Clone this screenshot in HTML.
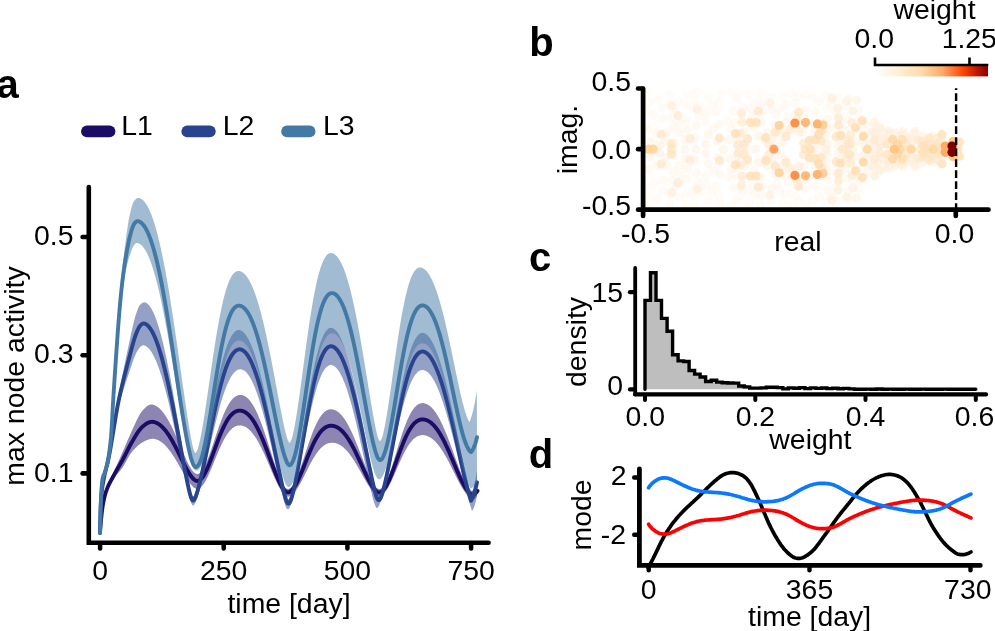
<!DOCTYPE html><html><head><meta charset="utf-8"><title>figure</title>
<style>html,body{margin:0;padding:0;background:#fff;}svg{display:block;will-change:transform;}text{font-family:"Liberation Sans",sans-serif;fill:#000;}</style></head><body>
<svg width="995" height="631" viewBox="0 0 995 631">
<rect width="995" height="631" fill="#fff"/>
<g id="panel-a">
<path d="M100 532.8 L100.5 525.6 L101 519.5 L101.5 514.5 L102 510.1 L102.5 506.3 L103 503.2 L103.5 500.5 L104 498.1 L104.5 495.9 L105 494 L105.5 492.2 L106 490.6 L106.5 489.1 L107 487.6 L107.5 486.3 L108 485 L108.5 483.8 L109 482.6 L109.5 481.5 L110 480.4 L110.5 479.4 L111 478.3 L111.5 477.2 L112 476.1 L112.5 474.9 L113 473.8 L113.5 472.7 L114 471.5 L114.5 470.4 L115 469.2 L115.5 468.1 L116 467 L116.5 465.8 L117 464.7 L117.5 463.6 L118 462.4 L118.5 461.3 L119 460.2 L119.5 459.1 L120 458 L120.5 456.8 L121 455.7 L121.5 454.6 L122 453.5 L122.5 452.3 L123 451.2 L123.5 450 L124 448.9 L124.5 447.7 L125 446.5 L125.5 445.3 L126 444.2 L126.5 443 L127 441.8 L127.5 440.6 L128 439.5 L128.5 438.3 L129 437.2 L129.5 436 L130 434.9 L130.5 433.8 L131 432.7 L131.5 431.6 L132 430.6 L132.5 429.5 L133 428.4 L133.5 427.3 L134 426.2 L134.5 425.1 L135 424 L135.5 422.9 L136 421.8 L136.5 420.7 L137 419.7 L137.5 418.7 L138 417.7 L138.5 416.8 L139 415.8 L139.5 415 L140 414.1 L140.5 413.3 L141 412.6 L141.5 411.9 L142 411.3 L142.5 410.6 L143 410 L143.5 409.5 L144 408.9 L144.5 408.4 L145 407.9 L145.5 407.4 L146 407 L146.5 406.6 L147 406.2 L147.5 405.9 L148 405.5 L148.5 405.3 L149 405 L149.5 404.9 L150 404.7 L150.1 404.6 L150.6 404.5 L151.1 404.5 L151.6 404.5 L152.1 404.6 L152.6 404.6 L153.1 404.7 L153.6 404.9 L154.1 405 L154.6 405.2 L155.1 405.4 L155.6 405.7 L156.1 406 L156.6 406.3 L157.1 406.6 L157.6 406.9 L158.1 407.3 L158.6 407.7 L159.1 408.1 L159.6 408.6 L160.1 409 L160.6 409.5 L161.1 410.1 L161.6 410.6 L162.1 411.2 L162.6 411.8 L163.1 412.4 L163.6 413.1 L164.1 413.7 L164.6 414.4 L165.1 415.2 L165.6 415.9 L166.1 416.7 L166.6 417.5 L167.1 418.3 L167.6 419.2 L168.1 420 L168.6 420.9 L169.1 421.8 L169.6 422.7 L170.1 423.7 L170.6 424.7 L171.1 425.6 L171.6 426.6 L172.1 427.7 L172.6 428.7 L173.1 429.8 L173.6 430.8 L174.1 431.9 L174.6 433 L175.1 434.1 L175.6 435.3 L176.1 436.4 L176.6 437.5 L177.1 438.7 L177.6 439.8 L178.1 441 L178.6 442.2 L179.1 443.4 L179.6 444.5 L180.1 445.7 L180.6 446.9 L181.1 448.1 L181.6 449.2 L182.1 450.4 L182.6 451.6 L183.1 452.7 L183.6 453.9 L184.1 455 L184.6 456.1 L185.1 457.2 L185.6 458.3 L186.1 459.4 L186.6 460.5 L187.1 461.5 L187.6 462.5 L188.1 463.5 L188.6 464.4 L189.1 465.4 L189.6 466.3 L190.1 467.1 L190.6 467.9 L191.1 468.7 L191.6 469.5 L192.1 470.2 L192.6 470.8 L193.1 471.4 L193.6 472 L194.1 472.5 L194.6 472.9 L195.1 473.3 L195.6 473.6 L196.1 473.8 L196.6 473.9 L197 474 L197.5 474 L198 473.9 L198.5 473.8 L199 473.5 L199.5 473.2 L200 472.8 L200.5 472.4 L201 471.9 L201.5 471.3 L202 470.6 L202.5 469.9 L203 469.1 L203.5 468.3 L204 467.4 L204.5 466.5 L205 465.5 L205.5 464.4 L206 463.3 L206.5 462.2 L207 461 L207.5 459.8 L208 458.5 L208.5 457.2 L209 455.9 L209.5 454.5 L210 453.1 L210.5 451.7 L211 450.3 L211.5 448.8 L212 447.3 L212.5 445.9 L213 444.4 L213.5 442.9 L214 441.4 L214.5 439.8 L215 438.3 L215.5 436.8 L216 435.3 L216.5 433.8 L217 432.4 L217.5 430.9 L218 429.4 L218.5 428 L219 426.5 L219.5 425.1 L220 423.7 L220.5 422.4 L221 421 L221.5 419.7 L222 418.4 L222.5 417.2 L223 415.9 L223.5 414.7 L224 413.6 L224.5 412.4 L225 411.3 L225.5 410.2 L226 409.2 L226.5 408.2 L227 407.2 L227.5 406.3 L228 405.4 L228.5 404.6 L229 403.7 L229.5 403 L230 402.2 L230.5 401.5 L231 400.8 L231.5 400.2 L232 399.6 L232.5 399 L233 398.5 L233.5 398 L234 397.6 L234.5 397.2 L235 396.8 L235.5 396.5 L236 396.2 L236.5 395.9 L237 395.7 L237.5 395.4 L238 395.3 L238.5 395.1 L239 395 L239.5 395 L240 394.9 L240.4 394.9 L240.9 394.9 L241.4 395 L241.9 395 L242.4 395.2 L242.9 395.3 L243.4 395.5 L243.9 395.7 L244.4 395.9 L244.9 396.2 L245.4 396.5 L245.9 396.8 L246.4 397.2 L246.9 397.6 L247.4 398 L247.9 398.5 L248.4 399 L248.9 399.5 L249.4 400.1 L249.9 400.7 L250.4 401.3 L250.9 402 L251.4 402.7 L251.9 403.4 L252.4 404.2 L252.9 405 L253.4 405.8 L253.9 406.7 L254.4 407.6 L254.9 408.5 L255.4 409.5 L255.9 410.5 L256.4 411.5 L256.9 412.6 L257.4 413.7 L257.9 414.8 L258.4 416 L258.9 417.2 L259.4 418.4 L259.9 419.6 L260.4 420.9 L260.9 422.2 L261.4 423.5 L261.9 424.9 L262.4 426.3 L262.9 427.6 L263.4 429.1 L263.9 430.5 L264.4 432 L264.9 433.4 L265.4 434.9 L265.9 436.4 L266.4 438 L266.9 439.5 L267.4 441 L267.9 442.6 L268.4 444.2 L268.9 445.7 L269.4 447.3 L269.9 448.9 L270.4 450.5 L270.9 452 L271.4 453.6 L271.9 455.2 L272.4 456.8 L272.9 458.3 L273.4 459.9 L273.9 461.4 L274.4 463 L274.9 464.5 L275.4 465.9 L275.9 467.4 L276.4 468.9 L276.9 470.3 L277.4 471.7 L277.9 473 L278.4 474.4 L278.9 475.7 L279.4 476.9 L279.9 478.1 L280.4 479.3 L280.9 480.4 L281.4 481.5 L281.9 482.5 L282.4 483.4 L282.9 484.3 L283.4 485.1 L283.9 485.9 L284.4 486.6 L284.9 487.2 L285.4 487.7 L285.9 488.1 L286.4 488.4 L286.9 488.7 L287.4 488.8 L287.9 488.9 L288.4 488.9 L288.9 488.8 L289.4 488.5 L289.9 488.3 L290.4 487.9 L290.9 487.4 L291.4 486.9 L291.9 486.3 L292.4 485.7 L292.9 485 L293.4 484.2 L293.9 483.3 L294.4 482.4 L294.9 481.5 L295.4 480.5 L295.9 479.4 L296.4 478.3 L296.9 477.2 L297.4 476 L297.9 474.7 L298.4 473.4 L298.9 472.1 L299.4 470.8 L299.9 469.4 L300.4 468 L300.9 466.6 L301.4 465.1 L301.9 463.7 L302.4 462.2 L302.9 460.7 L303.4 459.2 L303.9 457.7 L304.4 456.2 L304.9 454.7 L305.4 453.1 L305.9 451.6 L306.4 450.1 L306.9 448.6 L307.4 447.1 L307.9 445.6 L308.4 444.1 L308.9 442.7 L309.4 441.2 L309.9 439.8 L310.4 438.4 L310.9 437 L311.4 435.7 L311.9 434.4 L312.4 433.1 L312.9 431.8 L313.4 430.5 L313.9 429.3 L314.4 428.2 L314.9 427 L315.4 425.9 L315.9 424.8 L316.4 423.8 L316.9 422.7 L317.4 421.8 L317.9 420.8 L318.4 419.9 L318.9 419.1 L319.4 418.2 L319.9 417.5 L320.4 416.7 L320.9 416 L321.4 415.3 L321.9 414.7 L322.4 414.1 L322.9 413.5 L323.4 413 L323.9 412.5 L324.4 412.1 L324.9 411.6 L325.4 411.3 L325.9 410.9 L326.4 410.6 L326.9 410.3 L327.4 410.1 L327.9 409.9 L328.4 409.7 L328.9 409.6 L329.4 409.5 L329.9 409.4 L330.4 409.3 L330.8 409.3 L331.3 409.3 L331.8 409.3 L332.3 409.4 L332.8 409.5 L333.3 409.6 L333.8 409.7 L334.3 409.9 L334.8 410.1 L335.3 410.3 L335.8 410.5 L336.3 410.8 L336.8 411.1 L337.3 411.4 L337.8 411.8 L338.3 412.1 L338.8 412.5 L339.3 413 L339.8 413.4 L340.3 413.9 L340.8 414.4 L341.3 415 L341.8 415.5 L342.3 416.1 L342.8 416.7 L343.3 417.4 L343.8 418.1 L344.3 418.8 L344.8 419.5 L345.3 420.3 L345.8 421 L346.3 421.8 L346.8 422.7 L347.3 423.5 L347.8 424.4 L348.3 425.3 L348.8 426.3 L349.3 427.2 L349.8 428.2 L350.3 429.2 L350.8 430.3 L351.3 431.3 L351.8 432.4 L352.3 433.5 L352.8 434.6 L353.3 435.7 L353.8 436.9 L354.3 438 L354.8 439.2 L355.3 440.4 L355.8 441.6 L356.3 442.9 L356.8 444.1 L357.3 445.4 L357.8 446.6 L358.3 447.9 L358.8 449.2 L359.3 450.5 L359.8 451.8 L360.3 453.1 L360.8 454.4 L361.3 455.7 L361.8 457 L362.3 458.3 L362.8 459.6 L363.3 460.9 L363.8 462.2 L364.3 463.5 L364.8 464.8 L365.3 466.1 L365.8 467.3 L366.3 468.6 L366.8 469.8 L367.3 471 L367.8 472.2 L368.3 473.4 L368.8 474.5 L369.3 475.7 L369.8 476.8 L370.3 477.8 L370.8 478.9 L371.3 479.9 L371.8 480.8 L372.3 481.8 L372.8 482.7 L373.3 483.5 L373.8 484.3 L374.3 485 L374.8 485.7 L375.3 486.4 L375.8 486.9 L376.3 487.5 L376.8 487.9 L377.3 488.3 L377.8 488.6 L378.3 488.8 L378.8 488.9 L379 489 L379.5 489 L380 488.9 L380.5 488.7 L381 488.4 L381.5 488.1 L382 487.7 L382.5 487.2 L383 486.6 L383.5 486 L384 485.3 L384.5 484.5 L385 483.6 L385.5 482.7 L386 481.8 L386.5 480.7 L387 479.6 L387.5 478.5 L388 477.3 L388.5 476 L389 474.8 L389.5 473.4 L390 472 L390.5 470.6 L391 469.2 L391.5 467.7 L392 466.2 L392.5 464.6 L393 463.1 L393.5 461.5 L394 459.9 L394.5 458.3 L395 456.7 L395.5 455 L396 453.4 L396.5 451.8 L397 450.1 L397.5 448.5 L398 446.9 L398.5 445.2 L399 443.6 L399.5 442 L400 440.4 L400.5 438.9 L401 437.3 L401.5 435.8 L402 434.3 L402.5 432.8 L403 431.3 L403.5 429.9 L404 428.5 L404.5 427.1 L405 425.8 L405.5 424.5 L406 423.2 L406.5 422 L407 420.8 L407.5 419.6 L408 418.5 L408.5 417.4 L409 416.4 L409.5 415.4 L410 414.4 L410.5 413.5 L411 412.6 L411.5 411.8 L412 411 L412.5 410.2 L413 409.5 L413.5 408.8 L414 408.2 L414.5 407.6 L415 407 L415.5 406.5 L416 406 L416.5 405.6 L417 405.2 L417.5 404.8 L418 404.5 L418.5 404.2 L419 403.9 L419.5 403.7 L420 403.5 L420.5 403.4 L421 403.3 L421.5 403.2 L422 403.1 L422.3 403.1 L422.8 403.1 L423.3 403.1 L423.8 403.2 L424.3 403.3 L424.8 403.4 L425.3 403.5 L425.8 403.7 L426.3 403.9 L426.8 404.1 L427.3 404.4 L427.8 404.6 L428.3 404.9 L428.8 405.3 L429.3 405.6 L429.8 406 L430.3 406.4 L430.8 406.8 L431.3 407.3 L431.8 407.8 L432.3 408.3 L432.8 408.9 L433.3 409.5 L433.8 410.1 L434.3 410.7 L434.8 411.4 L435.3 412.1 L435.8 412.8 L436.3 413.5 L436.8 414.3 L437.3 415.1 L437.8 415.9 L438.3 416.8 L438.8 417.7 L439.3 418.6 L439.8 419.5 L440.3 420.5 L440.8 421.5 L441.3 422.5 L441.8 423.5 L442.3 424.6 L442.8 425.6 L443.3 426.7 L443.8 427.9 L444.3 429 L444.8 430.2 L445.3 431.4 L445.8 432.6 L446.3 433.8 L446.8 435.1 L447.3 436.3 L447.8 437.6 L448.3 438.9 L448.8 440.2 L449.3 441.5 L449.8 442.8 L450.3 444.2 L450.8 445.5 L451.3 446.9 L451.8 448.3 L452.3 449.6 L452.8 451 L453.3 452.4 L453.8 453.8 L454.3 455.2 L454.8 456.5 L455.3 457.9 L455.8 459.3 L456.3 460.7 L456.8 462 L457.3 463.4 L457.8 464.7 L458.3 466.1 L458.8 467.4 L459.3 468.7 L459.8 470 L460.3 471.2 L460.8 472.5 L461.3 473.7 L461.8 474.9 L462.3 476.1 L462.8 477.2 L463.3 478.3 L463.8 479.4 L464.3 480.4 L464.8 481.4 L465.3 482.4 L465.8 483.3 L466.3 484.2 L466.8 485 L467.3 485.8 L467.8 486.5 L468.3 487.2 L468.8 487.8 L469.3 488.4 L469.8 489.1 L470.3 489.6 L470.8 490.2 L471.3 490.6 L471.8 490.9 L472 491 L472.5 490.8 L473 490.6 L473.5 490.3 L474 489.9 L474.5 489.5 L475 489 L475.5 488.4 L476 487.7 L476.5 486.9 L477 486 L477 496 L476.5 496.7 L476 497.3 L475.5 497.8 L475 498.2 L474.5 498.5 L474 498.7 L473.5 498.8 L473 498.9 L472.5 499 L472 499 L471.8 498.9 L471.3 498.7 L470.8 498.4 L470.3 498 L469.8 497.6 L469.3 497.1 L468.8 496.7 L468.3 496.2 L467.8 495.7 L467.3 495.2 L466.8 494.7 L466.3 494.1 L465.8 493.4 L465.3 492.8 L464.8 492.1 L464.3 491.3 L463.8 490.6 L463.3 489.8 L462.8 489 L462.3 488.1 L461.8 487.3 L461.3 486.4 L460.8 485.5 L460.3 484.6 L459.8 483.7 L459.3 482.8 L458.8 481.8 L458.3 480.9 L457.8 479.9 L457.3 478.9 L456.8 477.9 L456.3 476.9 L455.8 475.9 L455.3 474.9 L454.8 473.9 L454.3 472.9 L453.8 471.9 L453.3 470.9 L452.8 469.9 L452.3 468.9 L451.8 467.9 L451.3 466.9 L450.8 465.9 L450.3 465 L449.8 464 L449.3 463 L448.8 462.1 L448.3 461.1 L447.8 460.2 L447.3 459.2 L446.8 458.3 L446.3 457.4 L445.8 456.5 L445.3 455.7 L444.8 454.8 L444.3 453.9 L443.8 453.1 L443.3 452.3 L442.8 451.5 L442.3 450.7 L441.8 449.9 L441.3 449.2 L440.8 448.4 L440.3 447.7 L439.8 447 L439.3 446.4 L438.8 445.7 L438.3 445.1 L437.8 444.4 L437.3 443.8 L436.8 443.2 L436.3 442.7 L435.8 442.1 L435.3 441.6 L434.8 441.1 L434.3 440.6 L433.8 440.2 L433.3 439.7 L432.8 439.3 L432.3 438.9 L431.8 438.5 L431.3 438.2 L430.8 437.8 L430.3 437.5 L429.8 437.2 L429.3 436.9 L428.8 436.7 L428.3 436.4 L427.8 436.2 L427.3 436 L426.8 435.8 L426.3 435.7 L425.8 435.5 L425.3 435.4 L424.8 435.3 L424.3 435.2 L423.8 435.2 L423.3 435.1 L422.8 435.1 L422.3 435.1 L422 435.1 L421.5 435.2 L421 435.2 L420.5 435.3 L420 435.4 L419.5 435.5 L419 435.7 L418.5 435.9 L418 436.1 L417.5 436.3 L417 436.6 L416.5 436.8 L416 437.2 L415.5 437.5 L415 437.9 L414.5 438.3 L414 438.7 L413.5 439.1 L413 439.6 L412.5 440.1 L412 440.7 L411.5 441.3 L411 441.9 L410.5 442.5 L410 443.1 L409.5 443.8 L409 444.5 L408.5 445.3 L408 446 L407.5 446.8 L407 447.7 L406.5 448.5 L406 449.4 L405.5 450.3 L405 451.2 L404.5 452.2 L404 453.1 L403.5 454.1 L403 455.1 L402.5 456.2 L402 457.2 L401.5 458.3 L401 459.4 L400.5 460.5 L400 461.6 L399.5 462.7 L399 463.9 L398.5 465 L398 466.2 L397.5 467.3 L397 468.5 L396.5 469.6 L396 470.8 L395.5 472 L395 473.1 L394.5 474.3 L394 475.4 L393.5 476.6 L393 477.7 L392.5 478.8 L392 479.9 L391.5 480.9 L391 482 L390.5 483 L390 484 L389.5 485 L389 486 L388.5 486.9 L388 487.8 L387.5 488.6 L387 489.4 L386.5 490.2 L386 490.9 L385.5 491.6 L385 492.3 L384.5 492.9 L384 493.4 L383.5 493.9 L383 494.4 L382.5 494.8 L382 495.1 L381.5 495.4 L381 495.6 L380.5 495.8 L380 495.9 L379.5 496 L379 496 L378.5 495.9 L378 495.8 L377.5 495.6 L377 495.4 L376.5 495.1 L376 494.8 L375.5 494.4 L375 494 L374.5 493.5 L374 493 L373.5 492.5 L373 491.9 L372.5 491.3 L372 490.7 L371.5 490 L371 489.3 L370.5 488.6 L370 487.9 L369.5 487.1 L369 486.3 L368.5 485.5 L368 484.7 L367.5 483.9 L367 483.1 L366.5 482.2 L366 481.4 L365.5 480.5 L365 479.6 L364.5 478.8 L364 477.9 L363.5 477 L363 476.1 L362.5 475.2 L362 474.3 L361.5 473.4 L361 472.5 L360.5 471.6 L360 470.7 L359.5 469.8 L359 468.9 L358.5 468 L358 467.2 L357.5 466.3 L357 465.5 L356.5 464.6 L356 463.8 L355.5 462.9 L355 462.1 L354.5 461.3 L354 460.5 L353.5 459.7 L353 459 L352.5 458.2 L352 457.5 L351.5 456.8 L351 456.1 L350.5 455.4 L350 454.7 L349.5 454 L349 453.4 L348.5 452.8 L348 452.2 L347.5 451.6 L347 451 L346.5 450.5 L346 449.9 L345.5 449.4 L345 448.9 L344.5 448.4 L344 448 L343.5 447.5 L343 447.1 L342.5 446.7 L342 446.3 L341.5 446 L341 445.6 L340.5 445.3 L340 445 L339.5 444.7 L339 444.5 L338.5 444.2 L338 444 L337.5 443.8 L337 443.6 L336.5 443.4 L336 443.3 L335.5 443.1 L335 443 L334.5 442.9 L334 442.8 L333.5 442.8 L333 442.7 L332.5 442.7 L332 442.7 L331.9 442.7 L331.4 442.7 L330.9 442.8 L330.4 442.8 L329.9 442.9 L329.4 443 L328.9 443.1 L328.4 443.3 L327.9 443.4 L327.4 443.6 L326.9 443.8 L326.4 444.1 L325.9 444.3 L325.4 444.6 L324.9 444.9 L324.4 445.2 L323.9 445.6 L323.4 445.9 L322.9 446.3 L322.4 446.7 L321.9 447.2 L321.4 447.6 L320.9 448.1 L320.4 448.6 L319.9 449.2 L319.4 449.7 L318.9 450.3 L318.4 450.9 L317.9 451.6 L317.4 452.2 L316.9 452.9 L316.4 453.6 L315.9 454.3 L315.4 455.1 L314.9 455.9 L314.4 456.7 L313.9 457.5 L313.4 458.3 L312.9 459.1 L312.4 460 L311.9 460.9 L311.4 461.8 L310.9 462.7 L310.4 463.6 L309.9 464.6 L309.4 465.5 L308.9 466.5 L308.4 467.5 L307.9 468.4 L307.4 469.4 L306.9 470.4 L306.4 471.4 L305.9 472.4 L305.4 473.4 L304.9 474.4 L304.4 475.4 L303.9 476.4 L303.4 477.4 L302.9 478.4 L302.4 479.4 L301.9 480.4 L301.4 481.3 L300.9 482.3 L300.4 483.2 L299.9 484.1 L299.4 485 L298.9 485.9 L298.4 486.7 L297.9 487.5 L297.4 488.4 L296.9 489.1 L296.4 489.9 L295.9 490.6 L295.4 491.3 L294.9 491.9 L294.4 492.5 L293.9 493.1 L293.4 493.7 L292.9 494.2 L292.4 494.6 L291.9 495.1 L291.4 495.4 L290.9 495.8 L290.4 496.1 L289.9 496.3 L289.4 496.5 L288.9 496.6 L288.4 496.7 L287.9 496.7 L287.4 496.7 L287.1 496.5 L286.6 496.4 L286.1 496.1 L285.6 495.8 L285.1 495.5 L284.6 495.1 L284.1 494.6 L283.6 494.1 L283.1 493.5 L282.6 492.8 L282.1 492.1 L281.6 491.4 L281.1 490.6 L280.6 489.8 L280.1 489 L279.6 488.1 L279.1 487.2 L278.6 486.2 L278.1 485.3 L277.6 484.3 L277.1 483.3 L276.6 482.2 L276.1 481.2 L275.6 480.1 L275.1 479 L274.6 477.9 L274.1 476.7 L273.6 475.6 L273.1 474.5 L272.6 473.3 L272.1 472.1 L271.6 471 L271.1 469.8 L270.6 468.6 L270.1 467.4 L269.6 466.3 L269.1 465.1 L268.6 463.9 L268.1 462.7 L267.6 461.6 L267.1 460.4 L266.6 459.3 L266.1 458.1 L265.6 457 L265.1 455.9 L264.6 454.7 L264.1 453.6 L263.6 452.5 L263.1 451.5 L262.6 450.4 L262.1 449.4 L261.6 448.3 L261.1 447.3 L260.6 446.4 L260.1 445.4 L259.6 444.4 L259.1 443.5 L258.6 442.6 L258.1 441.7 L257.6 440.8 L257.1 440 L256.6 439.1 L256.1 438.3 L255.6 437.6 L255.1 436.8 L254.6 436.1 L254.1 435.4 L253.6 434.7 L253.1 434 L252.6 433.4 L252.1 432.7 L251.6 432.2 L251.1 431.6 L250.6 431.1 L250.1 430.5 L249.6 430.1 L249.1 429.6 L248.6 429.1 L248.1 428.7 L247.6 428.3 L247.1 428 L246.6 427.6 L246.1 427.3 L245.6 427 L245.1 426.8 L244.6 426.5 L244.1 426.3 L243.6 426.1 L243.1 425.9 L242.6 425.8 L242.1 425.7 L241.6 425.6 L241.1 425.5 L240.6 425.4 L240.1 425.4 L239.6 425.4 L239.1 425.4 L238.6 425.5 L238.1 425.5 L237.6 425.6 L237.1 425.8 L236.6 425.9 L236.1 426.1 L235.6 426.3 L235.1 426.5 L234.6 426.8 L234.1 427.1 L233.6 427.4 L233.1 427.7 L232.6 428.1 L232.1 428.5 L231.6 429 L231.1 429.4 L230.6 430 L230.1 430.5 L229.6 431.1 L229.1 431.7 L228.6 432.3 L228.1 432.9 L227.6 433.6 L227.1 434.4 L226.6 435.1 L226.1 435.9 L225.6 436.7 L225.1 437.6 L224.6 438.4 L224.1 439.3 L223.6 440.3 L223.1 441.2 L222.6 442.2 L222.1 443.2 L221.6 444.2 L221.1 445.3 L220.6 446.4 L220.1 447.5 L219.6 448.6 L219.1 449.7 L218.6 450.9 L218.1 452.1 L217.6 453.2 L217.1 454.4 L216.6 455.6 L216.1 456.9 L215.6 458.1 L215.1 459.3 L214.6 460.6 L214.1 461.8 L213.6 463 L213.1 464.2 L212.6 465.5 L212.1 466.7 L211.6 467.9 L211.1 469.1 L210.6 470.3 L210.1 471.4 L209.6 472.6 L209.1 473.7 L208.6 474.8 L208.1 475.9 L207.6 477 L207.1 478 L206.6 479 L206.1 479.9 L205.6 480.8 L205.1 481.7 L204.6 482.5 L204.1 483.3 L203.6 484.1 L203.1 484.8 L202.6 485.4 L202.1 486 L201.6 486.5 L201.1 487 L200.6 487.5 L200.1 487.9 L199.6 488.2 L199.1 488.4 L198.6 488.6 L198.1 488.8 L197.6 488.9 L197.1 488.9 L196.9 488.9 L196.4 488.8 L195.9 488.6 L195.4 488.4 L194.9 488.2 L194.4 487.9 L193.9 487.5 L193.4 487.1 L192.9 486.6 L192.4 486.2 L191.9 485.6 L191.4 485.1 L190.9 484.5 L190.4 483.9 L189.9 483.2 L189.4 482.6 L188.9 481.9 L188.4 481.1 L187.9 480.4 L187.4 479.7 L186.9 478.9 L186.4 478.1 L185.9 477.3 L185.4 476.5 L184.9 475.6 L184.4 474.8 L183.9 473.9 L183.4 473.1 L182.9 472.2 L182.4 471.3 L181.9 470.5 L181.4 469.6 L180.9 468.7 L180.4 467.8 L179.9 466.9 L179.4 466.1 L178.9 465.2 L178.4 464.3 L177.9 463.5 L177.4 462.6 L176.9 461.7 L176.4 460.9 L175.9 460.1 L175.4 459.2 L174.9 458.4 L174.4 457.6 L173.9 456.8 L173.4 456 L172.9 455.2 L172.4 454.5 L171.9 453.7 L171.4 453 L170.9 452.3 L170.4 451.6 L169.9 450.9 L169.4 450.3 L168.9 449.6 L168.4 449 L167.9 448.4 L167.4 447.8 L166.9 447.2 L166.4 446.6 L165.9 446.1 L165.4 445.5 L164.9 445 L164.4 444.6 L163.9 444.1 L163.4 443.6 L162.9 443.2 L162.4 442.8 L161.9 442.4 L161.4 442.1 L160.9 441.7 L160.4 441.4 L159.9 441.1 L159.4 440.8 L158.9 440.5 L158.4 440.3 L157.9 440 L157.4 439.8 L156.9 439.6 L156.4 439.5 L155.9 439.3 L155.4 439.2 L154.9 439.1 L154.4 439 L153.9 438.9 L153.4 438.8 L152.9 438.8 L152.4 438.8 L151.9 438.8 L151.5 438.9 L151 438.9 L150.5 439 L150 439.1 L149.5 439.2 L149 439.4 L148.5 439.5 L148 439.7 L147.5 439.9 L147 440.1 L146.5 440.3 L146 440.5 L145.5 440.7 L145 441 L144.5 441.2 L144 441.5 L143.5 441.7 L143 442 L142.5 442.3 L142 442.6 L141.5 442.9 L141 443.2 L140.5 443.6 L140 443.9 L139.5 444.3 L139 444.7 L138.5 445.1 L138 445.5 L137.5 446 L137 446.4 L136.5 446.9 L136 447.4 L135.5 447.9 L135 448.4 L134.5 448.9 L134 449.5 L133.5 450.1 L133 450.6 L132.5 451.2 L132 451.8 L131.5 452.4 L131 453.1 L130.5 453.8 L130 454.5 L129.5 455.3 L129 456.2 L128.5 457 L128 457.9 L127.5 458.8 L127 459.7 L126.5 460.7 L126 461.6 L125.5 462.5 L125 463.4 L124.5 464.3 L124 465.2 L123.5 466 L123 466.8 L122.5 467.6 L122 468.3 L121.5 469 L121 469.6 L120.5 470.2 L120 470.9 L119.5 471.5 L119 472.1 L118.5 472.7 L118 473.3 L117.5 473.9 L117 474.5 L116.5 475.1 L116 475.8 L115.5 476.4 L115 477.1 L114.5 477.7 L114 478.4 L113.5 479.1 L113 479.8 L112.5 480.5 L112 481.2 L111.5 482 L111 482.8 L110.5 483.5 L110 484.3 L109.5 485.2 L109 486.1 L108.5 487 L108 488 L107.5 489.1 L107 490.2 L106.5 491.5 L106 492.9 L105.5 494.3 L105 496 L104.5 497.9 L104 500.1 L103.5 502.5 L103 505.2 L102.5 508.3 L102 511.8 L101.5 515.9 L101 520.5 L100.5 526.1 L100 532.8Z" fill="#1b0c66" fill-opacity="0.5" stroke="none"/>
<path d="M100 532.8 L100.5 525.9 L101 520 L101.5 515.2 L102 510.9 L102.5 507.3 L103 504.2 L103.5 501.5 L104 499.1 L104.5 496.9 L105 495 L105.5 493.3 L106 491.7 L106.5 490.3 L107 488.9 L107.5 487.7 L108 486.5 L108.5 485.4 L109 484.3 L109.5 483.3 L110 482.4 L110.5 481.5 L111 480.5 L111.5 479.6 L112 478.7 L112.5 477.7 L113 476.8 L113.5 475.9 L114 475 L114.5 474 L115 473.1 L115.5 472.3 L116 471.4 L116.5 470.5 L117 469.6 L117.5 468.7 L118 467.9 L118.5 467 L119 466.2 L119.5 465.3 L120 464.5 L120.5 463.6 L121 462.7 L121.5 461.9 L122 461 L122.5 460.1 L123 459.1 L123.5 458.2 L124 457.2 L124.5 456.3 L125 455.3 L125.5 454.3 L126 453.3 L126.5 452.3 L127 451.3 L127.5 450.3 L128 449.3 L128.5 448.3 L129 447.4 L129.5 446.4 L130 445.5 L130.5 444.6 L131 443.7 L131.5 442.8 L132 442 L132.5 441.1 L133 440.3 L133.5 439.4 L134 438.5 L134.5 437.7 L135 436.8 L135.5 436 L136 435.2 L136.5 434.3 L137 433.5 L137.5 432.8 L138 432 L138.5 431.3 L139 430.6 L139.5 430 L140 429.3 L140.5 428.8 L141 428.2 L141.5 427.7 L142 427.2 L142.5 426.7 L143 426.3 L143.5 425.9 L144 425.4 L144.5 425.1 L145 424.7 L145.5 424.3 L146 424 L146.5 423.6 L147 423.4 L147.5 423.1 L148 422.8 L148.5 422.6 L149 422.4 L149.5 422.2 L150 422.1 L150.5 422 L151 421.9 L151.5 421.9 L152 421.8 L152.5 421.8 L153 421.9 L153.5 422 L154 422 L154.5 422.2 L155 422.3 L155.5 422.5 L156 422.7 L156.5 422.9 L157 423.1 L157.5 423.4 L158 423.7 L158.5 424 L159 424.3 L159.5 424.7 L160 425 L160.5 425.4 L161 425.8 L161.5 426.3 L162 426.8 L162.5 427.2 L163 427.7 L163.5 428.3 L164 428.8 L164.5 429.4 L165 430 L165.5 430.6 L166 431.2 L166.5 431.9 L167 432.6 L167.5 433.3 L168 434 L168.5 434.7 L169 435.5 L169.5 436.3 L170 437.1 L170.5 437.9 L171 438.7 L171.5 439.6 L172 440.4 L172.5 441.3 L173 442.2 L173.5 443.1 L174 444.1 L174.5 445 L175 445.9 L175.5 446.9 L176 447.9 L176.5 448.9 L177 449.8 L177.5 450.8 L178 451.8 L178.5 452.8 L179 453.9 L179.5 454.9 L180 455.9 L180.5 456.9 L181 457.9 L181.5 459 L182 460 L182.5 461 L183 462 L183.5 463 L184 464 L184.5 464.9 L185 465.9 L185.5 466.9 L186 467.8 L186.5 468.7 L187 469.6 L187.5 470.5 L188 471.4 L188.5 472.2 L189 473.1 L189.5 473.9 L190 474.6 L190.5 475.4 L191 476.1 L191.5 476.7 L192 477.4 L192.5 477.9 L193 478.5 L193.5 479 L194 479.4 L194.5 479.8 L195 480.2 L195.5 480.5 L196 480.7 L196.5 480.9 L197 481 L197.1 481 L197.6 481 L198.1 480.9 L198.6 480.7 L199.1 480.5 L199.6 480.2 L200.1 479.8 L200.6 479.4 L201.1 478.9 L201.6 478.4 L202.1 477.8 L202.6 477.1 L203.1 476.4 L203.6 475.6 L204.1 474.8 L204.6 473.9 L205.1 473 L205.6 472 L206.1 471 L206.6 470 L207.1 468.9 L207.6 467.7 L208.1 466.6 L208.6 465.4 L209.1 464.2 L209.6 462.9 L210.1 461.6 L210.6 460.3 L211.1 459 L211.6 457.7 L212.1 456.4 L212.6 455 L213.1 453.7 L213.6 452.3 L214.1 450.9 L214.6 449.6 L215.1 448.2 L215.6 446.8 L216.1 445.5 L216.6 444.1 L217.1 442.8 L217.6 441.5 L218.1 440.1 L218.6 438.8 L219.1 437.6 L219.6 436.3 L220.1 435.1 L220.6 433.8 L221.1 432.7 L221.6 431.5 L222.1 430.3 L222.6 429.2 L223.1 428.1 L223.6 427.1 L224.1 426 L224.6 425 L225.1 424.1 L225.6 423.1 L226.1 422.2 L226.6 421.4 L227.1 420.5 L227.6 419.7 L228.1 419 L228.6 418.2 L229.1 417.5 L229.6 416.9 L230.1 416.2 L230.6 415.6 L231.1 415.1 L231.6 414.6 L232.1 414.1 L232.6 413.6 L233.1 413.2 L233.6 412.8 L234.1 412.4 L234.6 412.1 L235.1 411.8 L235.6 411.6 L236.1 411.3 L236.6 411.2 L237.1 411 L237.6 410.9 L238.1 410.7 L238.6 410.7 L239.1 410.6 L239.6 410.6 L240.1 410.6 L240.6 410.6 L241.1 410.7 L241.6 410.8 L242.1 410.9 L242.6 411.1 L243.1 411.2 L243.6 411.4 L244.1 411.6 L244.6 411.9 L245.1 412.2 L245.6 412.5 L246.1 412.8 L246.6 413.2 L247.1 413.6 L247.6 414 L248.1 414.4 L248.6 414.9 L249.1 415.4 L249.6 415.9 L250.1 416.5 L250.6 417.1 L251.1 417.7 L251.6 418.4 L252.1 419 L252.6 419.7 L253.1 420.5 L253.6 421.2 L254.1 422 L254.6 422.8 L255.1 423.7 L255.6 424.6 L256.1 425.5 L256.6 426.4 L257.1 427.3 L257.6 428.3 L258.1 429.3 L258.6 430.3 L259.1 431.4 L259.6 432.4 L260.1 433.5 L260.6 434.7 L261.1 435.8 L261.6 437 L262.1 438.1 L262.6 439.3 L263.1 440.5 L263.6 441.8 L264.1 443 L264.6 444.3 L265.1 445.6 L265.6 446.9 L266.1 448.2 L266.6 449.5 L267.1 450.8 L267.6 452.1 L268.1 453.5 L268.6 454.8 L269.1 456.2 L269.6 457.5 L270.1 458.9 L270.6 460.2 L271.1 461.6 L271.6 462.9 L272.1 464.3 L272.6 465.6 L273.1 466.9 L273.6 468.2 L274.1 469.5 L274.6 470.8 L275.1 472.1 L275.6 473.4 L276.1 474.6 L276.6 475.8 L277.1 477 L277.6 478.2 L278.1 479.3 L278.6 480.5 L279.1 481.5 L279.6 482.6 L280.1 483.6 L280.6 484.6 L281.1 485.5 L281.6 486.4 L282.1 487.2 L282.6 488 L283.1 488.7 L283.6 489.4 L284.1 490 L284.6 490.6 L285.1 491.1 L285.6 491.5 L286.1 491.8 L286.6 492.1 L287.1 492.3 L287.4 492.4 L287.9 492.4 L288.4 492.4 L288.9 492.3 L289.4 492.1 L289.9 491.8 L290.4 491.5 L290.9 491.2 L291.4 490.7 L291.9 490.2 L292.4 489.7 L292.9 489.1 L293.4 488.4 L293.9 487.7 L294.4 487 L294.9 486.2 L295.4 485.4 L295.9 484.5 L296.4 483.6 L296.9 482.6 L297.4 481.6 L297.9 480.6 L298.4 479.5 L298.9 478.4 L299.4 477.3 L299.9 476.2 L300.4 475 L300.9 473.8 L301.4 472.6 L301.9 471.4 L302.4 470.2 L302.9 468.9 L303.4 467.7 L303.9 466.4 L304.4 465.1 L304.9 463.9 L305.4 462.6 L305.9 461.4 L306.4 460.1 L306.9 458.8 L307.4 457.6 L307.9 456.3 L308.4 455.1 L308.9 453.9 L309.4 452.7 L309.9 451.5 L310.4 450.3 L310.9 449.2 L311.4 448.1 L311.9 446.9 L312.4 445.9 L312.9 444.8 L313.4 443.7 L313.9 442.7 L314.4 441.7 L314.9 440.8 L315.4 439.8 L315.9 438.9 L316.4 438.1 L316.9 437.2 L317.4 436.4 L317.9 435.6 L318.4 434.8 L318.9 434.1 L319.4 433.4 L319.9 432.7 L320.4 432.1 L320.9 431.5 L321.4 430.9 L321.9 430.4 L322.4 429.9 L322.9 429.4 L323.4 429 L323.9 428.5 L324.4 428.2 L324.9 427.8 L325.4 427.5 L325.9 427.2 L326.4 426.9 L326.9 426.7 L327.4 426.5 L327.9 426.3 L328.4 426.1 L328.9 426 L329.4 425.9 L329.9 425.8 L330.4 425.7 L330.9 425.7 L331 425.7 L331.5 425.7 L332 425.7 L332.5 425.8 L333 425.9 L333.5 426 L334 426.1 L334.5 426.2 L335 426.4 L335.5 426.6 L336 426.8 L336.5 427 L337 427.2 L337.5 427.5 L338 427.8 L338.5 428.1 L339 428.5 L339.5 428.8 L340 429.2 L340.5 429.6 L341 430.1 L341.5 430.5 L342 431 L342.5 431.5 L343 432 L343.5 432.6 L344 433.1 L344.5 433.7 L345 434.3 L345.5 435 L346 435.6 L346.5 436.3 L347 437 L347.5 437.8 L348 438.5 L348.5 439.3 L349 440.1 L349.5 440.9 L350 441.7 L350.5 442.6 L351 443.4 L351.5 444.3 L352 445.2 L352.5 446.2 L353 447.1 L353.5 448 L354 449 L354.5 450 L355 451 L355.5 452 L356 453 L356.5 454.1 L357 455.1 L357.5 456.2 L358 457.3 L358.5 458.3 L359 459.4 L359.5 460.5 L360 461.6 L360.5 462.7 L361 463.8 L361.5 464.9 L362 466 L362.5 467.1 L363 468.2 L363.5 469.3 L364 470.4 L364.5 471.5 L365 472.5 L365.5 473.6 L366 474.7 L366.5 475.7 L367 476.7 L367.5 477.8 L368 478.7 L368.5 479.7 L369 480.7 L369.5 481.6 L370 482.5 L370.5 483.4 L371 484.3 L371.5 485.1 L372 485.9 L372.5 486.7 L373 487.4 L373.5 488.1 L374 488.8 L374.5 489.4 L375 490 L375.5 490.5 L376 490.9 L376.5 491.3 L377 491.7 L377.5 492 L378 492.2 L378.5 492.3 L379 492.4 L379.5 492.4 L380 492.3 L380.5 492.2 L381 492 L381.5 491.7 L382 491.4 L382.5 490.9 L383 490.5 L383.5 489.9 L384 489.3 L384.5 488.6 L385 487.9 L385.5 487.2 L386 486.3 L386.5 485.4 L387 484.5 L387.5 483.5 L388 482.5 L388.5 481.5 L389 480.4 L389.5 479.2 L390 478.1 L390.5 476.9 L391 475.6 L391.5 474.4 L392 473.1 L392.5 471.8 L393 470.4 L393.5 469.1 L394 467.7 L394.5 466.4 L395 465 L395.5 463.6 L396 462.2 L396.5 460.8 L397 459.4 L397.5 458 L398 456.6 L398.5 455.3 L399 453.9 L399.5 452.5 L400 451.2 L400.5 449.8 L401 448.5 L401.5 447.2 L402 445.9 L402.5 444.7 L403 443.4 L403.5 442.2 L404 441 L404.5 439.9 L405 438.7 L405.5 437.6 L406 436.5 L406.5 435.5 L407 434.5 L407.5 433.5 L408 432.5 L408.5 431.6 L409 430.7 L409.5 429.9 L410 429 L410.5 428.2 L411 427.5 L411.5 426.8 L412 426.1 L412.5 425.4 L413 424.8 L413.5 424.2 L414 423.7 L414.5 423.2 L415 422.7 L415.5 422.3 L416 421.9 L416.5 421.5 L417 421.2 L417.5 420.8 L418 420.6 L418.5 420.3 L419 420.1 L419.5 419.9 L420 419.8 L420.5 419.6 L421 419.5 L421.5 419.5 L422 419.4 L422.3 419.4 L422.8 419.4 L423.3 419.4 L423.8 419.5 L424.3 419.6 L424.8 419.7 L425.3 419.8 L425.8 419.9 L426.3 420.1 L426.8 420.3 L427.3 420.5 L427.8 420.7 L428.3 421 L428.8 421.3 L429.3 421.6 L429.8 421.9 L430.3 422.2 L430.8 422.6 L431.3 423 L431.8 423.5 L432.3 423.9 L432.8 424.4 L433.3 424.9 L433.8 425.4 L434.3 425.9 L434.8 426.5 L435.3 427.1 L435.8 427.7 L436.3 428.4 L436.8 429 L437.3 429.7 L437.8 430.4 L438.3 431.2 L438.8 431.9 L439.3 432.7 L439.8 433.5 L440.3 434.3 L440.8 435.2 L441.3 436.1 L441.8 436.9 L442.3 437.9 L442.8 438.8 L443.3 439.7 L443.8 440.7 L444.3 441.7 L444.8 442.7 L445.3 443.7 L445.8 444.8 L446.3 445.8 L446.8 446.9 L447.3 448 L447.8 449.1 L448.3 450.2 L448.8 451.3 L449.3 452.4 L449.8 453.6 L450.3 454.7 L450.8 455.9 L451.3 457.1 L451.8 458.2 L452.3 459.4 L452.8 460.6 L453.3 461.8 L453.8 463 L454.3 464.2 L454.8 465.4 L455.3 466.5 L455.8 467.7 L456.3 468.9 L456.8 470.1 L457.3 471.2 L457.8 472.4 L458.3 473.5 L458.8 474.7 L459.3 475.8 L459.8 476.9 L460.3 478 L460.8 479.1 L461.3 480.1 L461.8 481.1 L462.3 482.2 L462.8 483.1 L463.3 484.1 L463.8 485 L464.3 485.9 L464.8 486.8 L465.3 487.6 L465.8 488.4 L466.3 489.2 L466.8 489.9 L467.3 490.5 L467.8 491.2 L468.3 491.7 L468.8 492.3 L469.3 492.8 L469.8 493.3 L470.3 493.8 L470.8 494.3 L471.3 494.7 L471.8 494.9 L472 495 L472.5 494.9 L473 494.7 L473.5 494.5 L474 494.3 L474.5 494 L475 493.7 L475.5 493.3 L476 492.8 L476.5 492.2 L477 491.6 L477.5 490.9" fill="none" stroke="#1b0c66" stroke-width="3.9" stroke-linecap="round" stroke-linejoin="round"/>
<path d="M100 532.8 L100.5 512.6 L101 499 L101.5 492.8 L102 488.1 L102.5 484.4 L103 481.4 L103.5 478.7 L104 476 L104.5 473.3 L105 470.9 L105.5 468.8 L106 466.7 L106.5 464.7 L107 462.8 L107.5 460.7 L108 458.4 L108.5 456 L109 453.4 L109.5 450.7 L110 447.9 L110.5 445 L111 442 L111.5 439 L112 435.9 L112.5 432.8 L113 429.6 L113.5 426.4 L114 423.2 L114.5 420 L115 416.8 L115.5 413.6 L116 410.5 L116.5 407.4 L117 404.3 L117.5 401.4 L118 398.5 L118.5 395.6 L119 392.9 L119.5 390.2 L120 387.6 L120.5 384.9 L121 382.3 L121.5 379.8 L122 377.2 L122.5 374.7 L123 372.2 L123.5 369.7 L124 367.2 L124.5 364.8 L125 362.3 L125.5 359.9 L126 357.5 L126.5 355.2 L127 352.8 L127.5 350.5 L128 348.2 L128.5 345.9 L129 343.6 L129.5 341.3 L130 339 L130.5 336.6 L131 334.3 L131.5 332 L132 329.7 L132.5 327.4 L133 325.3 L133.5 323.2 L134 321.2 L134.5 319.3 L135 317.4 L135.5 315.8 L136 314.2 L136.5 312.7 L137 311.3 L137.5 309.9 L138 308.6 L138.5 307.5 L139 306.5 L139.5 305.6 L140 305 L140.5 304.4 L141 303.9 L141.5 303.4 L142 303 L142.5 302.7 L143 302.5 L143.5 302.4 L144 302.3 L144.5 302.3 L145 302.4 L145.5 302.5 L146 302.7 L146.5 303 L147 303.3 L147.5 303.7 L148 304.2 L148.5 304.7 L149 305.2 L149.5 305.8 L150 306.5 L150.5 307.2 L151 308 L151.5 308.8 L152 309.7 L152.5 310.7 L153 311.7 L153.5 312.7 L154 313.9 L154.5 315 L155 316.3 L155.5 317.5 L156 318.9 L156.5 320.3 L157 321.7 L157.5 323.2 L158 324.7 L158.5 326.4 L159 328 L159.5 329.7 L160 331.5 L160.5 333.3 L161 335.1 L161.5 337 L162 339 L162.5 341 L163 343 L163.5 345.1 L164 347.3 L164.5 349.4 L165 351.7 L165.5 353.9 L166 356.2 L166.5 358.6 L167 361 L167.5 363.4 L168 365.9 L168.5 368.4 L169 370.9 L169.5 373.5 L170 376.1 L170.5 378.7 L171 381.4 L171.5 384.1 L172 386.8 L172.5 389.6 L173 392.4 L173.5 395.2 L174 398 L174.5 400.9 L175 403.7 L175.5 406.6 L176 409.5 L176.5 412.5 L177 415.4 L177.5 418.4 L178 421.3 L178.5 424.3 L179 427.3 L179.5 430.3 L180 433.3 L180.5 436.2 L181 439.2 L181.5 442.2 L182 445.2 L182.5 448.2 L183 451.1 L183.5 454.1 L184 457 L184.5 459.9 L185 462.8 L185.5 465.7 L186 468.6 L186.5 471.4 L187 474.1 L187.5 476.8 L188 479.5 L188.5 482 L189 484.5 L189.5 486.8 L190 489 L190.5 490.9 L191 492.6 L191.5 493.9 L192 495 L192.4 495.7 L192.9 496 L193.4 496 L193.9 495.6 L194.4 494.9 L194.9 493.9 L195.4 492.7 L195.9 491.3 L196.4 489.7 L196.9 488 L197.4 486.1 L197.9 484.2 L198.4 482.1 L198.9 480 L199.4 477.8 L199.9 475.5 L200.4 473.1 L200.9 470.7 L201.4 468.2 L201.9 465.7 L202.4 463.1 L202.9 460.5 L203.4 457.9 L203.9 455.2 L204.4 452.5 L204.9 449.7 L205.4 447 L205.9 444.2 L206.4 441.4 L206.9 438.6 L207.4 435.8 L207.9 433 L208.4 430.2 L208.9 427.3 L209.4 424.5 L209.9 421.7 L210.4 418.9 L210.9 416.2 L211.4 413.4 L211.9 410.6 L212.4 407.9 L212.9 405.2 L213.4 402.5 L213.9 399.9 L214.4 397.3 L214.9 394.7 L215.4 392.1 L215.9 389.6 L216.4 387.1 L216.9 384.7 L217.4 382.3 L217.9 379.9 L218.4 377.6 L218.9 375.3 L219.4 373.1 L219.9 370.9 L220.4 368.8 L220.9 366.7 L221.4 364.7 L221.9 362.7 L222.4 360.8 L222.9 359 L223.4 357.2 L223.9 355.4 L224.4 353.7 L224.9 352.1 L225.4 350.5 L225.9 349 L226.4 347.5 L226.9 346.1 L227.4 344.7 L227.9 343.5 L228.4 342.2 L228.9 341.1 L229.4 340 L229.9 338.9 L230.4 337.9 L230.9 337 L231.4 336.1 L231.9 335.3 L232.4 334.6 L232.9 333.9 L233.4 333.2 L233.9 332.7 L234.4 332.1 L234.9 331.7 L235.4 331.3 L235.9 330.9 L236.4 330.6 L236.9 330.4 L237.4 330.2 L237.9 330.1 L238.4 330 L238.7 330 L239.2 330 L239.7 330.1 L240.2 330.2 L240.7 330.4 L241.2 330.6 L241.7 330.9 L242.2 331.2 L242.7 331.6 L243.2 332 L243.7 332.4 L244.2 332.9 L244.7 333.5 L245.2 334.1 L245.7 334.8 L246.2 335.5 L246.7 336.2 L247.2 337 L247.7 337.9 L248.2 338.8 L248.7 339.7 L249.2 340.7 L249.7 341.7 L250.2 342.8 L250.7 343.9 L251.2 345.1 L251.7 346.3 L252.2 347.6 L252.7 348.9 L253.2 350.3 L253.7 351.6 L254.2 353.1 L254.7 354.6 L255.2 356.1 L255.7 357.7 L256.2 359.3 L256.7 360.9 L257.2 362.6 L257.7 364.3 L258.2 366.1 L258.7 367.9 L259.2 369.8 L259.7 371.6 L260.2 373.6 L260.7 375.5 L261.2 377.5 L261.7 379.5 L262.2 381.6 L262.7 383.7 L263.2 385.8 L263.7 388 L264.2 390.1 L264.7 392.3 L265.2 394.6 L265.7 396.9 L266.2 399.2 L266.7 401.5 L267.2 403.8 L267.7 406.2 L268.2 408.6 L268.7 411 L269.2 413.4 L269.7 415.9 L270.2 418.3 L270.7 420.8 L271.2 423.3 L271.7 425.8 L272.2 428.3 L272.7 430.9 L273.2 433.4 L273.7 436 L274.2 438.5 L274.7 441.1 L275.2 443.6 L275.7 446.2 L276.2 448.8 L276.7 451.4 L277.2 453.9 L277.7 456.5 L278.2 459 L278.7 461.6 L279.2 464.1 L279.7 466.6 L280.2 469.1 L280.7 471.6 L281.2 474 L281.7 476.5 L282.2 478.9 L282.7 481.2 L283.2 483.5 L283.7 485.8 L284.2 487.9 L284.7 490 L285.2 492 L285.7 493.8 L286.2 495.4 L286.7 496.7 L287.2 497.8 L287.7 498.5 L288 498.9 L288.5 499 L289 498.7 L289.5 498.1 L290 497.1 L290.5 495.9 L291 494.5 L291.5 492.8 L292 491 L292.5 489 L293 486.8 L293.5 484.6 L294 482.2 L294.5 479.7 L295 477.2 L295.5 474.6 L296 471.9 L296.5 469.1 L297 466.3 L297.5 463.4 L298 460.4 L298.5 457.5 L299 454.5 L299.5 451.4 L300 448.4 L300.5 445.3 L301 442.2 L301.5 439 L302 435.9 L302.5 432.8 L303 429.6 L303.5 426.5 L304 423.4 L304.5 420.3 L305 417.2 L305.5 414.1 L306 411 L306.5 408 L307 405 L307.5 402 L308 399.1 L308.5 396.2 L309 393.3 L309.5 390.5 L310 387.7 L310.5 384.9 L311 382.3 L311.5 379.6 L312 377 L312.5 374.5 L313 372 L313.5 369.6 L314 367.3 L314.5 365 L315 362.7 L315.5 360.6 L316 358.5 L316.5 356.4 L317 354.5 L317.5 352.6 L318 350.7 L318.5 349 L319 347.3 L319.5 345.6 L320 344.1 L320.5 342.6 L321 341.2 L321.5 339.9 L322 338.6 L322.5 337.4 L323 336.3 L323.5 335.2 L324 334.2 L324.5 333.3 L325 332.5 L325.5 331.7 L326 331 L326.5 330.4 L327 329.9 L327.5 329.4 L328 329 L328.5 328.6 L329 328.3 L329.5 328.1 L330 327.9 L330.5 327.8 L330.8 327.8 L331.3 327.8 L331.8 327.9 L332.3 328 L332.8 328.2 L333.3 328.4 L333.8 328.7 L334.3 329.1 L334.8 329.4 L335.3 329.9 L335.8 330.4 L336.3 330.9 L336.8 331.5 L337.3 332.2 L337.8 332.9 L338.3 333.6 L338.8 334.4 L339.3 335.3 L339.8 336.2 L340.3 337.2 L340.8 338.2 L341.3 339.2 L341.8 340.3 L342.3 341.5 L342.8 342.7 L343.3 343.9 L343.8 345.2 L344.3 346.6 L344.8 348 L345.3 349.4 L345.8 350.9 L346.3 352.5 L346.8 354 L347.3 355.7 L347.8 357.3 L348.3 359 L348.8 360.8 L349.3 362.6 L349.8 364.4 L350.3 366.3 L350.8 368.2 L351.3 370.2 L351.8 372.2 L352.3 374.2 L352.8 376.3 L353.3 378.4 L353.8 380.6 L354.3 382.8 L354.8 385 L355.3 387.2 L355.8 389.5 L356.3 391.8 L356.8 394.1 L357.3 396.5 L357.8 398.9 L358.3 401.3 L358.8 403.7 L359.3 406.2 L359.8 408.7 L360.3 411.2 L360.8 413.7 L361.3 416.3 L361.8 418.8 L362.3 421.4 L362.8 424 L363.3 426.6 L363.8 429.2 L364.3 431.8 L364.8 434.5 L365.3 437.1 L365.8 439.7 L366.3 442.4 L366.8 445 L367.3 447.7 L367.8 450.3 L368.3 452.9 L368.8 455.6 L369.3 458.2 L369.8 460.8 L370.3 463.4 L370.8 465.9 L371.3 468.5 L371.8 471 L372.3 473.5 L372.8 475.9 L373.3 478.3 L373.8 480.7 L374.3 482.9 L374.8 485.1 L375.3 487.2 L375.8 489 L376.3 490.7 L376.8 492.2 L377.3 493.4 L377.8 494.3 L378.2 494.8 L378.7 495 L379.2 494.8 L379.7 494.4 L380.2 493.6 L380.7 492.5 L381.2 491.2 L381.7 489.7 L382.2 488.1 L382.7 486.2 L383.2 484.3 L383.7 482.3 L384.2 480.1 L384.7 477.9 L385.2 475.5 L385.7 473.2 L386.2 470.7 L386.7 468.2 L387.2 465.6 L387.7 463 L388.2 460.3 L388.7 457.6 L389.2 454.8 L389.7 452 L390.2 449.2 L390.7 446.4 L391.2 443.6 L391.7 440.7 L392.2 437.8 L392.7 434.9 L393.2 432 L393.7 429.2 L394.2 426.3 L394.7 423.4 L395.2 420.5 L395.7 417.7 L396.2 414.8 L396.7 412 L397.2 409.2 L397.7 406.4 L398.2 403.7 L398.7 401 L399.2 398.3 L399.7 395.7 L400.2 393 L400.7 390.5 L401.2 387.9 L401.7 385.4 L402.2 383 L402.7 380.6 L403.2 378.3 L403.7 376 L404.2 373.7 L404.7 371.5 L405.2 369.4 L405.7 367.3 L406.2 365.2 L406.7 363.3 L407.2 361.3 L407.7 359.5 L408.2 357.7 L408.7 356 L409.2 354.3 L409.7 352.7 L410.2 351.1 L410.7 349.6 L411.2 348.2 L411.7 346.8 L412.2 345.5 L412.7 344.3 L413.2 343.1 L413.7 342 L414.2 341 L414.7 340 L415.2 339.1 L415.7 338.2 L416.2 337.5 L416.7 336.7 L417.2 336.1 L417.7 335.5 L418.2 335 L418.7 334.5 L419.2 334.1 L419.7 333.7 L420.2 333.4 L420.7 333.2 L421.2 333 L421.7 332.9 L422.2 332.8 L422.3 332.8 L422.8 332.8 L423.3 332.9 L423.8 333 L424.3 333.2 L424.8 333.4 L425.3 333.6 L425.8 334 L426.3 334.3 L426.8 334.7 L427.3 335.1 L427.8 335.6 L428.3 336.2 L428.8 336.7 L429.3 337.4 L429.8 338 L430.3 338.8 L430.8 339.5 L431.3 340.3 L431.8 341.2 L432.3 342.1 L432.8 343 L433.3 344 L433.8 345 L434.3 346.1 L434.8 347.2 L435.3 348.4 L435.8 349.6 L436.3 350.9 L436.8 352.1 L437.3 353.5 L437.8 354.8 L438.3 356.3 L438.8 357.7 L439.3 359.2 L439.8 360.7 L440.3 362.3 L440.8 363.9 L441.3 365.6 L441.8 367.3 L442.3 369 L442.8 370.7 L443.3 372.5 L443.8 374.4 L444.3 376.2 L444.8 378.1 L445.3 380.1 L445.8 382 L446.3 384 L446.8 386 L447.3 388.1 L447.8 390.1 L448.3 392.2 L448.8 394.4 L449.3 396.5 L449.8 398.7 L450.3 400.9 L450.8 403.1 L451.3 405.4 L451.8 407.7 L452.3 409.9 L452.8 412.2 L453.3 414.6 L453.8 416.9 L454.3 419.3 L454.8 421.6 L455.3 424 L455.8 426.4 L456.3 428.8 L456.8 431.2 L457.3 433.6 L457.8 436 L458.3 438.4 L458.8 440.9 L459.3 443.3 L459.8 445.7 L460.3 448.1 L460.8 450.5 L461.3 452.9 L461.8 455.3 L462.3 457.7 L462.8 460.1 L463.3 462.5 L463.8 464.8 L464.3 467.1 L464.8 469.4 L465.3 471.6 L465.8 473.9 L466.3 476 L466.8 478.2 L467.3 480.2 L467.8 482.2 L468.3 484.1 L468.8 486.1 L469.3 487.9 L469.8 489.8 L470.3 491.7 L470.8 493.4 L471 494 L471.5 493.2 L472 492.1 L472.5 490.8 L473 489.4 L473.5 487.7 L474 486 L474.5 484 L475 481.8 L475.5 479.2 L476 476.3 L476.5 473.3 L477 470 L477 495 L476.5 497.7 L476 500.3 L475.5 502.5 L475 504.5 L474.5 506 L474 507.3 L473.5 508.5 L473 509.5 L472.5 510.2 L472 510.7 L471.8 510.2 L471.3 508.7 L470.8 507.1 L470.3 505.5 L469.8 503.9 L469.3 502.3 L468.8 500.6 L468.3 498.9 L467.8 497.2 L467.3 495.4 L466.8 493.5 L466.3 491.6 L465.8 489.7 L465.3 487.8 L464.8 485.8 L464.3 483.8 L463.8 481.8 L463.3 479.8 L462.8 477.7 L462.3 475.7 L461.8 473.6 L461.3 471.6 L460.8 469.5 L460.3 467.4 L459.8 465.4 L459.3 463.3 L458.8 461.2 L458.3 459.1 L457.8 457.1 L457.3 455 L456.8 453 L456.3 450.9 L455.8 448.9 L455.3 446.8 L454.8 444.8 L454.3 442.8 L453.8 440.8 L453.3 438.8 L452.8 436.9 L452.3 434.9 L451.8 433 L451.3 431.1 L450.8 429.2 L450.3 427.3 L449.8 425.4 L449.3 423.6 L448.8 421.7 L448.3 419.9 L447.8 418.2 L447.3 416.4 L446.8 414.7 L446.3 413 L445.8 411.3 L445.3 409.7 L444.8 408 L444.3 406.4 L443.8 404.9 L443.3 403.3 L442.8 401.8 L442.3 400.4 L441.8 398.9 L441.3 397.5 L440.8 396.1 L440.3 394.7 L439.8 393.4 L439.3 392.1 L438.8 390.9 L438.3 389.7 L437.8 388.5 L437.3 387.3 L436.8 386.2 L436.3 385.1 L435.8 384.1 L435.3 383.1 L434.8 382.1 L434.3 381.1 L433.8 380.2 L433.3 379.4 L432.8 378.5 L432.3 377.7 L431.8 377 L431.3 376.3 L430.8 375.6 L430.3 375 L429.8 374.4 L429.3 373.8 L428.8 373.3 L428.3 372.8 L427.8 372.3 L427.3 371.9 L426.8 371.6 L426.3 371.2 L425.8 370.9 L425.3 370.7 L424.8 370.5 L424.3 370.3 L423.8 370.2 L423.3 370.1 L422.8 370 L422.3 370 L421.9 370 L421.4 370.1 L420.9 370.2 L420.4 370.4 L419.9 370.6 L419.4 370.8 L418.9 371.1 L418.4 371.5 L417.9 371.9 L417.4 372.3 L416.9 372.8 L416.4 373.4 L415.9 374 L415.4 374.6 L414.9 375.3 L414.4 376 L413.9 376.8 L413.4 377.7 L412.9 378.6 L412.4 379.5 L411.9 380.5 L411.4 381.6 L410.9 382.7 L410.4 383.8 L409.9 385 L409.4 386.2 L408.9 387.5 L408.4 388.9 L407.9 390.3 L407.4 391.7 L406.9 393.2 L406.4 394.7 L405.9 396.3 L405.4 397.9 L404.9 399.6 L404.4 401.3 L403.9 403.1 L403.4 404.9 L402.9 406.7 L402.4 408.6 L401.9 410.5 L401.4 412.5 L400.9 414.5 L400.4 416.5 L399.9 418.6 L399.4 420.7 L398.9 422.8 L398.4 424.9 L397.9 427.1 L397.4 429.3 L396.9 431.5 L396.4 433.8 L395.9 436.1 L395.4 438.4 L394.9 440.7 L394.4 443 L393.9 445.3 L393.4 447.7 L392.9 450 L392.4 452.4 L391.9 454.7 L391.4 457.1 L390.9 459.4 L390.4 461.8 L389.9 464.1 L389.4 466.4 L388.9 468.8 L388.4 471 L387.9 473.3 L387.4 475.6 L386.9 477.8 L386.4 480 L385.9 482.1 L385.4 484.3 L384.9 486.3 L384.4 488.4 L383.9 490.3 L383.4 492.2 L382.9 494.1 L382.4 495.9 L381.9 497.6 L381.4 499.3 L380.9 500.8 L380.4 502.3 L379.9 503.6 L379.4 504.8 L378.9 505.9 L378.4 506.8 L377.9 507.4 L377.4 507.8 L376.9 508 L376.4 507.9 L376.3 507.5 L375.8 506.8 L375.3 505.8 L374.8 504.6 L374.3 503.1 L373.8 501.5 L373.3 499.8 L372.8 497.9 L372.3 495.9 L371.8 493.8 L371.3 491.7 L370.8 489.6 L370.3 487.4 L369.8 485.1 L369.3 482.9 L368.8 480.6 L368.3 478.3 L367.8 476 L367.3 473.7 L366.8 471.4 L366.3 469 L365.8 466.7 L365.3 464.4 L364.8 462 L364.3 459.7 L363.8 457.3 L363.3 455 L362.8 452.7 L362.3 450.3 L361.8 448 L361.3 445.7 L360.8 443.4 L360.3 441.2 L359.8 438.9 L359.3 436.7 L358.8 434.4 L358.3 432.2 L357.8 430 L357.3 427.9 L356.8 425.7 L356.3 423.6 L355.8 421.5 L355.3 419.5 L354.8 417.4 L354.3 415.4 L353.8 413.4 L353.3 411.5 L352.8 409.5 L352.3 407.6 L351.8 405.8 L351.3 403.9 L350.8 402.2 L350.3 400.4 L349.8 398.7 L349.3 397 L348.8 395.3 L348.3 393.7 L347.8 392.2 L347.3 390.6 L346.8 389.1 L346.3 387.7 L345.8 386.3 L345.3 384.9 L344.8 383.6 L344.3 382.3 L343.8 381.1 L343.3 379.9 L342.8 378.7 L342.3 377.6 L341.8 376.5 L341.3 375.5 L340.8 374.6 L340.3 373.6 L339.8 372.7 L339.3 371.9 L338.8 371.1 L338.3 370.4 L337.8 369.7 L337.3 369 L336.8 368.4 L336.3 367.9 L335.8 367.4 L335.3 366.9 L334.8 366.5 L334.3 366.2 L333.8 365.9 L333.3 365.6 L332.8 365.4 L332.3 365.2 L331.8 365.1 L331.3 365 L330.8 365 L330.4 365 L329.9 365.1 L329.4 365.2 L328.9 365.4 L328.4 365.7 L327.9 366 L327.4 366.3 L326.9 366.7 L326.4 367.2 L325.9 367.7 L325.4 368.3 L324.9 368.9 L324.4 369.6 L323.9 370.4 L323.4 371.2 L322.9 372.1 L322.4 373 L321.9 374 L321.4 375.1 L320.9 376.2 L320.4 377.4 L319.9 378.6 L319.4 379.9 L318.9 381.2 L318.4 382.6 L317.9 384.1 L317.4 385.6 L316.9 387.2 L316.4 388.8 L315.9 390.5 L315.4 392.2 L314.9 394 L314.4 395.9 L313.9 397.8 L313.4 399.7 L312.9 401.7 L312.4 403.8 L311.9 405.9 L311.4 408 L310.9 410.2 L310.4 412.4 L309.9 414.7 L309.4 417 L308.9 419.3 L308.4 421.7 L307.9 424.1 L307.4 426.5 L306.9 429 L306.4 431.5 L305.9 434 L305.4 436.5 L304.9 439.1 L304.4 441.7 L303.9 444.2 L303.4 446.8 L302.9 449.5 L302.4 452.1 L301.9 454.7 L301.4 457.3 L300.9 459.9 L300.4 462.5 L299.9 465.1 L299.4 467.6 L298.9 470.2 L298.4 472.7 L297.9 475.2 L297.4 477.7 L296.9 480.1 L296.4 482.5 L295.9 484.8 L295.4 487.1 L294.9 489.4 L294.4 491.6 L293.9 493.7 L293.4 495.7 L292.9 497.7 L292.4 499.5 L291.9 501.3 L291.4 503 L290.9 504.5 L290.4 505.8 L289.9 507 L289.4 508 L288.9 508.7 L288.4 509.1 L287.9 509.3 L287.4 509.1 L286.9 508.7 L286.4 507.9 L285.9 506.9 L285.4 505.6 L284.9 504.2 L284.4 502.6 L283.9 500.8 L283.4 498.9 L282.9 497 L282.4 495 L281.9 493 L281.4 490.9 L280.9 488.8 L280.4 486.6 L279.9 484.5 L279.4 482.3 L278.9 480.1 L278.4 477.9 L277.9 475.7 L277.4 473.5 L276.9 471.3 L276.4 469 L275.9 466.8 L275.4 464.5 L274.9 462.3 L274.4 460.1 L273.9 457.9 L273.4 455.6 L272.9 453.4 L272.4 451.2 L271.9 449 L271.4 446.8 L270.9 444.6 L270.4 442.5 L269.9 440.3 L269.4 438.2 L268.9 436.1 L268.4 434 L267.9 431.9 L267.4 429.9 L266.9 427.8 L266.4 425.8 L265.9 423.9 L265.4 421.9 L264.9 420 L264.4 418 L263.9 416.2 L263.4 414.3 L262.9 412.5 L262.4 410.7 L261.9 408.9 L261.4 407.2 L260.9 405.5 L260.4 403.8 L259.9 402.2 L259.4 400.6 L258.9 399 L258.4 397.5 L257.9 396 L257.4 394.5 L256.9 393.1 L256.4 391.7 L255.9 390.4 L255.4 389 L254.9 387.8 L254.4 386.5 L253.9 385.4 L253.4 384.2 L252.9 383.1 L252.4 382 L251.9 381 L251.4 380 L250.9 379.1 L250.4 378.2 L249.9 377.3 L249.4 376.5 L248.9 375.7 L248.4 375 L247.9 374.3 L247.4 373.7 L246.9 373.1 L246.4 372.5 L245.9 372 L245.4 371.5 L244.9 371.1 L244.4 370.7 L243.9 370.4 L243.4 370.1 L242.9 369.9 L242.4 369.7 L241.9 369.5 L241.4 369.4 L240.9 369.3 L240.4 369.3 L239.9 369.3 L239.4 369.4 L238.9 369.5 L238.4 369.6 L237.9 369.8 L237.4 370.1 L236.9 370.3 L236.4 370.7 L235.9 371 L235.4 371.4 L234.9 371.9 L234.4 372.4 L233.9 372.9 L233.4 373.5 L232.9 374.2 L232.4 374.8 L231.9 375.6 L231.4 376.3 L230.9 377.1 L230.4 378 L229.9 378.9 L229.4 379.9 L228.9 380.9 L228.4 381.9 L227.9 383 L227.4 384.1 L226.9 385.3 L226.4 386.5 L225.9 387.8 L225.4 389.1 L224.9 390.4 L224.4 391.8 L223.9 393.3 L223.4 394.8 L222.9 396.3 L222.4 397.8 L221.9 399.4 L221.4 401.1 L220.9 402.8 L220.4 404.5 L219.9 406.2 L219.4 408 L218.9 409.8 L218.4 411.7 L217.9 413.6 L217.4 415.5 L216.9 417.5 L216.4 419.4 L215.9 421.4 L215.4 423.5 L214.9 425.5 L214.4 427.6 L213.9 429.7 L213.4 431.8 L212.9 434 L212.4 436.1 L211.9 438.3 L211.4 440.5 L210.9 442.7 L210.4 444.9 L209.9 447.1 L209.4 449.3 L208.9 451.6 L208.4 453.8 L207.9 456 L207.4 458.2 L206.9 460.5 L206.4 462.7 L205.9 464.9 L205.4 467 L204.9 469.2 L204.4 471.3 L203.9 473.5 L203.4 475.6 L202.9 477.6 L202.4 479.7 L201.9 481.7 L201.4 483.6 L200.9 485.6 L200.4 487.4 L199.9 489.3 L199.4 491.1 L198.9 492.8 L198.4 494.4 L197.9 496 L197.4 497.6 L196.9 499 L196.4 500.3 L195.9 501.6 L195.4 502.7 L194.9 503.6 L194.4 504.4 L193.9 505 L193.4 505.4 L192.9 505.5 L192.4 505.3 L192.3 504.9 L191.8 504.2 L191.3 503.2 L190.8 501.9 L190.3 500.5 L189.8 498.8 L189.3 497 L188.8 495.1 L188.3 493.1 L187.8 491 L187.3 488.9 L186.8 486.7 L186.3 484.4 L185.8 482.2 L185.3 479.9 L184.8 477.6 L184.3 475.3 L183.8 472.9 L183.3 470.5 L182.8 468.2 L182.3 465.8 L181.8 463.4 L181.3 461 L180.8 458.6 L180.3 456.2 L179.8 453.8 L179.3 451.4 L178.8 449 L178.3 446.5 L177.8 444.2 L177.3 441.8 L176.8 439.4 L176.3 437 L175.8 434.7 L175.3 432.3 L174.8 430 L174.3 427.7 L173.8 425.3 L173.3 423.1 L172.8 420.8 L172.3 418.5 L171.8 416.3 L171.3 414.1 L170.8 411.9 L170.3 409.7 L169.8 407.6 L169.3 405.5 L168.8 403.4 L168.3 401.3 L167.8 399.3 L167.3 397.3 L166.8 395.3 L166.3 393.3 L165.8 391.4 L165.3 389.5 L164.8 387.7 L164.3 385.9 L163.8 384.1 L163.3 382.3 L162.8 380.6 L162.3 378.9 L161.8 377.3 L161.3 375.6 L160.8 374.1 L160.3 372.5 L159.8 371 L159.3 369.6 L158.8 368.1 L158.3 366.8 L157.8 365.4 L157.3 364.1 L156.8 362.9 L156.3 361.6 L155.8 360.5 L155.3 359.3 L154.8 358.2 L154.3 357.2 L153.8 356.2 L153.3 355.2 L152.8 354.3 L152.3 353.4 L151.8 352.6 L151.3 351.8 L150.8 351 L150.3 350.3 L149.8 349.7 L149.3 349.1 L148.8 348.5 L148.3 348 L147.8 347.5 L147.3 347 L146.8 346.7 L146.3 346.3 L145.8 346 L145.3 345.8 L144.8 345.6 L144.3 345.4 L143.8 345.3 L143.3 345.3 L142.8 345.3 L142.5 345.5 L142 345.7 L141.5 346 L141 346.4 L140.5 346.8 L140 347.3 L139.5 347.8 L139 348.5 L138.5 349.2 L138 349.9 L137.5 350.8 L137 351.7 L136.5 352.6 L136 353.6 L135.5 354.7 L135 355.8 L134.5 357 L134 358.3 L133.5 359.6 L133 361 L132.5 362.4 L132 363.9 L131.5 365.4 L131 366.9 L130.5 368.5 L130 370 L129.5 371.6 L129 373.1 L128.5 374.6 L128 376.1 L127.5 377.6 L127 379 L126.5 380.5 L126 382 L125.5 383.4 L125 384.9 L124.5 386.4 L124 388 L123.5 389.5 L123 391.1 L122.5 392.7 L122 394.3 L121.5 396 L121 397.8 L120.5 399.5 L120 401.4 L119.5 403.3 L119 405.2 L118.5 407.2 L118 409.4 L117.5 411.7 L117 414.2 L116.5 416.7 L116 419.3 L115.5 422.1 L115 424.9 L114.5 427.7 L114 430.6 L113.5 433.5 L113 436.4 L112.5 439.4 L112 442.3 L111.5 445.2 L111 448 L110.5 450.8 L110 453.5 L109.5 456.1 L109 458.6 L108.5 461.1 L108 463.3 L107.5 465.4 L107 467.4 L106.5 469.3 L106 471.2 L105.5 473.1 L105 475.2 L104.5 477.5 L104 480 L103.5 482.5 L103 485 L102.5 487.7 L102 491 L101.5 495.4 L101 501 L100.5 513.8 L100 532.8Z" fill="#29448e" fill-opacity="0.5" stroke="none"/>
<path d="M100 532.8 L100.5 513.2 L101 500 L101.5 494.1 L102 489.6 L102.5 486 L103 483.2 L103.5 480.6 L104 478 L104.5 475.4 L105 473.1 L105.5 471 L106 469 L106.5 467.1 L107 465.2 L107.5 463.2 L108 461.1 L108.5 458.7 L109 456.2 L109.5 453.6 L110 450.9 L110.5 448.1 L111 445.2 L111.5 442.3 L112 439.3 L112.5 436.2 L113 433.2 L113.5 430.1 L114 427 L114.5 424 L115 420.9 L115.5 417.9 L116 415 L116.5 412.1 L117 409.3 L117.5 406.6 L118 404 L118.5 401.4 L119 399.1 L119.5 396.7 L120 394.5 L120.5 392.2 L121 390 L121.5 387.9 L122 385.8 L122.5 383.7 L123 381.7 L123.5 379.6 L124 377.7 L124.5 375.7 L125 373.7 L125.5 371.8 L126 369.9 L126.5 368 L127 366.1 L127.5 364.2 L128 362.3 L128.5 360.5 L129 358.6 L129.5 356.7 L130 354.7 L130.5 352.8 L131 350.9 L131.5 349 L132 347.1 L132.5 345.3 L133 343.5 L133.5 341.7 L134 340.1 L134.5 338.5 L135 336.9 L135.5 335.5 L136 334.2 L136.5 332.9 L137 331.6 L137.5 330.4 L138 329.3 L138.5 328.3 L139 327.3 L139.5 326.5 L140 325.9 L140.5 325.3 L141 324.8 L141.5 324.4 L142 324 L142.5 323.8 L143 323.6 L143.2 323.5 L143.7 323.5 L144.2 323.5 L144.7 323.7 L145.2 323.8 L145.7 324.1 L146.2 324.3 L146.7 324.7 L147.2 325.1 L147.7 325.5 L148.2 326 L148.7 326.6 L149.2 327.1 L149.7 327.8 L150.2 328.5 L150.7 329.2 L151.2 330 L151.7 330.8 L152.2 331.7 L152.7 332.7 L153.2 333.7 L153.7 334.7 L154.2 335.8 L154.7 336.9 L155.2 338.1 L155.7 339.3 L156.2 340.6 L156.7 341.9 L157.2 343.3 L157.7 344.7 L158.2 346.2 L158.7 347.7 L159.2 349.2 L159.7 350.8 L160.2 352.5 L160.7 354.1 L161.2 355.9 L161.7 357.6 L162.2 359.4 L162.7 361.3 L163.2 363.2 L163.7 365.1 L164.2 367.1 L164.7 369.1 L165.2 371.1 L165.7 373.2 L166.2 375.3 L166.7 377.5 L167.2 379.7 L167.7 381.9 L168.2 384.2 L168.7 386.4 L169.2 388.8 L169.7 391.1 L170.2 393.5 L170.7 395.9 L171.2 398.3 L171.7 400.7 L172.2 403.2 L172.7 405.7 L173.2 408.2 L173.7 410.8 L174.2 413.3 L174.7 415.9 L175.2 418.5 L175.7 421.1 L176.2 423.8 L176.7 426.4 L177.2 429 L177.7 431.7 L178.2 434.4 L178.7 437 L179.2 439.7 L179.7 442.4 L180.2 445.1 L180.7 447.8 L181.2 450.5 L181.7 453.1 L182.2 455.8 L182.7 458.5 L183.2 461.1 L183.7 463.8 L184.2 466.4 L184.7 469 L185.2 471.6 L185.7 474.1 L186.2 476.7 L186.7 479.2 L187.2 481.6 L187.7 484 L188.2 486.4 L188.7 488.6 L189.2 490.8 L189.7 492.8 L190.2 494.7 L190.7 496.3 L191.2 497.8 L191.7 498.9 L192.2 499.8 L192.4 500.3 L192.9 500.5 L193.4 500.4 L193.9 500 L194.4 499.3 L194.9 498.5 L195.4 497.4 L195.9 496.1 L196.4 494.7 L196.9 493.2 L197.4 491.5 L197.9 489.8 L198.4 488 L198.9 486.1 L199.4 484.1 L199.9 482.1 L200.4 480 L200.9 477.8 L201.4 475.6 L201.9 473.4 L202.4 471.1 L202.9 468.8 L203.4 466.4 L203.9 464 L204.4 461.6 L204.9 459.2 L205.4 456.7 L205.9 454.3 L206.4 451.8 L206.9 449.3 L207.4 446.8 L207.9 444.2 L208.4 441.7 L208.9 439.2 L209.4 436.7 L209.9 434.2 L210.4 431.7 L210.9 429.2 L211.4 426.7 L211.9 424.2 L212.4 421.8 L212.9 419.4 L213.4 417 L213.9 414.6 L214.4 412.2 L214.9 409.9 L215.4 407.6 L215.9 405.3 L216.4 403.1 L216.9 400.8 L217.4 398.7 L217.9 396.5 L218.4 394.4 L218.9 392.4 L219.4 390.3 L219.9 388.4 L220.4 386.4 L220.9 384.5 L221.4 382.7 L221.9 380.9 L222.4 379.1 L222.9 377.4 L223.4 375.7 L223.9 374.1 L224.4 372.5 L224.9 371 L225.4 369.5 L225.9 368.1 L226.4 366.8 L226.9 365.4 L227.4 364.2 L227.9 363 L228.4 361.8 L228.9 360.7 L229.4 359.6 L229.9 358.6 L230.4 357.7 L230.9 356.8 L231.4 355.9 L231.9 355.1 L232.4 354.4 L232.9 353.7 L233.4 353.1 L233.9 352.5 L234.4 351.9 L234.9 351.5 L235.4 351 L235.9 350.6 L236.4 350.3 L236.9 350 L237.4 349.8 L237.9 349.6 L238.4 349.5 L238.9 349.4 L239.4 349.3 L239.5 349.3 L240 349.3 L240.5 349.4 L241 349.5 L241.5 349.7 L242 349.9 L242.5 350.2 L243 350.5 L243.5 350.8 L244 351.2 L244.5 351.6 L245 352.1 L245.5 352.7 L246 353.2 L246.5 353.8 L247 354.5 L247.5 355.2 L248 356 L248.5 356.8 L249 357.6 L249.5 358.5 L250 359.4 L250.5 360.4 L251 361.4 L251.5 362.5 L252 363.6 L252.5 364.8 L253 366 L253.5 367.2 L254 368.5 L254.5 369.8 L255 371.2 L255.5 372.6 L256 374 L256.5 375.5 L257 377 L257.5 378.5 L258 380.1 L258.5 381.8 L259 383.4 L259.5 385.1 L260 386.9 L260.5 388.7 L261 390.5 L261.5 392.3 L262 394.2 L262.5 396.1 L263 398 L263.5 400 L264 402 L264.5 404 L265 406.1 L265.5 408.1 L266 410.3 L266.5 412.4 L267 414.5 L267.5 416.7 L268 418.9 L268.5 421.1 L269 423.4 L269.5 425.6 L270 427.9 L270.5 430.2 L271 432.5 L271.5 434.8 L272 437.2 L272.5 439.5 L273 441.9 L273.5 444.2 L274 446.6 L274.5 449 L275 451.4 L275.5 453.8 L276 456.2 L276.5 458.5 L277 460.9 L277.5 463.3 L278 465.7 L278.5 468.1 L279 470.4 L279.5 472.8 L280 475.1 L280.5 477.4 L281 479.7 L281.5 482 L282 484.2 L282.5 486.4 L283 488.6 L283.5 490.7 L284 492.8 L284.5 494.8 L285 496.6 L285.5 498.4 L286 499.9 L286.5 501.2 L287 502.3 L287.5 503.1 L288 503.6 L288.5 503.7 L289 503.5 L289.5 503 L290 502.2 L290.5 501.1 L291 499.8 L291.5 498.2 L292 496.6 L292.5 494.7 L293 492.7 L293.5 490.7 L294 488.5 L294.5 486.2 L295 483.9 L295.5 481.4 L296 478.9 L296.5 476.4 L297 473.8 L297.5 471.1 L298 468.4 L298.5 465.7 L299 462.9 L299.5 460.1 L300 457.3 L300.5 454.4 L301 451.6 L301.5 448.7 L302 445.8 L302.5 442.9 L303 440 L303.5 437.2 L304 434.3 L304.5 431.4 L305 428.5 L305.5 425.7 L306 422.9 L306.5 420.1 L307 417.3 L307.5 414.6 L308 411.9 L308.5 409.2 L309 406.5 L309.5 403.9 L310 401.4 L310.5 398.9 L311 396.4 L311.5 394 L312 391.6 L312.5 389.2 L313 387 L313.5 384.7 L314 382.6 L314.5 380.5 L315 378.4 L315.5 376.4 L316 374.5 L316.5 372.6 L317 370.8 L317.5 369 L318 367.3 L318.5 365.7 L319 364.1 L319.5 362.6 L320 361.2 L320.5 359.8 L321 358.5 L321.5 357.3 L322 356.1 L322.5 355 L323 354 L323.5 353 L324 352.1 L324.5 351.3 L325 350.5 L325.5 349.8 L326 349.2 L326.5 348.6 L327 348.1 L327.5 347.6 L328 347.3 L328.5 346.9 L329 346.7 L329.5 346.5 L330 346.3 L330.5 346.2 L330.8 346.2 L331.3 346.2 L331.8 346.3 L332.3 346.4 L332.8 346.6 L333.3 346.8 L333.8 347 L334.3 347.4 L334.8 347.7 L335.3 348.1 L335.8 348.6 L336.3 349.1 L336.8 349.6 L337.3 350.2 L337.8 350.9 L338.3 351.6 L338.8 352.3 L339.3 353.1 L339.8 353.9 L340.3 354.8 L340.8 355.7 L341.3 356.7 L341.8 357.7 L342.3 358.8 L342.8 359.9 L343.3 361.1 L343.8 362.3 L344.3 363.5 L344.8 364.8 L345.3 366.1 L345.8 367.5 L346.3 368.9 L346.8 370.4 L347.3 371.9 L347.8 373.4 L348.3 375 L348.8 376.6 L349.3 378.3 L349.8 379.9 L350.3 381.7 L350.8 383.4 L351.3 385.3 L351.8 387.1 L352.3 389 L352.8 390.9 L353.3 392.8 L353.8 394.8 L354.3 396.8 L354.8 398.8 L355.3 400.9 L355.8 403 L356.3 405.1 L356.8 407.3 L357.3 409.5 L357.8 411.7 L358.3 413.9 L358.8 416.1 L359.3 418.4 L359.8 420.7 L360.3 423 L360.8 425.3 L361.3 427.7 L361.8 430 L362.3 432.4 L362.8 434.8 L363.3 437.2 L363.8 439.6 L364.3 442 L364.8 444.4 L365.3 446.9 L365.8 449.3 L366.3 451.7 L366.8 454.2 L367.3 456.6 L367.8 459 L368.3 461.5 L368.8 463.9 L369.3 466.3 L369.8 468.7 L370.3 471 L370.8 473.4 L371.3 475.8 L371.8 478.1 L372.3 480.4 L372.8 482.6 L373.3 484.8 L373.8 487 L374.3 489.1 L374.8 491.1 L375.3 493 L375.8 494.7 L376.3 496.3 L376.8 497.6 L377.3 498.7 L377.8 499.5 L378.2 500 L378.7 500.2 L379.2 500.1 L379.7 499.6 L380.2 498.9 L380.7 497.9 L381.2 496.7 L381.7 495.4 L382.2 493.8 L382.7 492.2 L383.2 490.4 L383.7 488.5 L384.2 486.6 L384.7 484.5 L385.2 482.4 L385.7 480.2 L386.2 477.9 L386.7 475.6 L387.2 473.2 L387.7 470.8 L388.2 468.4 L388.7 465.9 L389.2 463.4 L389.7 460.8 L390.2 458.2 L390.7 455.7 L391.2 453 L391.7 450.4 L392.2 447.8 L392.7 445.1 L393.2 442.5 L393.7 439.8 L394.2 437.2 L394.7 434.6 L395.2 431.9 L395.7 429.3 L396.2 426.7 L396.7 424.1 L397.2 421.6 L397.7 419 L398.2 416.5 L398.7 414 L399.2 411.6 L399.7 409.1 L400.2 406.7 L400.7 404.4 L401.2 402 L401.7 399.8 L402.2 397.5 L402.7 395.3 L403.2 393.2 L403.7 391.1 L404.2 389 L404.7 387 L405.2 385 L405.7 383.1 L406.2 381.2 L406.7 379.4 L407.2 377.7 L407.7 376 L408.2 374.3 L408.7 372.7 L409.2 371.2 L409.7 369.7 L410.2 368.3 L410.7 366.9 L411.2 365.6 L411.7 364.4 L412.2 363.2 L412.7 362 L413.2 361 L413.7 360 L414.2 359 L414.7 358.1 L415.2 357.3 L415.7 356.5 L416.2 355.8 L416.7 355.1 L417.2 354.5 L417.7 354 L418.2 353.5 L418.7 353 L419.2 352.7 L419.7 352.3 L420.2 352.1 L420.7 351.9 L421.2 351.7 L421.7 351.6 L422.2 351.5 L422.3 351.5 L422.8 351.5 L423.3 351.6 L423.8 351.7 L424.3 351.9 L424.8 352 L425.3 352.3 L425.8 352.6 L426.3 352.9 L426.8 353.3 L427.3 353.7 L427.8 354.1 L428.3 354.6 L428.8 355.1 L429.3 355.7 L429.8 356.3 L430.3 357 L430.8 357.7 L431.3 358.5 L431.8 359.3 L432.3 360.1 L432.8 361 L433.3 361.9 L433.8 362.8 L434.3 363.8 L434.8 364.9 L435.3 365.9 L435.8 367.1 L436.3 368.2 L436.8 369.4 L437.3 370.6 L437.8 371.9 L438.3 373.2 L438.8 374.6 L439.3 375.9 L439.8 377.4 L440.3 378.8 L440.8 380.3 L441.3 381.8 L441.8 383.4 L442.3 385 L442.8 386.6 L443.3 388.3 L443.8 390 L444.3 391.7 L444.8 393.5 L445.3 395.2 L445.8 397 L446.3 398.9 L446.8 400.8 L447.3 402.7 L447.8 404.6 L448.3 406.5 L448.8 408.5 L449.3 410.5 L449.8 412.5 L450.3 414.5 L450.8 416.6 L451.3 418.7 L451.8 420.8 L452.3 422.9 L452.8 425 L453.3 427.2 L453.8 429.3 L454.3 431.5 L454.8 433.7 L455.3 435.9 L455.8 438.1 L456.3 440.3 L456.8 442.6 L457.3 444.8 L457.8 447 L458.3 449.3 L458.8 451.5 L459.3 453.8 L459.8 456 L460.3 458.2 L460.8 460.5 L461.3 462.7 L461.8 464.9 L462.3 467.1 L462.8 469.3 L463.3 471.5 L463.8 473.7 L464.3 475.8 L464.8 477.9 L465.3 480 L465.8 482.1 L466.3 484.1 L466.8 486 L467.3 487.9 L467.8 489.8 L468.3 491.6 L468.8 493.3 L469.3 495.1 L469.8 496.8 L470.3 498.5 L470.8 500.2 L471 500.7 L471.5 499.9 L472 499 L472.5 497.9 L473 496.7 L473.5 495.4 L474 494 L474.5 492.5 L475 490.8 L475.5 488.9 L476 486.8 L476.5 484.6 L477 482.3" fill="none" stroke="#29448e" stroke-width="3.9" stroke-linecap="round" stroke-linejoin="round"/>
<path d="M100 532.8 L100.5 511.5 L101 497 L101.5 487.4 L102 481.5 L102.5 477.5 L103 475.4 L103.5 473.8 L104 472.6 L104.5 471.4 L105 470 L105.5 468.3 L106 466.6 L106.5 464.8 L107 462.8 L107.5 460.5 L108 458 L108.5 455.1 L109 451.6 L109.5 447.7 L110 443.3 L110.5 438.4 L111 433 L111.5 426.2 L112 417.7 L112.5 408.2 L113 398.7 L113.5 390 L114 381.8 L114.5 373.6 L115 365.3 L115.5 357.1 L116 348.8 L116.5 340.7 L117 332.8 L117.5 325 L118 317.5 L118.5 310.2 L119 303.3 L119.5 296.8 L120 290.6 L120.5 285 L121 279.8 L121.5 274.9 L122 270.3 L122.5 265.9 L123 261.8 L123.5 257.8 L124 253.9 L124.5 250 L125 246.1 L125.5 242.3 L126 238.4 L126.5 234.6 L127 231 L127.5 227.5 L128 224.2 L128.5 221.2 L129 218.4 L129.5 216 L130 213.8 L130.5 211.7 L131 209.6 L131.5 207.7 L132 206 L132.5 204.4 L133 203.1 L133.5 202 L134 201.2 L134.5 200.5 L135 199.9 L135.5 199.4 L136 198.9 L136.5 198.5 L137 198.2 L137.5 198.1 L137.9 198 L138.4 198 L138.9 198 L139.4 198.1 L139.9 198.3 L140.4 198.5 L140.9 198.7 L141.4 199 L141.9 199.3 L142.4 199.7 L142.9 200.1 L143.4 200.6 L143.9 201.1 L144.4 201.7 L144.9 202.3 L145.4 203 L145.9 203.7 L146.4 204.5 L146.9 205.3 L147.4 206.1 L147.9 207 L148.4 208 L148.9 209 L149.4 210.1 L149.9 211.2 L150.4 212.3 L150.9 213.5 L151.4 214.8 L151.9 216.1 L152.4 217.5 L152.9 218.9 L153.4 220.3 L153.9 221.9 L154.4 223.4 L154.9 225 L155.4 226.7 L155.9 228.5 L156.4 230.2 L156.9 232.1 L157.4 234 L157.9 235.9 L158.4 237.9 L158.9 239.9 L159.4 242 L159.9 244.2 L160.4 246.4 L160.9 248.6 L161.4 250.9 L161.9 253.3 L162.4 255.7 L162.9 258.1 L163.4 260.6 L163.9 263.1 L164.4 265.7 L164.9 268.4 L165.4 271.1 L165.9 273.8 L166.4 276.6 L166.9 279.4 L167.4 282.3 L167.9 285.2 L168.4 288.1 L168.9 291.1 L169.4 294.1 L169.9 297.2 L170.4 300.3 L170.9 303.5 L171.4 306.6 L171.9 309.9 L172.4 313.1 L172.9 316.4 L173.4 319.7 L173.9 323 L174.4 326.4 L174.9 329.8 L175.4 333.2 L175.9 336.6 L176.4 340.1 L176.9 343.5 L177.4 347 L177.9 350.5 L178.4 354 L178.9 357.6 L179.4 361.1 L179.9 364.6 L180.4 368.2 L180.9 371.7 L181.4 375.3 L181.9 378.8 L182.4 382.3 L182.9 385.8 L183.4 389.3 L183.9 392.8 L184.4 396.3 L184.9 399.7 L185.4 403.1 L185.9 406.5 L186.4 409.8 L186.9 413.2 L187.4 416.4 L187.9 419.6 L188.4 422.8 L188.9 425.9 L189.4 428.9 L189.9 431.9 L190.4 434.7 L190.9 437.5 L191.4 440.1 L191.9 442.6 L192.4 444.9 L192.9 447.1 L193.4 448.9 L193.9 450.5 L194.4 451.7 L194.9 452.5 L195 452.9 L195.5 453 L196 452.7 L196.5 452 L197 451 L197.5 449.7 L198 448.2 L198.5 446.5 L199 444.5 L199.5 442.4 L200 440.2 L200.5 437.8 L201 435.3 L201.5 432.6 L202 429.9 L202.5 427 L203 424.1 L203.5 421.1 L204 418 L204.5 414.8 L205 411.6 L205.5 408.3 L206 405 L206.5 401.6 L207 398.2 L207.5 394.8 L208 391.4 L208.5 387.9 L209 384.5 L209.5 381 L210 377.5 L210.5 374.1 L211 370.6 L211.5 367.2 L212 363.8 L212.5 360.4 L213 357 L213.5 353.7 L214 350.5 L214.5 347.2 L215 344 L215.5 340.9 L216 337.8 L216.5 334.8 L217 331.8 L217.5 328.9 L218 326 L218.5 323.2 L219 320.5 L219.5 317.8 L220 315.3 L220.5 312.7 L221 310.3 L221.5 307.9 L222 305.6 L222.5 303.4 L223 301.3 L223.5 299.2 L224 297.2 L224.5 295.3 L225 293.4 L225.5 291.7 L226 290 L226.5 288.4 L227 286.8 L227.5 285.4 L228 284 L228.5 282.7 L229 281.5 L229.5 280.3 L230 279.3 L230.5 278.2 L231 277.3 L231.5 276.4 L232 275.6 L232.5 274.9 L233 274.3 L233.5 273.7 L234 273.1 L234.5 272.7 L235 272.3 L235.5 271.9 L236 271.6 L236.5 271.4 L237 271.2 L237.5 271.1 L238 271 L238.2 271 L238.7 271 L239.2 271.1 L239.7 271.1 L240.2 271.3 L240.7 271.4 L241.2 271.6 L241.7 271.9 L242.2 272.2 L242.7 272.5 L243.2 272.8 L243.7 273.2 L244.2 273.7 L244.7 274.1 L245.2 274.7 L245.7 275.2 L246.2 275.8 L246.7 276.5 L247.2 277.2 L247.7 277.9 L248.2 278.6 L248.7 279.5 L249.2 280.3 L249.7 281.2 L250.2 282.2 L250.7 283.1 L251.2 284.2 L251.7 285.2 L252.2 286.4 L252.7 287.5 L253.2 288.7 L253.7 290 L254.2 291.3 L254.7 292.6 L255.2 294 L255.7 295.4 L256.2 296.9 L256.7 298.4 L257.2 300 L257.7 301.6 L258.2 303.2 L258.7 304.9 L259.2 306.6 L259.7 308.4 L260.2 310.2 L260.7 312.1 L261.2 314 L261.7 315.9 L262.2 317.9 L262.7 319.9 L263.2 322 L263.7 324.1 L264.2 326.2 L264.7 328.4 L265.2 330.6 L265.7 332.9 L266.2 335.1 L266.7 337.4 L267.2 339.8 L267.7 342.2 L268.2 344.6 L268.7 347 L269.2 349.4 L269.7 351.9 L270.2 354.4 L270.7 357 L271.2 359.5 L271.7 362.1 L272.2 364.7 L272.7 367.3 L273.2 369.9 L273.7 372.6 L274.2 375.2 L274.7 377.9 L275.2 380.5 L275.7 383.2 L276.2 385.9 L276.7 388.6 L277.2 391.2 L277.7 393.9 L278.2 396.6 L278.7 399.2 L279.2 401.8 L279.7 404.5 L280.2 407.1 L280.7 409.6 L281.2 412.2 L281.7 414.7 L282.2 417.2 L282.7 419.6 L283.2 422 L283.7 424.4 L284.2 426.7 L284.7 428.9 L285.2 431.1 L285.7 433.1 L286.2 435.1 L286.7 436.9 L287.2 438.5 L287.7 439.9 L288.2 441.1 L288.7 442 L289.2 442.5 L289.3 442.7 L289.8 442.5 L290.3 442 L290.8 441.2 L291.3 440 L291.8 438.6 L292.3 436.9 L292.8 434.9 L293.3 432.8 L293.8 430.4 L294.3 427.9 L294.8 425.3 L295.3 422.5 L295.8 419.6 L296.3 416.6 L296.8 413.4 L297.3 410.2 L297.8 406.9 L298.3 403.5 L298.8 400 L299.3 396.4 L299.8 392.9 L300.3 389.2 L300.8 385.6 L301.3 381.8 L301.8 378.1 L302.3 374.4 L302.8 370.6 L303.3 366.9 L303.8 363.1 L304.3 359.4 L304.8 355.7 L305.3 351.9 L305.8 348.3 L306.3 344.6 L306.8 341 L307.3 337.4 L307.8 333.9 L308.3 330.4 L308.8 327 L309.3 323.6 L309.8 320.3 L310.3 317.1 L310.8 313.9 L311.3 310.8 L311.8 307.8 L312.3 304.8 L312.8 301.9 L313.3 299.1 L313.8 296.4 L314.3 293.7 L314.8 291.2 L315.3 288.7 L315.8 286.3 L316.3 284 L316.8 281.8 L317.3 279.6 L317.8 277.6 L318.3 275.6 L318.8 273.7 L319.3 272 L319.8 270.3 L320.3 268.6 L320.8 267.1 L321.3 265.7 L321.8 264.3 L322.3 263 L322.8 261.8 L323.3 260.7 L323.8 259.7 L324.3 258.7 L324.8 257.9 L325.3 257.1 L325.8 256.4 L326.3 255.7 L326.8 255.1 L327.3 254.6 L327.8 254.2 L328.3 253.9 L328.8 253.6 L329.3 253.3 L329.8 253.2 L330.3 253.1 L330.8 253 L331.3 253 L331.8 253.1 L332.3 253.2 L332.8 253.3 L333.3 253.5 L333.8 253.7 L334.3 254 L334.8 254.4 L335.3 254.7 L335.8 255.2 L336.3 255.7 L336.8 256.2 L337.3 256.8 L337.8 257.4 L338.3 258.1 L338.8 258.8 L339.3 259.6 L339.8 260.4 L340.3 261.3 L340.8 262.2 L341.3 263.2 L341.8 264.2 L342.3 265.3 L342.8 266.4 L343.3 267.6 L343.8 268.8 L344.3 270.1 L344.8 271.5 L345.3 272.9 L345.8 274.3 L346.3 275.9 L346.8 277.4 L347.3 279 L347.8 280.7 L348.3 282.4 L348.8 284.2 L349.3 286 L349.8 287.9 L350.3 289.8 L350.8 291.8 L351.3 293.8 L351.8 295.9 L352.3 298.1 L352.8 300.2 L353.3 302.5 L353.8 304.7 L354.3 307.1 L354.8 309.4 L355.3 311.9 L355.8 314.3 L356.3 316.8 L356.8 319.4 L357.3 322 L357.8 324.6 L358.3 327.3 L358.8 330 L359.3 332.7 L359.8 335.5 L360.3 338.3 L360.8 341.2 L361.3 344 L361.8 346.9 L362.3 349.9 L362.8 352.8 L363.3 355.8 L363.8 358.8 L364.3 361.8 L364.8 364.8 L365.3 367.9 L365.8 370.9 L366.3 374 L366.8 377.1 L367.3 380.1 L367.8 383.2 L368.3 386.2 L368.8 389.3 L369.3 392.3 L369.8 395.4 L370.3 398.4 L370.8 401.4 L371.3 404.3 L371.8 407.3 L372.3 410.2 L372.8 413 L373.3 415.8 L373.8 418.6 L374.3 421.2 L374.8 423.9 L375.3 426.4 L375.8 428.8 L376.3 431.1 L376.8 433.3 L377.3 435.3 L377.8 437 L378.3 438.5 L378.8 439.7 L379.3 440.5 L379.6 440.9 L380.1 440.9 L380.6 440.5 L381.1 439.8 L381.6 438.8 L382.1 437.4 L382.6 435.8 L383.1 433.9 L383.6 431.8 L384.1 429.6 L384.6 427.2 L385.1 424.6 L385.6 421.9 L386.1 419.1 L386.6 416.2 L387.1 413.1 L387.6 410 L388.1 406.8 L388.6 403.6 L389.1 400.2 L389.6 396.8 L390.1 393.4 L390.6 389.9 L391.1 386.4 L391.6 382.9 L392.1 379.3 L392.6 375.8 L393.1 372.2 L393.6 368.6 L394.1 365.1 L394.6 361.5 L395.1 358 L395.6 354.5 L396.1 351.1 L396.6 347.6 L397.1 344.3 L397.6 340.9 L398.1 337.6 L398.6 334.4 L399.1 331.2 L399.6 328.1 L400.1 325.1 L400.6 322.1 L401.1 319.1 L401.6 316.3 L402.1 313.5 L402.6 310.8 L403.1 308.2 L403.6 305.7 L404.1 303.2 L404.6 300.8 L405.1 298.5 L405.6 296.3 L406.1 294.2 L406.6 292.2 L407.1 290.2 L407.6 288.3 L408.1 286.5 L408.6 284.8 L409.1 283.2 L409.6 281.7 L410.1 280.3 L410.6 278.9 L411.1 277.6 L411.6 276.4 L412.1 275.3 L412.6 274.3 L413.1 273.3 L413.6 272.4 L414.1 271.6 L414.6 270.9 L415.1 270.3 L415.6 269.7 L416.1 269.2 L416.6 268.8 L417.1 268.4 L417.6 268.1 L418.1 267.8 L418.6 267.6 L419.1 267.5 L419.6 267.4 L419.7 267.4 L420.2 267.4 L420.7 267.5 L421.2 267.6 L421.7 267.7 L422.2 267.9 L422.7 268.1 L423.2 268.4 L423.7 268.7 L424.2 269 L424.7 269.4 L425.2 269.8 L425.7 270.3 L426.2 270.8 L426.7 271.3 L427.2 271.9 L427.7 272.6 L428.2 273.3 L428.7 274 L429.2 274.8 L429.7 275.6 L430.2 276.4 L430.7 277.4 L431.2 278.3 L431.7 279.3 L432.2 280.3 L432.7 281.4 L433.2 282.6 L433.7 283.7 L434.2 285 L434.7 286.2 L435.2 287.5 L435.7 288.9 L436.2 290.3 L436.7 291.7 L437.2 293.2 L437.7 294.7 L438.2 296.3 L438.7 297.9 L439.2 299.6 L439.7 301.3 L440.2 303 L440.7 304.8 L441.2 306.6 L441.7 308.5 L442.2 310.4 L442.7 312.3 L443.2 314.2 L443.7 316.2 L444.2 318.3 L444.7 320.3 L445.2 322.4 L445.7 324.6 L446.2 326.7 L446.7 328.9 L447.2 331.1 L447.7 333.4 L448.2 335.6 L448.7 337.9 L449.2 340.2 L449.7 342.5 L450.2 344.9 L450.7 347.2 L451.2 349.6 L451.7 352 L452.2 354.4 L452.7 356.8 L453.2 359.2 L453.7 361.6 L454.2 364 L454.7 366.4 L455.2 368.9 L455.7 371.3 L456.2 373.7 L456.7 376 L457.2 378.4 L457.7 380.8 L458.2 383.1 L458.7 385.4 L459.2 387.7 L459.7 390 L460.2 392.2 L460.7 394.4 L461.2 396.5 L461.7 398.6 L462.2 400.7 L462.7 402.7 L463.2 404.6 L463.7 406.5 L464.2 408.3 L464.7 410.1 L465.2 411.7 L465.7 413.3 L466.2 414.8 L466.7 416.2 L467.2 417.6 L467.7 418.8 L468.2 420 L468.7 421 L469.2 421.9 L469.4 422.1 L469.9 421 L470.4 419.7 L470.9 418.3 L471.4 416.8 L471.9 415.1 L472.4 413.3 L472.9 411.4 L473.4 409.4 L473.9 407.1 L474.4 404.7 L474.9 402.1 L475.4 399.4 L475.9 396.4 L476.4 393.4 L476.9 390.2 L477 482 L476.5 482.8 L476 483.5 L475.5 484.2 L475 484.8 L474.5 485.4 L474 486 L473.5 486.5 L473 487 L472.5 487.5 L472 487.9 L471.5 488.3 L471 488.6 L470.8 488.5 L470.3 487.9 L469.8 487 L469.3 486.1 L468.8 485.1 L468.3 483.9 L467.8 482.7 L467.3 481.5 L466.8 480.1 L466.3 478.7 L465.8 477.2 L465.3 475.6 L464.8 473.9 L464.3 472.1 L463.8 470.3 L463.3 468.4 L462.8 466.5 L462.3 464.5 L461.8 462.5 L461.3 460.4 L460.8 458.3 L460.3 456.1 L459.8 454 L459.3 451.7 L458.8 449.5 L458.3 447.2 L457.8 445 L457.3 442.7 L456.8 440.3 L456.3 438 L455.8 435.7 L455.3 433.3 L454.8 431 L454.3 428.7 L453.8 426.3 L453.3 424 L452.8 421.7 L452.3 419.4 L451.8 417 L451.3 414.8 L450.8 412.5 L450.3 410.2 L449.8 408 L449.3 405.8 L448.8 403.6 L448.3 401.4 L447.8 399.3 L447.3 397.1 L446.8 395.1 L446.3 393 L445.8 391 L445.3 389 L444.8 387 L444.3 385.1 L443.8 383.2 L443.3 381.4 L442.8 379.6 L442.3 377.8 L441.8 376.1 L441.3 374.4 L440.8 372.8 L440.3 371.2 L439.8 369.6 L439.3 368.1 L438.8 366.6 L438.3 365.2 L437.8 363.8 L437.3 362.5 L436.8 361.2 L436.3 359.9 L435.8 358.7 L435.3 357.6 L434.8 356.5 L434.3 355.4 L433.8 354.4 L433.3 353.4 L432.8 352.5 L432.3 351.6 L431.8 350.8 L431.3 350 L430.8 349.3 L430.3 348.6 L429.8 347.9 L429.3 347.3 L428.8 346.8 L428.3 346.2 L427.8 345.8 L427.3 345.3 L426.8 344.9 L426.3 344.6 L425.8 344.3 L425.3 344 L424.8 343.8 L424.3 343.6 L423.8 343.5 L423.3 343.4 L422.8 343.3 L422.3 343.3 L422.2 343.3 L421.7 343.4 L421.2 343.5 L420.7 343.6 L420.2 343.8 L419.7 344 L419.2 344.3 L418.7 344.6 L418.2 345 L417.7 345.5 L417.2 346 L416.7 346.5 L416.2 347.2 L415.7 347.8 L415.2 348.6 L414.7 349.4 L414.2 350.3 L413.7 351.2 L413.2 352.2 L412.7 353.3 L412.2 354.4 L411.7 355.6 L411.2 356.9 L410.7 358.2 L410.2 359.6 L409.7 361.1 L409.2 362.6 L408.7 364.2 L408.2 365.9 L407.7 367.6 L407.2 369.4 L406.7 371.3 L406.2 373.2 L405.7 375.2 L405.2 377.2 L404.7 379.3 L404.2 381.5 L403.7 383.7 L403.2 386 L402.7 388.3 L402.2 390.6 L401.7 393.1 L401.2 395.5 L400.7 398 L400.2 400.5 L399.7 403.1 L399.2 405.6 L398.7 408.3 L398.2 410.9 L397.7 413.5 L397.2 416.2 L396.7 418.8 L396.2 421.5 L395.7 424.1 L395.2 426.8 L394.7 429.4 L394.2 432 L393.7 434.6 L393.2 437.2 L392.7 439.7 L392.2 442.2 L391.7 444.7 L391.2 447.1 L390.7 449.4 L390.2 451.7 L389.7 453.9 L389.2 456.1 L388.7 458.1 L388.2 460.1 L387.7 462.1 L387.2 463.9 L386.7 465.6 L386.2 467.3 L385.7 468.8 L385.2 470.3 L384.7 471.6 L384.2 472.8 L383.7 474 L383.2 475 L382.7 475.9 L382.2 476.7 L381.7 477.4 L381.2 478 L380.7 478.5 L380.2 478.9 L379.7 479.2 L379.2 479.3 L378.7 479.3 L378.2 479.2 L378 478.9 L377.5 478.4 L377 477.8 L376.5 477 L376 476 L375.5 475 L375 473.7 L374.5 472.4 L374 470.9 L373.5 469.3 L373 467.7 L372.5 465.9 L372 464.1 L371.5 462.1 L371 460.2 L370.5 458.1 L370 456 L369.5 453.8 L369 451.6 L368.5 449.4 L368 447.1 L367.5 444.7 L367 442.4 L366.5 440 L366 437.6 L365.5 435.1 L365 432.7 L364.5 430.2 L364 427.7 L363.5 425.2 L363 422.7 L362.5 420.2 L362 417.7 L361.5 415.3 L361 412.8 L360.5 410.3 L360 407.8 L359.5 405.4 L359 403 L358.5 400.6 L358 398.2 L357.5 395.8 L357 393.5 L356.5 391.2 L356 388.9 L355.5 386.7 L355 384.5 L354.5 382.3 L354 380.2 L353.5 378.1 L353 376 L352.5 374 L352 372 L351.5 370.1 L351 368.2 L350.5 366.3 L350 364.5 L349.5 362.8 L349 361.1 L348.5 359.4 L348 357.8 L347.5 356.3 L347 354.8 L346.5 353.3 L346 351.9 L345.5 350.6 L345 349.3 L344.5 348 L344 346.8 L343.5 345.7 L343 344.6 L342.5 343.5 L342 342.5 L341.5 341.6 L341 340.7 L340.5 339.9 L340 339.1 L339.5 338.4 L339 337.7 L338.5 337 L338 336.5 L337.5 335.9 L337 335.4 L336.5 335 L336 334.6 L335.5 334.3 L335 334 L334.5 333.7 L334 333.5 L333.5 333.4 L333 333.3 L332.5 333.2 L332 333.2 L331.5 333.2 L331 333.3 L330.5 333.5 L330 333.7 L329.5 333.9 L329 334.2 L328.5 334.6 L328 335 L327.5 335.5 L327 336.1 L326.5 336.7 L326 337.4 L325.5 338.2 L325 339 L324.5 339.9 L324 340.9 L323.5 341.9 L323 343 L322.5 344.2 L322 345.5 L321.5 346.8 L321 348.3 L320.5 349.8 L320 351.3 L319.5 353 L319 354.7 L318.5 356.5 L318 358.4 L317.5 360.4 L317 362.4 L316.5 364.5 L316 366.7 L315.5 368.9 L315 371.2 L314.5 373.6 L314 376 L313.5 378.5 L313 381.1 L312.5 383.7 L312 386.4 L311.5 389.1 L311 391.9 L310.5 394.7 L310 397.6 L309.5 400.5 L309 403.4 L308.5 406.3 L308 409.3 L307.5 412.3 L307 415.3 L306.5 418.3 L306 421.3 L305.5 424.3 L305 427.3 L304.5 430.3 L304 433.3 L303.5 436.2 L303 439.1 L302.5 442 L302 444.8 L301.5 447.6 L301 450.3 L300.5 453 L300 455.6 L299.5 458.1 L299 460.5 L298.5 462.9 L298 465.2 L297.5 467.3 L297 469.4 L296.5 471.4 L296 473.3 L295.5 475 L295 476.7 L294.5 478.2 L294 479.6 L293.5 480.9 L293 482.1 L292.5 483.1 L292 484 L291.5 484.8 L291 485.5 L290.5 486.1 L290 486.5 L289.5 486.8 L289 487 L288.5 487 L288 486.9 L287.7 486.6 L287.2 486.2 L286.7 485.6 L286.2 484.9 L285.7 484 L285.2 483 L284.7 481.8 L284.2 480.6 L283.7 479.2 L283.2 477.8 L282.7 476.2 L282.2 474.6 L281.7 472.9 L281.2 471.2 L280.7 469.3 L280.2 467.5 L279.7 465.5 L279.2 463.5 L278.7 461.5 L278.2 459.4 L277.7 457.3 L277.2 455.1 L276.7 452.9 L276.2 450.7 L275.7 448.5 L275.2 446.2 L274.7 443.9 L274.2 441.6 L273.7 439.3 L273.2 437 L272.7 434.6 L272.2 432.3 L271.7 429.9 L271.2 427.6 L270.7 425.2 L270.2 422.9 L269.7 420.6 L269.2 418.2 L268.7 415.9 L268.2 413.6 L267.7 411.3 L267.2 409 L266.7 406.8 L266.2 404.6 L265.7 402.4 L265.2 400.2 L264.7 398 L264.2 395.9 L263.7 393.8 L263.2 391.7 L262.7 389.7 L262.2 387.6 L261.7 385.7 L261.2 383.7 L260.7 381.8 L260.2 379.9 L259.7 378.1 L259.2 376.3 L258.7 374.6 L258.2 372.9 L257.7 371.2 L257.2 369.6 L256.7 368 L256.2 366.4 L255.7 364.9 L255.2 363.5 L254.7 362.1 L254.2 360.7 L253.7 359.4 L253.2 358.1 L252.7 356.9 L252.2 355.7 L251.7 354.5 L251.2 353.4 L250.7 352.4 L250.2 351.4 L249.7 350.4 L249.2 349.5 L248.7 348.6 L248.2 347.8 L247.7 347 L247.2 346.3 L246.7 345.6 L246.2 345 L245.7 344.4 L245.2 343.8 L244.7 343.3 L244.2 342.8 L243.7 342.4 L243.2 342 L242.7 341.7 L242.2 341.4 L241.7 341.1 L241.2 340.9 L240.7 340.7 L240.2 340.6 L239.7 340.5 L239.2 340.4 L238.7 340.4 L238.5 340.4 L238 340.5 L237.5 340.6 L237 340.7 L236.5 340.9 L236 341.2 L235.5 341.5 L235 341.8 L234.5 342.2 L234 342.7 L233.5 343.2 L233 343.8 L232.5 344.5 L232 345.2 L231.5 345.9 L231 346.8 L230.5 347.7 L230 348.7 L229.5 349.7 L229 350.9 L228.5 352.1 L228 353.3 L227.5 354.7 L227 356.1 L226.5 357.6 L226 359.1 L225.5 360.7 L225 362.4 L224.5 364.2 L224 366 L223.5 367.9 L223 369.9 L222.5 371.9 L222 374 L221.5 376.2 L221 378.4 L220.5 380.7 L220 383 L219.5 385.4 L219 387.8 L218.5 390.3 L218 392.8 L217.5 395.3 L217 397.9 L216.5 400.5 L216 403.1 L215.5 405.8 L215 408.4 L214.5 411.1 L214 413.8 L213.5 416.4 L213 419.1 L212.5 421.7 L212 424.3 L211.5 426.9 L211 429.5 L210.5 432 L210 434.5 L209.5 436.9 L209 439.3 L208.5 441.6 L208 443.9 L207.5 446 L207 448.2 L206.5 450.2 L206 452.1 L205.5 454 L205 455.7 L204.5 457.4 L204 459 L203.5 460.4 L203 461.8 L202.5 463.1 L202 464.2 L201.5 465.3 L201 466.3 L200.5 467.1 L200 467.9 L199.5 468.5 L199 469.1 L198.5 469.6 L198 470 L197.5 470.3 L197 470.5 L196.5 470.6 L196 470.6 L195.5 470.5 L195 470.2 L194.7 469.8 L194.2 469.3 L193.7 468.6 L193.2 467.7 L192.7 466.6 L192.2 465.4 L191.7 464.1 L191.2 462.6 L190.7 461 L190.2 459.3 L189.7 457.4 L189.2 455.5 L188.7 453.5 L188.2 451.4 L187.7 449.2 L187.2 447 L186.7 444.6 L186.2 442.2 L185.7 439.8 L185.2 437.2 L184.7 434.7 L184.2 432 L183.7 429.4 L183.2 426.6 L182.7 423.9 L182.2 421.1 L181.7 418.2 L181.2 415.4 L180.7 412.5 L180.2 409.5 L179.7 406.6 L179.2 403.6 L178.7 400.6 L178.2 397.6 L177.7 394.6 L177.2 391.6 L176.7 388.5 L176.2 385.5 L175.7 382.4 L175.2 379.4 L174.7 376.3 L174.2 373.3 L173.7 370.2 L173.2 367.2 L172.7 364.2 L172.2 361.2 L171.7 358.2 L171.2 355.2 L170.7 352.2 L170.2 349.3 L169.7 346.4 L169.2 343.5 L168.7 340.6 L168.2 337.7 L167.7 334.9 L167.2 332.1 L166.7 329.3 L166.2 326.6 L165.7 323.9 L165.2 321.2 L164.7 318.6 L164.2 316 L163.7 313.4 L163.2 310.9 L162.7 308.4 L162.2 305.9 L161.7 303.5 L161.2 301.1 L160.7 298.8 L160.2 296.5 L159.7 294.3 L159.2 292.1 L158.7 289.9 L158.2 287.8 L157.7 285.8 L157.2 283.8 L156.7 281.8 L156.2 279.9 L155.7 278 L155.2 276.2 L154.7 274.4 L154.2 272.7 L153.7 271 L153.2 269.4 L152.7 267.8 L152.2 266.3 L151.7 264.8 L151.2 263.4 L150.7 262 L150.2 260.7 L149.7 259.4 L149.2 258.2 L148.7 257 L148.2 255.9 L147.7 254.8 L147.2 253.8 L146.7 252.8 L146.2 251.8 L145.7 250.9 L145.2 250.1 L144.7 249.3 L144.2 248.6 L143.7 247.9 L143.2 247.2 L142.7 246.6 L142.2 246.1 L141.7 245.5 L141.2 245.1 L140.7 244.7 L140.2 244.3 L139.7 244 L139.2 243.7 L138.7 243.4 L138.2 243.3 L137.7 243.1 L137.2 243 L136.7 243 L136.2 243 L136 243.1 L135.5 243.5 L135 243.9 L134.5 244.5 L134 245.2 L133.5 246 L133 246.9 L132.5 248.1 L132 249.3 L131.5 250.6 L131 252 L130.5 253.4 L130 254.9 L129.5 256.4 L129 258.1 L128.5 259.8 L128 261.6 L127.5 263.5 L127 265.5 L126.5 267.7 L126 270 L125.5 272.5 L125 275.3 L124.5 278.4 L124 281.8 L123.5 285.3 L123 289.1 L122.5 293 L122 297.2 L121.5 301.5 L121 306.1 L120.5 311 L120 316.2 L119.5 321.6 L119 327.2 L118.5 333.1 L118 339.1 L117.5 345.4 L117 351.8 L116.5 358.3 L116 365 L115.5 371.8 L115 378.8 L114.5 385.8 L114 392.9 L113.5 400 L113 408.1 L112.5 417.2 L112 426.4 L111.5 434.7 L111 441 L110.5 445.7 L110 449.7 L109.5 453.3 L109 456.5 L108.5 459.4 L108 462 L107.5 464.4 L107 466.7 L106.5 468.8 L106 470.7 L105.5 472.4 L105 474 L104.5 475.3 L104 476.3 L103.5 477.3 L103 478.5 L102.5 480.5 L102 484.5 L101.5 490.3 L101 499.3 L100.5 512.9 L100 532.8Z" fill="#4379a5" fill-opacity="0.5" stroke="none"/>
<path d="M100 532.8 L100.5 512.2 L101 498.2 L101.5 488.8 L102 483 L102.5 479 L103 476.9 L103.5 475.5 L104 474.4 L104.5 473.4 L105 472 L105.5 470.4 L106 468.6 L106.5 466.8 L107 464.7 L107.5 462.5 L108 460 L108.5 457.2 L109 454.1 L109.5 450.5 L110 446.5 L110.5 442 L111 437 L111.5 430.4 L112 422 L112.5 412.7 L113 403.4 L113.5 395 L114 387.4 L114.5 379.9 L115 372.3 L115.5 364.9 L116 357.5 L116.5 350.2 L117 343.1 L117.5 336.1 L118 329.3 L118.5 322.7 L119 316.4 L119.5 310.3 L120 304.5 L120.5 299 L121 293.9 L121.5 289.1 L122 284.6 L122.5 280.3 L123 276.3 L123.5 272.5 L124 268.9 L124.5 265.4 L125 262.2 L125.5 259.1 L126 256.1 L126.5 253.2 L127 250.4 L127.5 247.7 L128 245.1 L128.5 242.6 L129 240.2 L129.5 238 L130 236 L130.5 234.2 L131 232.4 L131.5 230.6 L132 229 L132.5 227.5 L133 226.2 L133.5 225.1 L134 224.2 L134.5 223.5 L135 222.8 L135.5 222.2 L136 221.8 L136.5 221.4 L137 221.2 L137.1 221.2 L137.6 221.2 L138.1 221.2 L138.6 221.4 L139.1 221.5 L139.6 221.7 L140.1 222 L140.6 222.3 L141.1 222.7 L141.6 223.1 L142.1 223.6 L142.6 224.1 L143.1 224.6 L143.6 225.3 L144.1 225.9 L144.6 226.7 L145.1 227.4 L145.6 228.3 L146.1 229.2 L146.6 230.1 L147.1 231.1 L147.6 232.1 L148.1 233.3 L148.6 234.4 L149.1 235.6 L149.6 236.9 L150.1 238.2 L150.6 239.6 L151.1 241 L151.6 242.5 L152.1 244 L152.6 245.6 L153.1 247.3 L153.6 249 L154.1 250.7 L154.6 252.6 L155.1 254.4 L155.6 256.3 L156.1 258.3 L156.6 260.4 L157.1 262.4 L157.6 264.6 L158.1 266.8 L158.6 269 L159.1 271.3 L159.6 273.7 L160.1 276.1 L160.6 278.5 L161.1 281 L161.6 283.5 L162.1 286.1 L162.6 288.8 L163.1 291.5 L163.6 294.2 L164.1 297 L164.6 299.8 L165.1 302.6 L165.6 305.5 L166.1 308.5 L166.6 311.4 L167.1 314.4 L167.6 317.5 L168.1 320.6 L168.6 323.7 L169.1 326.8 L169.6 330 L170.1 333.2 L170.6 336.4 L171.1 339.6 L171.6 342.9 L172.1 346.2 L172.6 349.4 L173.1 352.8 L173.6 356.1 L174.1 359.4 L174.6 362.8 L175.1 366.1 L175.6 369.5 L176.1 372.8 L176.6 376.2 L177.1 379.5 L177.6 382.8 L178.1 386.2 L178.6 389.5 L179.1 392.8 L179.6 396.1 L180.1 399.3 L180.6 402.6 L181.1 405.8 L181.6 408.9 L182.1 412.1 L182.6 415.2 L183.1 418.2 L183.6 421.3 L184.1 424.2 L184.6 427.1 L185.1 430 L185.6 432.8 L186.1 435.5 L186.6 438.2 L187.1 440.8 L187.6 443.3 L188.1 445.8 L188.6 448.1 L189.1 450.4 L189.6 452.5 L190.1 454.5 L190.6 456.5 L191.1 458.3 L191.6 459.9 L192.1 461.5 L192.6 462.8 L193.1 464 L193.6 465 L194.1 465.8 L194.6 466.4 L195 466.8 L195.5 467.1 L196 467.1 L196.5 467 L197 466.7 L197.5 466.2 L198 465.6 L198.5 464.9 L199 464.1 L199.5 463.1 L200 462 L200.5 460.7 L201 459.4 L201.5 457.9 L202 456.2 L202.5 454.5 L203 452.6 L203.5 450.6 L204 448.5 L204.5 446.3 L205 444 L205.5 441.6 L206 439.1 L206.5 436.5 L207 433.8 L207.5 431 L208 428.2 L208.5 425.3 L209 422.4 L209.5 419.4 L210 416.3 L210.5 413.2 L211 410.1 L211.5 407 L212 403.8 L212.5 400.6 L213 397.5 L213.5 394.3 L214 391.1 L214.5 387.9 L215 384.8 L215.5 381.6 L216 378.5 L216.5 375.4 L217 372.4 L217.5 369.4 L218 366.4 L218.5 363.5 L219 360.6 L219.5 357.8 L220 355.1 L220.5 352.4 L221 349.8 L221.5 347.2 L222 344.7 L222.5 342.3 L223 339.9 L223.5 337.7 L224 335.5 L224.5 333.4 L225 331.3 L225.5 329.4 L226 327.5 L226.5 325.7 L227 324 L227.5 322.4 L228 320.8 L228.5 319.3 L229 318 L229.5 316.6 L230 315.4 L230.5 314.3 L231 313.2 L231.5 312.2 L232 311.3 L232.5 310.5 L233 309.7 L233.5 309 L234 308.4 L234.5 307.8 L235 307.3 L235.5 306.9 L236 306.6 L236.5 306.3 L237 306 L237.5 305.8 L238 305.7 L238.5 305.6 L238.7 305.6 L239.2 305.6 L239.7 305.7 L240.2 305.8 L240.7 305.9 L241.2 306.1 L241.7 306.3 L242.2 306.6 L242.7 306.9 L243.2 307.3 L243.7 307.7 L244.2 308.1 L244.7 308.6 L245.2 309.1 L245.7 309.7 L246.2 310.3 L246.7 311 L247.2 311.7 L247.7 312.4 L248.2 313.2 L248.7 314.1 L249.2 315 L249.7 315.9 L250.2 316.9 L250.7 318 L251.2 319 L251.7 320.2 L252.2 321.4 L252.7 322.6 L253.2 323.9 L253.7 325.2 L254.2 326.5 L254.7 328 L255.2 329.4 L255.7 330.9 L256.2 332.5 L256.7 334.1 L257.2 335.7 L257.7 337.4 L258.2 339.2 L258.7 340.9 L259.2 342.8 L259.7 344.6 L260.2 346.5 L260.7 348.5 L261.2 350.4 L261.7 352.5 L262.2 354.5 L262.7 356.6 L263.2 358.7 L263.7 360.9 L264.2 363.1 L264.7 365.3 L265.2 367.6 L265.7 369.9 L266.2 372.2 L266.7 374.5 L267.2 376.9 L267.7 379.3 L268.2 381.7 L268.7 384.1 L269.2 386.5 L269.7 389 L270.2 391.4 L270.7 393.9 L271.2 396.4 L271.7 398.9 L272.2 401.4 L272.7 403.9 L273.2 406.4 L273.7 408.9 L274.2 411.4 L274.7 413.8 L275.2 416.3 L275.7 418.7 L276.2 421.2 L276.7 423.6 L277.2 426 L277.7 428.3 L278.2 430.7 L278.7 433 L279.2 435.2 L279.7 437.4 L280.2 439.6 L280.7 441.7 L281.2 443.8 L281.7 445.8 L282.2 447.8 L282.7 449.7 L283.2 451.5 L283.7 453.2 L284.2 454.9 L284.7 456.5 L285.2 458 L285.7 459.3 L286.2 460.6 L286.7 461.8 L287.2 462.8 L287.7 463.6 L288.2 464.3 L288.7 464.8 L289.2 465.1 L289.3 465.3 L289.8 465.3 L290.3 465.1 L290.8 464.7 L291.3 464.1 L291.8 463.3 L292.3 462.4 L292.8 461.4 L293.3 460.1 L293.8 458.8 L294.3 457.2 L294.8 455.6 L295.3 453.7 L295.8 451.8 L296.3 449.7 L296.8 447.5 L297.3 445.1 L297.8 442.7 L298.3 440.1 L298.8 437.4 L299.3 434.7 L299.8 431.8 L300.3 428.9 L300.8 425.9 L301.3 422.8 L301.8 419.6 L302.3 416.4 L302.8 413.2 L303.3 409.9 L303.8 406.6 L304.3 403.2 L304.8 399.8 L305.3 396.4 L305.8 393 L306.3 389.6 L306.8 386.2 L307.3 382.8 L307.8 379.4 L308.3 376.1 L308.8 372.8 L309.3 369.5 L309.8 366.2 L310.3 363 L310.8 359.8 L311.3 356.7 L311.8 353.6 L312.3 350.6 L312.8 347.6 L313.3 344.7 L313.8 341.9 L314.3 339.1 L314.8 336.4 L315.3 333.8 L315.8 331.3 L316.3 328.8 L316.8 326.4 L317.3 324.1 L317.8 321.9 L318.3 319.8 L318.8 317.7 L319.3 315.7 L319.8 313.9 L320.3 312.1 L320.8 310.4 L321.3 308.7 L321.8 307.2 L322.3 305.7 L322.8 304.4 L323.3 303.1 L323.8 301.9 L324.3 300.8 L324.8 299.7 L325.3 298.8 L325.8 297.9 L326.3 297.1 L326.8 296.4 L327.3 295.8 L327.8 295.2 L328.3 294.7 L328.8 294.3 L329.3 293.9 L329.8 293.6 L330.3 293.4 L330.8 293.2 L331.3 293.1 L331.7 293.1 L332.2 293.1 L332.7 293.2 L333.2 293.3 L333.7 293.4 L334.2 293.7 L334.7 293.9 L335.2 294.2 L335.7 294.6 L336.2 295 L336.7 295.5 L337.2 296 L337.7 296.6 L338.2 297.2 L338.7 297.9 L339.2 298.6 L339.7 299.4 L340.2 300.2 L340.7 301.1 L341.2 302 L341.7 303 L342.2 304.1 L342.7 305.2 L343.2 306.3 L343.7 307.6 L344.2 308.8 L344.7 310.2 L345.2 311.5 L345.7 313 L346.2 314.5 L346.7 316 L347.2 317.6 L347.7 319.3 L348.2 321 L348.7 322.8 L349.2 324.6 L349.7 326.4 L350.2 328.4 L350.7 330.3 L351.2 332.3 L351.7 334.4 L352.2 336.5 L352.7 338.7 L353.2 340.9 L353.7 343.1 L354.2 345.4 L354.7 347.8 L355.2 350.1 L355.7 352.6 L356.2 355 L356.7 357.5 L357.2 360 L357.7 362.6 L358.2 365.2 L358.7 367.8 L359.2 370.4 L359.7 373.1 L360.2 375.7 L360.7 378.4 L361.2 381.2 L361.7 383.9 L362.2 386.6 L362.7 389.4 L363.2 392.1 L363.7 394.9 L364.2 397.7 L364.7 400.4 L365.2 403.2 L365.7 405.9 L366.2 408.6 L366.7 411.3 L367.2 414 L367.7 416.7 L368.2 419.3 L368.7 421.9 L369.2 424.5 L369.7 427 L370.2 429.5 L370.7 431.9 L371.2 434.3 L371.7 436.6 L372.2 438.9 L372.7 441.1 L373.2 443.2 L373.7 445.2 L374.2 447.1 L374.7 449 L375.2 450.8 L375.7 452.4 L376.2 453.9 L376.7 455.3 L377.2 456.5 L377.7 457.6 L378.2 458.5 L378.7 459.2 L379.2 459.7 L379.6 460 L380.1 460.1 L380.6 460 L381.1 459.7 L381.6 459.3 L382.1 458.6 L382.6 457.8 L383.1 456.9 L383.6 455.8 L384.1 454.6 L384.6 453.2 L385.1 451.7 L385.6 450.1 L386.1 448.4 L386.6 446.5 L387.1 444.6 L387.6 442.5 L388.1 440.3 L388.6 438 L389.1 435.6 L389.6 433.2 L390.1 430.6 L390.6 428 L391.1 425.3 L391.6 422.6 L392.1 419.8 L392.6 416.9 L393.1 414 L393.6 411.1 L394.1 408.1 L394.6 405.1 L395.1 402.1 L395.6 399.1 L396.1 396.1 L396.6 393 L397.1 390 L397.6 386.9 L398.1 383.9 L398.6 380.9 L399.1 377.9 L399.6 375 L400.1 372 L400.6 369.2 L401.1 366.3 L401.6 363.5 L402.1 360.7 L402.6 358 L403.1 355.3 L403.6 352.7 L404.1 350.2 L404.6 347.7 L405.1 345.3 L405.6 342.9 L406.1 340.6 L406.6 338.4 L407.1 336.2 L407.6 334.1 L408.1 332.1 L408.6 330.2 L409.1 328.3 L409.6 326.5 L410.1 324.8 L410.6 323.2 L411.1 321.6 L411.6 320.1 L412.1 318.7 L412.6 317.4 L413.1 316.1 L413.6 315 L414.1 313.8 L414.6 312.8 L415.1 311.8 L415.6 311 L416.1 310.1 L416.6 309.4 L417.1 308.7 L417.6 308.1 L418.1 307.6 L418.6 307.1 L419.1 306.7 L419.6 306.3 L420.1 306 L420.6 305.8 L421.1 305.6 L421.6 305.5 L422.1 305.4 L422.3 305.4 L422.8 305.4 L423.3 305.5 L423.8 305.6 L424.3 305.8 L424.8 306 L425.3 306.2 L425.8 306.5 L426.3 306.9 L426.8 307.2 L427.3 307.7 L427.8 308.2 L428.3 308.7 L428.8 309.3 L429.3 309.9 L429.8 310.6 L430.3 311.3 L430.8 312.1 L431.3 313 L431.8 313.8 L432.3 314.8 L432.8 315.8 L433.3 316.8 L433.8 317.9 L434.3 319 L434.8 320.2 L435.3 321.5 L435.8 322.8 L436.3 324.1 L436.8 325.5 L437.3 326.9 L437.8 328.4 L438.3 330 L438.8 331.6 L439.3 333.2 L439.8 334.9 L440.3 336.6 L440.8 338.4 L441.3 340.2 L441.8 342.1 L442.3 344 L442.8 345.9 L443.3 347.9 L443.8 349.9 L444.3 352 L444.8 354.1 L445.3 356.2 L445.8 358.3 L446.3 360.5 L446.8 362.7 L447.3 365 L447.8 367.3 L448.3 369.6 L448.8 371.9 L449.3 374.2 L449.8 376.5 L450.3 378.9 L450.8 381.3 L451.3 383.7 L451.8 386.1 L452.3 388.5 L452.8 390.8 L453.3 393.2 L453.8 395.6 L454.3 398 L454.8 400.4 L455.3 402.8 L455.8 405.1 L456.3 407.4 L456.8 409.7 L457.3 412 L457.8 414.3 L458.3 416.5 L458.8 418.7 L459.3 420.8 L459.8 422.9 L460.3 425 L460.8 427 L461.3 428.9 L461.8 430.8 L462.3 432.7 L462.8 434.5 L463.3 436.2 L463.8 437.8 L464.3 439.4 L464.8 440.9 L465.3 442.3 L465.8 443.6 L466.3 444.8 L466.8 446 L467.3 447 L467.8 448 L468.3 448.9 L468.8 449.7 L469.3 450.5 L469.8 451.1 L470.3 451.6 L470.8 451.9 L471 452 L471.5 451.5 L472 450.8 L472.5 450 L473 449.1 L473.5 448.1 L474 447 L474.5 445.8 L475 444.4 L475.5 442.8 L476 441.1 L476.5 439.2 L477 437.2" fill="none" stroke="#4379a5" stroke-width="3.9" stroke-linecap="round" stroke-linejoin="round"/>
<path d="M88.8 187 V542.7 H488.6" fill="none" stroke="#000" stroke-width="4.6" stroke-linecap="round" stroke-linejoin="miter"/>
<path d="M82.6 237 H88" stroke="#000" stroke-width="4.6" stroke-linecap="round"/>
<path d="M82.6 355.2 H88" stroke="#000" stroke-width="4.6" stroke-linecap="round"/>
<path d="M82.6 473.4 H88" stroke="#000" stroke-width="4.6" stroke-linecap="round"/>
<path d="M100.1 543 V548.6" stroke="#000" stroke-width="4.5" stroke-linecap="round"/>
<path d="M223.7 543 V548.6" stroke="#000" stroke-width="4.5" stroke-linecap="round"/>
<path d="M347.4 543 V548.6" stroke="#000" stroke-width="4.5" stroke-linecap="round"/>
<path d="M471.1 543 V548.6" stroke="#000" stroke-width="4.5" stroke-linecap="round"/>
<text x="73.5" y="245.2" font-size="28.4" text-anchor="end">0.5</text>
<text x="73.5" y="363.4" font-size="28.4" text-anchor="end">0.3</text>
<text x="73.5" y="481.6" font-size="28.4" text-anchor="end">0.1</text>
<text x="100.1" y="580" font-size="28.4" text-anchor="middle">0</text>
<text x="223.7" y="580" font-size="28.4" text-anchor="middle">250</text>
<text x="347.4" y="580" font-size="28.4" text-anchor="middle">500</text>
<text x="471.1" y="580" font-size="28.4" text-anchor="middle">750</text>
<text x="289" y="613" font-size="28.4" text-anchor="middle">time [day]</text>
<text x="24" y="376" font-size="28.4" text-anchor="middle" transform="rotate(-90 24 376)">max node activity</text>
<path d="M86.9 131.4 h22.7" stroke="#1b0c66" stroke-width="11.6" stroke-linecap="round"/>
<text x="121.3" y="135" font-size="28.4" text-anchor="start">L1</text>
<path d="M187.2 131.4 h22.7" stroke="#29448e" stroke-width="11.6" stroke-linecap="round"/>
<text x="222.8" y="135" font-size="28.4" text-anchor="start">L2</text>
<path d="M287 131.4 h22.7" stroke="#4379a5" stroke-width="11.6" stroke-linecap="round"/>
<text x="323" y="135" font-size="28.4" text-anchor="start">L3</text>
<text x="-3.5" y="98" font-size="40" text-anchor="start" font-weight="bold">a</text>
</g>
<g id="panel-b">
<defs><linearGradient id="cm" x1="0" x2="1" y1="0" y2="0"><stop offset="0" stop-color="#ffffff"/><stop offset="0.2" stop-color="#ffefd8"/><stop offset="0.4" stop-color="#ffdead"/><stop offset="0.6" stop-color="#ffa868"/><stop offset="0.78" stop-color="#ff4500"/><stop offset="0.9" stop-color="#c01800"/><stop offset="1" stop-color="#8b0000"/></linearGradient></defs>
<g id="dots">
<circle cx="669.2" cy="193.7" r="4.6" fill="#ffe3c2" fill-opacity="0.15"/>
<circle cx="669.2" cy="104.7" r="4.6" fill="#ffe3c2" fill-opacity="0.15"/>
<circle cx="779.3" cy="190.4" r="4.6" fill="#ffe3c2" fill-opacity="0.17"/>
<circle cx="779.3" cy="108.0" r="4.6" fill="#ffe3c2" fill-opacity="0.17"/>
<circle cx="943.3" cy="156.8" r="4.6" fill="#ffe3c2" fill-opacity="0.29"/>
<circle cx="943.3" cy="141.6" r="4.6" fill="#ffe3c2" fill-opacity="0.29"/>
<circle cx="727.6" cy="177.7" r="4.6" fill="#ffe3c2" fill-opacity="0.18"/>
<circle cx="727.6" cy="120.7" r="4.6" fill="#ffe3c2" fill-opacity="0.18"/>
<circle cx="890.3" cy="155.3" r="4.6" fill="#ffe3c2" fill-opacity="0.29"/>
<circle cx="890.3" cy="143.1" r="4.6" fill="#ffe3c2" fill-opacity="0.29"/>
<circle cx="666.0" cy="165.6" r="4.6" fill="#ffe3c2" fill-opacity="0.23"/>
<circle cx="666.0" cy="132.8" r="4.6" fill="#ffe3c2" fill-opacity="0.23"/>
<circle cx="922.5" cy="149.2" r="4.6" fill="#ffe3c2" fill-opacity="0.30"/>
<circle cx="783.4" cy="202.3" r="4.6" fill="#ffe3c2" fill-opacity="0.15"/>
<circle cx="783.4" cy="96.1" r="4.6" fill="#ffe3c2" fill-opacity="0.15"/>
<circle cx="653.6" cy="183.4" r="4.6" fill="#ffe3c2" fill-opacity="0.17"/>
<circle cx="653.6" cy="115.0" r="4.6" fill="#ffe3c2" fill-opacity="0.17"/>
<circle cx="934.8" cy="152.5" r="4.6" fill="#ffe3c2" fill-opacity="0.30"/>
<circle cx="934.8" cy="145.9" r="4.6" fill="#ffe3c2" fill-opacity="0.30"/>
<circle cx="812.7" cy="201.0" r="4.6" fill="#ffe3c2" fill-opacity="0.15"/>
<circle cx="812.7" cy="97.4" r="4.6" fill="#ffe3c2" fill-opacity="0.15"/>
<circle cx="686.5" cy="179.0" r="4.6" fill="#ffe3c2" fill-opacity="0.18"/>
<circle cx="686.5" cy="119.4" r="4.6" fill="#ffe3c2" fill-opacity="0.18"/>
<circle cx="874.1" cy="165.2" r="4.6" fill="#ffe3c2" fill-opacity="0.26"/>
<circle cx="874.1" cy="133.2" r="4.6" fill="#ffe3c2" fill-opacity="0.26"/>
<circle cx="795.2" cy="170.4" r="4.6" fill="#ffe3c2" fill-opacity="0.23"/>
<circle cx="795.2" cy="128.0" r="4.6" fill="#ffe3c2" fill-opacity="0.23"/>
<circle cx="900.7" cy="161.2" r="4.6" fill="#ffe3c2" fill-opacity="0.27"/>
<circle cx="900.7" cy="137.2" r="4.6" fill="#ffe3c2" fill-opacity="0.27"/>
<circle cx="741.5" cy="181.8" r="4.6" fill="#ffe3c2" fill-opacity="0.19"/>
<circle cx="741.5" cy="116.6" r="4.6" fill="#ffe3c2" fill-opacity="0.19"/>
<circle cx="845.8" cy="168.9" r="4.6" fill="#ffe3c2" fill-opacity="0.24"/>
<circle cx="845.8" cy="129.5" r="4.6" fill="#ffe3c2" fill-opacity="0.24"/>
<circle cx="771.5" cy="200.9" r="4.6" fill="#ffe3c2" fill-opacity="0.15"/>
<circle cx="771.5" cy="97.5" r="4.6" fill="#ffe3c2" fill-opacity="0.15"/>
<circle cx="700.9" cy="191.4" r="4.6" fill="#ffe3c2" fill-opacity="0.15"/>
<circle cx="700.9" cy="107.0" r="4.6" fill="#ffe3c2" fill-opacity="0.15"/>
<circle cx="774.4" cy="173.5" r="4.6" fill="#ffe3c2" fill-opacity="0.22"/>
<circle cx="774.4" cy="124.9" r="4.6" fill="#ffe3c2" fill-opacity="0.22"/>
<circle cx="838.9" cy="178.8" r="4.6" fill="#ffe3c2" fill-opacity="0.20"/>
<circle cx="838.9" cy="119.6" r="4.6" fill="#ffe3c2" fill-opacity="0.20"/>
<circle cx="772.1" cy="149.2" r="4.6" fill="#ffe3c2" fill-opacity="0.30"/>
<circle cx="805.4" cy="188.9" r="4.6" fill="#ffe3c2" fill-opacity="0.17"/>
<circle cx="805.4" cy="109.5" r="4.6" fill="#ffe3c2" fill-opacity="0.17"/>
<circle cx="826.1" cy="162.6" r="4.6" fill="#ffe3c2" fill-opacity="0.27"/>
<circle cx="826.1" cy="135.8" r="4.6" fill="#ffe3c2" fill-opacity="0.27"/>
<circle cx="901.8" cy="149.2" r="4.6" fill="#ffe3c2" fill-opacity="0.30"/>
<circle cx="687.6" cy="168.8" r="4.6" fill="#ffe3c2" fill-opacity="0.22"/>
<circle cx="687.6" cy="129.6" r="4.6" fill="#ffe3c2" fill-opacity="0.22"/>
<circle cx="744.6" cy="166.3" r="4.6" fill="#ffe3c2" fill-opacity="0.25"/>
<circle cx="744.6" cy="132.1" r="4.6" fill="#ffe3c2" fill-opacity="0.25"/>
<circle cx="696.3" cy="172.8" r="4.6" fill="#ffe3c2" fill-opacity="0.20"/>
<circle cx="696.3" cy="125.6" r="4.6" fill="#ffe3c2" fill-opacity="0.20"/>
<circle cx="786.0" cy="193.6" r="4.6" fill="#ffe3c2" fill-opacity="0.16"/>
<circle cx="786.0" cy="104.8" r="4.6" fill="#ffe3c2" fill-opacity="0.16"/>
<circle cx="915.7" cy="159.4" r="4.6" fill="#ffe3c2" fill-opacity="0.28"/>
<circle cx="915.7" cy="139.0" r="4.6" fill="#ffe3c2" fill-opacity="0.28"/>
<circle cx="889.3" cy="164.5" r="4.6" fill="#ffe3c2" fill-opacity="0.26"/>
<circle cx="889.3" cy="133.9" r="4.6" fill="#ffe3c2" fill-opacity="0.26"/>
<circle cx="658.4" cy="199.1" r="4.6" fill="#ffe3c2" fill-opacity="0.14"/>
<circle cx="658.4" cy="99.3" r="4.6" fill="#ffe3c2" fill-opacity="0.14"/>
<circle cx="864.0" cy="153.6" r="4.6" fill="#ffe3c2" fill-opacity="0.30"/>
<circle cx="864.0" cy="144.8" r="4.6" fill="#ffe3c2" fill-opacity="0.30"/>
<circle cx="846.3" cy="152.9" r="4.6" fill="#ffe3c2" fill-opacity="0.30"/>
<circle cx="846.3" cy="145.5" r="4.6" fill="#ffe3c2" fill-opacity="0.30"/>
<circle cx="754.5" cy="195.5" r="4.6" fill="#ffe3c2" fill-opacity="0.16"/>
<circle cx="754.5" cy="102.9" r="4.6" fill="#ffe3c2" fill-opacity="0.16"/>
<circle cx="776.0" cy="183.4" r="4.6" fill="#ffe3c2" fill-opacity="0.18"/>
<circle cx="776.0" cy="115.0" r="4.6" fill="#ffe3c2" fill-opacity="0.18"/>
<circle cx="867.4" cy="172.1" r="4.6" fill="#ffe3c2" fill-opacity="0.23"/>
<circle cx="867.4" cy="126.3" r="4.6" fill="#ffe3c2" fill-opacity="0.23"/>
<circle cx="877.2" cy="149.2" r="4.6" fill="#ffe3c2" fill-opacity="0.30"/>
<circle cx="662.9" cy="180.1" r="4.6" fill="#ffe3c2" fill-opacity="0.18"/>
<circle cx="662.9" cy="118.3" r="4.6" fill="#ffe3c2" fill-opacity="0.18"/>
<circle cx="830.8" cy="196.4" r="4.6" fill="#ffe3c2" fill-opacity="0.16"/>
<circle cx="830.8" cy="102.0" r="4.6" fill="#ffe3c2" fill-opacity="0.16"/>
<circle cx="716.1" cy="186.8" r="4.6" fill="#ffe3c2" fill-opacity="0.16"/>
<circle cx="716.1" cy="111.6" r="4.6" fill="#ffe3c2" fill-opacity="0.16"/>
<circle cx="729.4" cy="158.8" r="4.6" fill="#ffe3c2" fill-opacity="0.25"/>
<circle cx="729.4" cy="139.6" r="4.6" fill="#ffe3c2" fill-opacity="0.25"/>
<circle cx="848.2" cy="191.2" r="4.6" fill="#ffe3c2" fill-opacity="0.17"/>
<circle cx="848.2" cy="107.2" r="4.6" fill="#ffe3c2" fill-opacity="0.17"/>
<circle cx="813.1" cy="158.6" r="4.6" fill="#ffe3c2" fill-opacity="0.28"/>
<circle cx="813.1" cy="139.8" r="4.6" fill="#ffe3c2" fill-opacity="0.28"/>
<circle cx="656.8" cy="165.2" r="4.6" fill="#ffe3c2" fill-opacity="0.23"/>
<circle cx="656.8" cy="133.2" r="4.6" fill="#ffe3c2" fill-opacity="0.23"/>
<circle cx="648.5" cy="169.8" r="4.6" fill="#ffe3c2" fill-opacity="0.21"/>
<circle cx="648.5" cy="128.6" r="4.6" fill="#ffe3c2" fill-opacity="0.21"/>
<circle cx="665.3" cy="157.7" r="4.6" fill="#ffe3c2" fill-opacity="0.26"/>
<circle cx="665.3" cy="140.7" r="4.6" fill="#ffe3c2" fill-opacity="0.26"/>
<circle cx="857.8" cy="169.7" r="4.6" fill="#ffe3c2" fill-opacity="0.24"/>
<circle cx="857.8" cy="128.7" r="4.6" fill="#ffe3c2" fill-opacity="0.24"/>
<circle cx="825.5" cy="202.8" r="4.6" fill="#ffe3c2" fill-opacity="0.15"/>
<circle cx="825.5" cy="95.6" r="4.6" fill="#ffe3c2" fill-opacity="0.15"/>
<circle cx="649.2" cy="196.5" r="4.6" fill="#ffe3c2" fill-opacity="0.14"/>
<circle cx="649.2" cy="101.9" r="4.6" fill="#ffe3c2" fill-opacity="0.14"/>
<circle cx="927.7" cy="155.9" r="4.6" fill="#ffe3c2" fill-opacity="0.29"/>
<circle cx="927.7" cy="142.5" r="4.6" fill="#ffe3c2" fill-opacity="0.29"/>
<circle cx="773.1" cy="159.5" r="4.6" fill="#ffe3c2" fill-opacity="0.28"/>
<circle cx="773.1" cy="138.9" r="4.6" fill="#ffe3c2" fill-opacity="0.28"/>
<circle cx="804.4" cy="179.7" r="4.6" fill="#ffe3c2" fill-opacity="0.20"/>
<circle cx="804.4" cy="118.7" r="4.6" fill="#ffe3c2" fill-opacity="0.20"/>
<circle cx="742.4" cy="191.2" r="4.6" fill="#ffe3c2" fill-opacity="0.17"/>
<circle cx="742.4" cy="107.2" r="4.6" fill="#ffe3c2" fill-opacity="0.17"/>
<circle cx="694.7" cy="160.2" r="4.6" fill="#ffe3c2" fill-opacity="0.25"/>
<circle cx="694.7" cy="138.2" r="4.6" fill="#ffe3c2" fill-opacity="0.25"/>
<circle cx="753.8" cy="170.8" r="4.6" fill="#ffe3c2" fill-opacity="0.23"/>
<circle cx="753.8" cy="127.6" r="4.6" fill="#ffe3c2" fill-opacity="0.23"/>
<circle cx="708.7" cy="201.6" r="4.6" fill="#ffe3c2" fill-opacity="0.14"/>
<circle cx="708.7" cy="96.8" r="4.6" fill="#ffe3c2" fill-opacity="0.14"/>
<circle cx="758.3" cy="162.5" r="4.6" fill="#ffe3c2" fill-opacity="0.27"/>
<circle cx="758.3" cy="135.9" r="4.6" fill="#ffe3c2" fill-opacity="0.27"/>
<circle cx="783.1" cy="165.0" r="4.6" fill="#ffe3c2" fill-opacity="0.26"/>
<circle cx="783.1" cy="133.4" r="4.6" fill="#ffe3c2" fill-opacity="0.26"/>
<circle cx="798.5" cy="201.8" r="4.6" fill="#ffe3c2" fill-opacity="0.15"/>
<circle cx="798.5" cy="96.6" r="4.6" fill="#ffe3c2" fill-opacity="0.15"/>
<circle cx="762.3" cy="186.3" r="4.6" fill="#ffe3c2" fill-opacity="0.18"/>
<circle cx="762.3" cy="112.1" r="4.6" fill="#ffe3c2" fill-opacity="0.18"/>
<circle cx="733.4" cy="187.5" r="4.6" fill="#ffe3c2" fill-opacity="0.16"/>
<circle cx="733.4" cy="110.9" r="4.6" fill="#ffe3c2" fill-opacity="0.16"/>
<circle cx="827.2" cy="154.4" r="4.6" fill="#ffe3c2" fill-opacity="0.29"/>
<circle cx="827.2" cy="144.0" r="4.6" fill="#ffe3c2" fill-opacity="0.29"/>
<circle cx="781.2" cy="155.2" r="4.6" fill="#ffe3c2" fill-opacity="0.29"/>
<circle cx="781.2" cy="143.2" r="4.6" fill="#ffe3c2" fill-opacity="0.29"/>
<circle cx="837.4" cy="163.0" r="4.6" fill="#ffe3c2" fill-opacity="0.27"/>
<circle cx="837.4" cy="135.4" r="4.6" fill="#ffe3c2" fill-opacity="0.27"/>
<circle cx="676.2" cy="186.0" r="4.6" fill="#ffe3c2" fill-opacity="0.16"/>
<circle cx="676.2" cy="112.4" r="4.6" fill="#ffe3c2" fill-opacity="0.16"/>
<circle cx="811.0" cy="175.3" r="4.6" fill="#ffe3c2" fill-opacity="0.21"/>
<circle cx="811.0" cy="123.1" r="4.6" fill="#ffe3c2" fill-opacity="0.21"/>
<circle cx="815.4" cy="167.9" r="4.6" fill="#ffe3c2" fill-opacity="0.25"/>
<circle cx="815.4" cy="130.5" r="4.6" fill="#ffe3c2" fill-opacity="0.25"/>
<circle cx="662.0" cy="191.0" r="4.6" fill="#ffe3c2" fill-opacity="0.15"/>
<circle cx="662.0" cy="107.4" r="4.6" fill="#ffe3c2" fill-opacity="0.15"/>
<circle cx="746.0" cy="152.6" r="4.6" fill="#ffe3c2" fill-opacity="0.30"/>
<circle cx="746.0" cy="145.8" r="4.6" fill="#ffe3c2" fill-opacity="0.30"/>
<circle cx="720.5" cy="204.4" r="4.6" fill="#ffe3c2" fill-opacity="0.14"/>
<circle cx="720.5" cy="94.0" r="4.6" fill="#ffe3c2" fill-opacity="0.14"/>
<circle cx="736.6" cy="200.5" r="4.6" fill="#ffe3c2" fill-opacity="0.16"/>
<circle cx="736.6" cy="97.9" r="4.6" fill="#ffe3c2" fill-opacity="0.16"/>
<circle cx="687.0" cy="204.0" r="4.6" fill="#ffe3c2" fill-opacity="0.14"/>
<circle cx="687.0" cy="94.4" r="4.6" fill="#ffe3c2" fill-opacity="0.14"/>
<circle cx="674.1" cy="155.2" r="4.6" fill="#ffe3c2" fill-opacity="0.26"/>
<circle cx="674.1" cy="143.2" r="4.6" fill="#ffe3c2" fill-opacity="0.26"/>
<circle cx="711.3" cy="192.7" r="4.6" fill="#ffe3c2" fill-opacity="0.15"/>
<circle cx="711.3" cy="105.7" r="4.6" fill="#ffe3c2" fill-opacity="0.15"/>
<circle cx="647.7" cy="206.2" r="4.6" fill="#ffe3c2" fill-opacity="0.14"/>
<circle cx="647.7" cy="92.2" r="4.6" fill="#ffe3c2" fill-opacity="0.14"/>
<circle cx="705.5" cy="176.4" r="4.6" fill="#ffe3c2" fill-opacity="0.19"/>
<circle cx="705.5" cy="122.0" r="4.6" fill="#ffe3c2" fill-opacity="0.19"/>
<circle cx="679.4" cy="197.0" r="4.6" fill="#ffe3c2" fill-opacity="0.14"/>
<circle cx="679.4" cy="101.4" r="4.6" fill="#ffe3c2" fill-opacity="0.14"/>
<circle cx="717.7" cy="157.6" r="4.6" fill="#ffe3c2" fill-opacity="0.26"/>
<circle cx="717.7" cy="140.8" r="4.6" fill="#ffe3c2" fill-opacity="0.26"/>
<circle cx="750.1" cy="189.8" r="4.6" fill="#ffe3c2" fill-opacity="0.17"/>
<circle cx="750.1" cy="108.6" r="4.6" fill="#ffe3c2" fill-opacity="0.17"/>
<circle cx="719.5" cy="174.1" r="4.6" fill="#ffe3c2" fill-opacity="0.20"/>
<circle cx="719.5" cy="124.3" r="4.6" fill="#ffe3c2" fill-opacity="0.20"/>
<circle cx="760.4" cy="205.1" r="4.6" fill="#ffe3c2" fill-opacity="0.15"/>
<circle cx="760.4" cy="93.3" r="4.6" fill="#ffe3c2" fill-opacity="0.15"/>
<circle cx="752.2" cy="181.7" r="4.6" fill="#ffe3c2" fill-opacity="0.19"/>
<circle cx="752.2" cy="116.7" r="4.6" fill="#ffe3c2" fill-opacity="0.19"/>
<circle cx="815.5" cy="186.6" r="4.6" fill="#ffe3c2" fill-opacity="0.18"/>
<circle cx="815.5" cy="111.8" r="4.6" fill="#ffe3c2" fill-opacity="0.18"/>
<circle cx="932.9" cy="162.5" r="4.6" fill="#ffe3c2" fill-opacity="0.27"/>
<circle cx="932.9" cy="135.9" r="4.6" fill="#ffe3c2" fill-opacity="0.27"/>
<circle cx="908.0" cy="159.9" r="4.6" fill="#ffe3c2" fill-opacity="0.28"/>
<circle cx="908.0" cy="138.5" r="4.6" fill="#ffe3c2" fill-opacity="0.28"/>
<circle cx="771.0" cy="189.1" r="4.6" fill="#ffe3c2" fill-opacity="0.17"/>
<circle cx="771.0" cy="109.3" r="4.6" fill="#ffe3c2" fill-opacity="0.17"/>
<circle cx="673.0" cy="171.7" r="4.6" fill="#ffe3c2" fill-opacity="0.21"/>
<circle cx="673.0" cy="126.7" r="4.6" fill="#ffe3c2" fill-opacity="0.21"/>
<circle cx="695.9" cy="149.2" r="4.6" fill="#ffe3c2" fill-opacity="0.27"/>
<circle cx="708.1" cy="163.7" r="4.6" fill="#ffe3c2" fill-opacity="0.24"/>
<circle cx="708.1" cy="134.7" r="4.6" fill="#ffe3c2" fill-opacity="0.24"/>
<circle cx="796.5" cy="185.1" r="4.6" fill="#ffe3c2" fill-opacity="0.18"/>
<circle cx="796.5" cy="113.3" r="4.6" fill="#ffe3c2" fill-opacity="0.18"/>
<circle cx="748.6" cy="204.2" r="4.6" fill="#ffe3c2" fill-opacity="0.15"/>
<circle cx="748.6" cy="94.2" r="4.6" fill="#ffe3c2" fill-opacity="0.15"/>
<circle cx="910.1" cy="149.2" r="4.6" fill="#ffe3c2" fill-opacity="0.30"/>
<circle cx="761.3" cy="177.0" r="4.6" fill="#ffe3c2" fill-opacity="0.21"/>
<circle cx="761.3" cy="121.4" r="4.6" fill="#ffe3c2" fill-opacity="0.21"/>
<circle cx="788.1" cy="182.4" r="4.6" fill="#ffe3c2" fill-opacity="0.19"/>
<circle cx="788.1" cy="116.0" r="4.6" fill="#ffe3c2" fill-opacity="0.19"/>
<circle cx="874.0" cy="155.9" r="4.6" fill="#ffe3c2" fill-opacity="0.29"/>
<circle cx="874.0" cy="142.5" r="4.6" fill="#ffe3c2" fill-opacity="0.29"/>
<circle cx="922.4" cy="162.6" r="4.6" fill="#ffe3c2" fill-opacity="0.27"/>
<circle cx="922.4" cy="135.8" r="4.6" fill="#ffe3c2" fill-opacity="0.27"/>
<circle cx="650.7" cy="156.9" r="4.6" fill="#ffe3c2" fill-opacity="0.26"/>
<circle cx="650.7" cy="141.5" r="4.6" fill="#ffe3c2" fill-opacity="0.26"/>
<circle cx="679.4" cy="166.0" r="4.6" fill="#ffe3c2" fill-opacity="0.23"/>
<circle cx="679.4" cy="132.4" r="4.6" fill="#ffe3c2" fill-opacity="0.23"/>
<circle cx="765.4" cy="158.4" r="4.6" fill="#ffe3c2" fill-opacity="0.28"/>
<circle cx="765.4" cy="140.0" r="4.6" fill="#ffe3c2" fill-opacity="0.28"/>
<circle cx="693.2" cy="189.4" r="4.6" fill="#ffe3c2" fill-opacity="0.15"/>
<circle cx="693.2" cy="109.0" r="4.6" fill="#ffe3c2" fill-opacity="0.15"/>
<circle cx="858.6" cy="188.9" r="4.6" fill="#ffe3c2" fill-opacity="0.17"/>
<circle cx="858.6" cy="109.5" r="4.6" fill="#ffe3c2" fill-opacity="0.17"/>
<circle cx="671.5" cy="180.4" r="4.6" fill="#ffe3c2" fill-opacity="0.17"/>
<circle cx="671.5" cy="118.0" r="4.6" fill="#ffe3c2" fill-opacity="0.17"/>
<circle cx="838.1" cy="153.2" r="4.6" fill="#ffe3c2" fill-opacity="0.30"/>
<circle cx="838.1" cy="145.2" r="4.6" fill="#ffe3c2" fill-opacity="0.30"/>
<circle cx="849.8" cy="162.3" r="4.6" fill="#ffe3c2" fill-opacity="0.27"/>
<circle cx="849.8" cy="136.1" r="4.6" fill="#ffe3c2" fill-opacity="0.27"/>
<circle cx="883.8" cy="159.9" r="4.6" fill="#ffe3c2" fill-opacity="0.28"/>
<circle cx="883.8" cy="138.5" r="4.6" fill="#ffe3c2" fill-opacity="0.28"/>
<circle cx="949.9" cy="153.1" r="4.6" fill="#ffe3c2" fill-opacity="0.30"/>
<circle cx="949.9" cy="145.3" r="4.6" fill="#ffe3c2" fill-opacity="0.30"/>
<circle cx="827.2" cy="190.1" r="4.6" fill="#ffe3c2" fill-opacity="0.17"/>
<circle cx="827.2" cy="108.3" r="4.6" fill="#ffe3c2" fill-opacity="0.17"/>
<circle cx="835.3" cy="187.5" r="4.6" fill="#ffe3c2" fill-opacity="0.17"/>
<circle cx="835.3" cy="110.9" r="4.6" fill="#ffe3c2" fill-opacity="0.17"/>
<circle cx="705.8" cy="153.9" r="4.6" fill="#ffe3c2" fill-opacity="0.27"/>
<circle cx="705.8" cy="144.5" r="4.6" fill="#ffe3c2" fill-opacity="0.27"/>
<circle cx="838.2" cy="201.0" r="4.6" fill="#ffe3c2" fill-opacity="0.15"/>
<circle cx="838.2" cy="97.4" r="4.6" fill="#ffe3c2" fill-opacity="0.15"/>
<circle cx="684.9" cy="149.2" r="4.6" fill="#ffe3c2" fill-opacity="0.27"/>
<circle cx="791.7" cy="205.3" r="4.6" fill="#ffe3c2" fill-opacity="0.15"/>
<circle cx="791.7" cy="93.1" r="4.6" fill="#ffe3c2" fill-opacity="0.15"/>
<circle cx="718.3" cy="195.1" r="4.6" fill="#ffe3c2" fill-opacity="0.14"/>
<circle cx="718.3" cy="103.3" r="4.6" fill="#ffe3c2" fill-opacity="0.14"/>
<circle cx="795.0" cy="195.3" r="4.6" fill="#ffe3c2" fill-opacity="0.16"/>
<circle cx="795.0" cy="103.1" r="4.6" fill="#ffe3c2" fill-opacity="0.16"/>
<circle cx="881.3" cy="168.0" r="4.6" fill="#ffe3c2" fill-opacity="0.25"/>
<circle cx="881.3" cy="130.4" r="4.6" fill="#ffe3c2" fill-opacity="0.25"/>
<circle cx="698.7" cy="182.3" r="4.6" fill="#ffe3c2" fill-opacity="0.17"/>
<circle cx="698.7" cy="116.1" r="4.6" fill="#ffe3c2" fill-opacity="0.17"/>
<circle cx="731.1" cy="169.2" r="4.6" fill="#ffe3c2" fill-opacity="0.22"/>
<circle cx="731.1" cy="129.2" r="4.6" fill="#ffe3c2" fill-opacity="0.22"/>
<circle cx="853.0" cy="149.2" r="4.6" fill="#ffe3c2" fill-opacity="0.30"/>
<circle cx="762.0" cy="195.8" r="4.6" fill="#ffe3c2" fill-opacity="0.16"/>
<circle cx="762.0" cy="102.6" r="4.6" fill="#ffe3c2" fill-opacity="0.16"/>
<circle cx="685.1" cy="159.0" r="4.6" fill="#ffe3c2" fill-opacity="0.25"/>
<circle cx="685.1" cy="139.4" r="4.6" fill="#ffe3c2" fill-opacity="0.25"/>
<circle cx="755.3" cy="149.2" r="4.6" fill="#ffe3c2" fill-opacity="0.30"/>
<circle cx="848.0" cy="178.7" r="4.6" fill="#ffe3c2" fill-opacity="0.20"/>
<circle cx="848.0" cy="119.7" r="4.6" fill="#ffe3c2" fill-opacity="0.20"/>
<circle cx="859.5" cy="179.5" r="4.6" fill="#ffe3c2" fill-opacity="0.20"/>
<circle cx="859.5" cy="118.9" r="4.6" fill="#ffe3c2" fill-opacity="0.20"/>
<circle cx="830.8" cy="170.5" r="4.6" fill="#ffe3c2" fill-opacity="0.23"/>
<circle cx="830.8" cy="127.9" r="4.6" fill="#ffe3c2" fill-opacity="0.23"/>
<circle cx="828.0" cy="179.2" r="4.6" fill="#ffe3c2" fill-opacity="0.20"/>
<circle cx="828.0" cy="119.2" r="4.6" fill="#ffe3c2" fill-opacity="0.20"/>
<circle cx="694.6" cy="197.5" r="4.6" fill="#ffe3c2" fill-opacity="0.14"/>
<circle cx="694.6" cy="100.9" r="4.6" fill="#ffe3c2" fill-opacity="0.14"/>
<circle cx="815.0" cy="149.2" r="4.6" fill="#ffe3c2" fill-opacity="0.30"/>
<circle cx="734.7" cy="175.4" r="4.6" fill="#ffe3c2" fill-opacity="0.19"/>
<circle cx="734.7" cy="123.0" r="4.6" fill="#ffe3c2" fill-opacity="0.19"/>
<circle cx="730.9" cy="205.6" r="4.6" fill="#ffe3c2" fill-opacity="0.14"/>
<circle cx="730.9" cy="92.8" r="4.6" fill="#ffe3c2" fill-opacity="0.14"/>
<circle cx="856.1" cy="156.5" r="4.6" fill="#ffe3c2" fill-opacity="0.29"/>
<circle cx="856.1" cy="141.9" r="4.6" fill="#ffe3c2" fill-opacity="0.29"/>
<circle cx="848.5" cy="199.7" r="4.6" fill="#ffe3c2" fill-opacity="0.16"/>
<circle cx="848.5" cy="98.7" r="4.6" fill="#ffe3c2" fill-opacity="0.16"/>
<circle cx="819.4" cy="196.6" r="4.6" fill="#ffe3c2" fill-opacity="0.16"/>
<circle cx="819.4" cy="101.8" r="4.6" fill="#ffe3c2" fill-opacity="0.16"/>
<circle cx="803.0" cy="167.3" r="4.6" fill="#ffe3c2" fill-opacity="0.25"/>
<circle cx="803.0" cy="131.1" r="4.6" fill="#ffe3c2" fill-opacity="0.25"/>
<circle cx="713.6" cy="169.8" r="4.6" fill="#ffe3c2" fill-opacity="0.21"/>
<circle cx="713.6" cy="128.6" r="4.6" fill="#ffe3c2" fill-opacity="0.21"/>
<circle cx="695.0" cy="205.5" r="4.6" fill="#ffe3c2" fill-opacity="0.14"/>
<circle cx="695.0" cy="92.9" r="4.6" fill="#ffe3c2" fill-opacity="0.14"/>
<circle cx="737.6" cy="155.7" r="4.6" fill="#ffe3c2" fill-opacity="0.29"/>
<circle cx="737.6" cy="142.7" r="4.6" fill="#ffe3c2" fill-opacity="0.29"/>
<circle cx="646.4" cy="187.9" r="4.6" fill="#ffe3c2" fill-opacity="0.15"/>
<circle cx="646.4" cy="110.5" r="4.6" fill="#ffe3c2" fill-opacity="0.15"/>
<circle cx="738.0" cy="163.3" r="4.6" fill="#ffe3c2" fill-opacity="0.27"/>
<circle cx="738.0" cy="135.1" r="4.6" fill="#ffe3c2" fill-opacity="0.27"/>
<circle cx="679.8" cy="174.8" r="4.6" fill="#ffe3c2" fill-opacity="0.19"/>
<circle cx="679.8" cy="123.6" r="4.6" fill="#ffe3c2" fill-opacity="0.19"/>
<circle cx="822.3" cy="170.2" r="4.6" fill="#ffe3c2" fill-opacity="0.24"/>
<circle cx="822.3" cy="128.2" r="4.6" fill="#ffe3c2" fill-opacity="0.24"/>
<circle cx="669.4" cy="203.7" r="4.6" fill="#ffe3c2" fill-opacity="0.14"/>
<circle cx="669.4" cy="94.7" r="4.6" fill="#ffe3c2" fill-opacity="0.14"/>
<circle cx="659.6" cy="152.9" r="4.6" fill="#ffe3c2" fill-opacity="0.27"/>
<circle cx="659.6" cy="145.5" r="4.6" fill="#ffe3c2" fill-opacity="0.27"/>
<circle cx="785.9" cy="175.6" r="4.6" fill="#ffe3c2" fill-opacity="0.21"/>
<circle cx="785.9" cy="122.8" r="4.6" fill="#ffe3c2" fill-opacity="0.21"/>
<circle cx="706.4" cy="185.2" r="4.6" fill="#ffe3c2" fill-opacity="0.16"/>
<circle cx="706.4" cy="113.2" r="4.6" fill="#ffe3c2" fill-opacity="0.16"/>
<circle cx="864.3" cy="163.3" r="4.6" fill="#ffe3c2" fill-opacity="0.27"/>
<circle cx="864.3" cy="135.1" r="4.6" fill="#ffe3c2" fill-opacity="0.27"/>
<circle cx="806.0" cy="203.9" r="4.6" fill="#ffe3c2" fill-opacity="0.15"/>
<circle cx="806.0" cy="94.5" r="4.6" fill="#ffe3c2" fill-opacity="0.15"/>
<circle cx="723.4" cy="149.2" r="4.6" fill="#ffe3c2" fill-opacity="0.27"/>
<circle cx="767.3" cy="165.8" r="4.6" fill="#ffe3c2" fill-opacity="0.26"/>
<circle cx="767.3" cy="132.6" r="4.6" fill="#ffe3c2" fill-opacity="0.26"/>
<circle cx="686.6" cy="193.9" r="4.6" fill="#ffe3c2" fill-opacity="0.15"/>
<circle cx="686.6" cy="104.5" r="4.6" fill="#ffe3c2" fill-opacity="0.15"/>
<circle cx="856.5" cy="198.2" r="4.6" fill="#fff2e4" fill-opacity="0.70"/>
<circle cx="856.5" cy="100.2" r="4.6" fill="#fff2e4" fill-opacity="0.70"/>
<circle cx="915.0" cy="166.7" r="4.6" fill="#fff2e4" fill-opacity="0.70"/>
<circle cx="915.0" cy="131.7" r="4.6" fill="#fff2e4" fill-opacity="0.70"/>
<circle cx="903.2" cy="166.9" r="4.6" fill="#fff2e4" fill-opacity="0.70"/>
<circle cx="903.2" cy="131.5" r="4.6" fill="#fff2e4" fill-opacity="0.70"/>
<circle cx="846.6" cy="197.2" r="4.6" fill="#fff0e0" fill-opacity="0.70"/>
<circle cx="846.6" cy="101.2" r="4.6" fill="#fff0e0" fill-opacity="0.70"/>
<circle cx="853.0" cy="187.2" r="4.6" fill="#fff0e0" fill-opacity="0.70"/>
<circle cx="853.0" cy="111.2" r="4.6" fill="#fff0e0" fill-opacity="0.70"/>
<circle cx="915.0" cy="165.2" r="4.6" fill="#fff0e0" fill-opacity="0.70"/>
<circle cx="915.0" cy="133.2" r="4.6" fill="#fff0e0" fill-opacity="0.70"/>
<circle cx="671.8" cy="192.7" r="4.6" fill="#ffeedb" fill-opacity="0.70"/>
<circle cx="671.8" cy="105.7" r="4.6" fill="#ffeedb" fill-opacity="0.70"/>
<circle cx="697.3" cy="189.2" r="4.6" fill="#ffeedb" fill-opacity="0.70"/>
<circle cx="697.3" cy="109.2" r="4.6" fill="#ffeedb" fill-opacity="0.70"/>
<circle cx="770.0" cy="195.2" r="4.6" fill="#ffeedb" fill-opacity="0.70"/>
<circle cx="770.0" cy="103.2" r="4.6" fill="#ffeedb" fill-opacity="0.70"/>
<circle cx="826.0" cy="149.2" r="4.6" fill="#ffeedb" fill-opacity="0.70"/>
<circle cx="799.0" cy="166.2" r="4.6" fill="#ffeedb" fill-opacity="0.70"/>
<circle cx="799.0" cy="132.2" r="4.6" fill="#ffeedb" fill-opacity="0.70"/>
<circle cx="838.0" cy="190.2" r="4.6" fill="#ffeedb" fill-opacity="0.70"/>
<circle cx="838.0" cy="108.2" r="4.6" fill="#ffeedb" fill-opacity="0.70"/>
<circle cx="832.0" cy="200.2" r="4.6" fill="#ffeedb" fill-opacity="0.70"/>
<circle cx="832.0" cy="98.2" r="4.6" fill="#ffeedb" fill-opacity="0.70"/>
<circle cx="874.6" cy="175.7" r="4.6" fill="#ffeedb" fill-opacity="0.70"/>
<circle cx="874.6" cy="122.7" r="4.6" fill="#ffeedb" fill-opacity="0.70"/>
<circle cx="880.0" cy="170.6" r="4.6" fill="#ffeedb" fill-opacity="0.70"/>
<circle cx="880.0" cy="127.8" r="4.6" fill="#ffeedb" fill-opacity="0.70"/>
<circle cx="872.0" cy="166.2" r="4.6" fill="#ffeedb" fill-opacity="0.70"/>
<circle cx="872.0" cy="132.2" r="4.6" fill="#ffeedb" fill-opacity="0.70"/>
<circle cx="877.0" cy="162.7" r="4.6" fill="#ffeedb" fill-opacity="0.70"/>
<circle cx="877.0" cy="135.7" r="4.6" fill="#ffeedb" fill-opacity="0.70"/>
<circle cx="884.0" cy="159.2" r="4.6" fill="#ffeedb" fill-opacity="0.70"/>
<circle cx="884.0" cy="139.2" r="4.6" fill="#ffeedb" fill-opacity="0.70"/>
<circle cx="888.4" cy="167.4" r="4.6" fill="#ffeedb" fill-opacity="0.70"/>
<circle cx="888.4" cy="131.0" r="4.6" fill="#ffeedb" fill-opacity="0.70"/>
<circle cx="870.0" cy="154.2" r="4.6" fill="#ffeedb" fill-opacity="0.70"/>
<circle cx="870.0" cy="144.2" r="4.6" fill="#ffeedb" fill-opacity="0.70"/>
<circle cx="902.0" cy="164.2" r="4.6" fill="#ffeedb" fill-opacity="0.70"/>
<circle cx="902.0" cy="134.2" r="4.6" fill="#ffeedb" fill-opacity="0.70"/>
<circle cx="895.0" cy="165.2" r="4.6" fill="#ffeedb" fill-opacity="0.70"/>
<circle cx="895.0" cy="133.2" r="4.6" fill="#ffeedb" fill-opacity="0.70"/>
<circle cx="909.0" cy="161.2" r="4.6" fill="#ffeedb" fill-opacity="0.70"/>
<circle cx="909.0" cy="137.2" r="4.6" fill="#ffeedb" fill-opacity="0.70"/>
<circle cx="913.0" cy="157.7" r="4.6" fill="#ffeedb" fill-opacity="0.70"/>
<circle cx="913.0" cy="140.7" r="4.6" fill="#ffeedb" fill-opacity="0.70"/>
<circle cx="742.0" cy="176.2" r="4.6" fill="#ffe9d0" fill-opacity="0.70"/>
<circle cx="742.0" cy="122.2" r="4.6" fill="#ffe9d0" fill-opacity="0.70"/>
<circle cx="740.5" cy="165.2" r="4.6" fill="#ffe9d0" fill-opacity="0.70"/>
<circle cx="740.5" cy="133.2" r="4.6" fill="#ffe9d0" fill-opacity="0.70"/>
<circle cx="803.5" cy="154.7" r="4.6" fill="#ffe9d0" fill-opacity="0.70"/>
<circle cx="803.5" cy="143.7" r="4.6" fill="#ffe9d0" fill-opacity="0.70"/>
<circle cx="797.0" cy="179.7" r="4.6" fill="#ffe9d0" fill-opacity="0.70"/>
<circle cx="797.0" cy="118.7" r="4.6" fill="#ffe9d0" fill-opacity="0.70"/>
<circle cx="741.4" cy="185.2" r="4.6" fill="#ffe9d0" fill-opacity="0.70"/>
<circle cx="741.4" cy="113.2" r="4.6" fill="#ffe9d0" fill-opacity="0.70"/>
<circle cx="769.0" cy="154.2" r="4.6" fill="#ffe9d0" fill-opacity="0.70"/>
<circle cx="769.0" cy="144.2" r="4.6" fill="#ffe9d0" fill-opacity="0.70"/>
<circle cx="790.0" cy="168.7" r="4.6" fill="#ffe9d0" fill-opacity="0.70"/>
<circle cx="790.0" cy="129.7" r="4.6" fill="#ffe9d0" fill-opacity="0.70"/>
<circle cx="852.0" cy="175.7" r="4.6" fill="#ffe9d0" fill-opacity="0.70"/>
<circle cx="852.0" cy="122.7" r="4.6" fill="#ffe9d0" fill-opacity="0.70"/>
<circle cx="838.5" cy="180.7" r="4.6" fill="#ffe9d0" fill-opacity="0.70"/>
<circle cx="838.5" cy="117.7" r="4.6" fill="#ffe9d0" fill-opacity="0.70"/>
<circle cx="851.0" cy="163.2" r="4.6" fill="#ffe9d0" fill-opacity="0.70"/>
<circle cx="851.0" cy="135.2" r="4.6" fill="#ffe9d0" fill-opacity="0.70"/>
<circle cx="846.5" cy="158.2" r="4.6" fill="#ffe9d0" fill-opacity="0.70"/>
<circle cx="846.5" cy="140.2" r="4.6" fill="#ffe9d0" fill-opacity="0.70"/>
<circle cx="874.6" cy="158.8" r="4.6" fill="#ffe9d0" fill-opacity="0.75"/>
<circle cx="874.6" cy="139.6" r="4.6" fill="#ffe9d0" fill-opacity="0.75"/>
<circle cx="880.0" cy="153.0" r="4.6" fill="#ffe9d0" fill-opacity="0.75"/>
<circle cx="880.0" cy="145.4" r="4.6" fill="#ffe9d0" fill-opacity="0.75"/>
<circle cx="918.5" cy="158.2" r="4.6" fill="#ffe9d0" fill-opacity="0.75"/>
<circle cx="918.5" cy="140.2" r="4.6" fill="#ffe9d0" fill-opacity="0.75"/>
<circle cx="936.5" cy="159.7" r="4.6" fill="#ffe9d0" fill-opacity="0.75"/>
<circle cx="936.5" cy="138.7" r="4.6" fill="#ffe9d0" fill-opacity="0.75"/>
<circle cx="689.9" cy="159.8" r="4.6" fill="#ffe8cf" fill-opacity="0.70"/>
<circle cx="689.9" cy="138.6" r="4.6" fill="#ffe8cf" fill-opacity="0.70"/>
<circle cx="678.2" cy="182.7" r="4.6" fill="#ffe8cf" fill-opacity="0.70"/>
<circle cx="678.2" cy="115.7" r="4.6" fill="#ffe8cf" fill-opacity="0.70"/>
<circle cx="661.2" cy="164.1" r="4.6" fill="#ffe6c8" fill-opacity="0.70"/>
<circle cx="661.2" cy="134.3" r="4.6" fill="#ffe6c8" fill-opacity="0.70"/>
<circle cx="738.0" cy="153.2" r="4.6" fill="#ffe6c8" fill-opacity="0.70"/>
<circle cx="738.0" cy="145.2" r="4.6" fill="#ffe6c8" fill-opacity="0.70"/>
<circle cx="743.5" cy="154.2" r="4.6" fill="#ffe6c8" fill-opacity="0.80"/>
<circle cx="743.5" cy="144.2" r="4.6" fill="#ffe6c8" fill-opacity="0.80"/>
<circle cx="786.0" cy="162.0" r="4.6" fill="#ffe6c8" fill-opacity="0.80"/>
<circle cx="786.0" cy="136.4" r="4.6" fill="#ffe6c8" fill-opacity="0.80"/>
<circle cx="798.7" cy="186.2" r="4.6" fill="#ffe6c8" fill-opacity="0.80"/>
<circle cx="798.7" cy="112.2" r="4.6" fill="#ffe6c8" fill-opacity="0.80"/>
<circle cx="758.4" cy="187.2" r="4.6" fill="#ffe6c8" fill-opacity="0.80"/>
<circle cx="758.4" cy="111.2" r="4.6" fill="#ffe6c8" fill-opacity="0.80"/>
<circle cx="836.0" cy="161.7" r="4.6" fill="#ffe6c8" fill-opacity="0.80"/>
<circle cx="836.0" cy="136.7" r="4.6" fill="#ffe6c8" fill-opacity="0.80"/>
<circle cx="838.5" cy="173.2" r="4.6" fill="#ffe6c8" fill-opacity="0.80"/>
<circle cx="838.5" cy="125.2" r="4.6" fill="#ffe6c8" fill-opacity="0.80"/>
<circle cx="920.0" cy="149.2" r="4.6" fill="#ffe6c8" fill-opacity="0.75"/>
<circle cx="929.3" cy="160.3" r="4.6" fill="#ffe6c8" fill-opacity="0.80"/>
<circle cx="929.3" cy="138.1" r="4.6" fill="#ffe6c8" fill-opacity="0.80"/>
<circle cx="922.2" cy="157.1" r="4.6" fill="#ffe6c8" fill-opacity="0.80"/>
<circle cx="922.2" cy="141.3" r="4.6" fill="#ffe6c8" fill-opacity="0.80"/>
<circle cx="747.5" cy="159.7" r="4.6" fill="#ffe4c3" fill-opacity="0.80"/>
<circle cx="747.5" cy="138.7" r="4.6" fill="#ffe4c3" fill-opacity="0.80"/>
<circle cx="805.0" cy="149.2" r="4.6" fill="#ffe4c3" fill-opacity="0.80"/>
<circle cx="821.0" cy="157.2" r="4.6" fill="#ffe4c3" fill-opacity="0.80"/>
<circle cx="821.0" cy="141.2" r="4.6" fill="#ffe4c3" fill-opacity="0.80"/>
<circle cx="822.0" cy="168.2" r="4.6" fill="#ffe4c3" fill-opacity="0.80"/>
<circle cx="822.0" cy="130.2" r="4.6" fill="#ffe4c3" fill-opacity="0.80"/>
<circle cx="775.3" cy="166.2" r="4.6" fill="#ffe4c3" fill-opacity="0.80"/>
<circle cx="775.3" cy="132.2" r="4.6" fill="#ffe4c3" fill-opacity="0.80"/>
<circle cx="849.5" cy="154.5" r="4.6" fill="#ffe4c3" fill-opacity="0.85"/>
<circle cx="849.5" cy="143.9" r="4.6" fill="#ffe4c3" fill-opacity="0.85"/>
<circle cx="842.7" cy="149.2" r="4.6" fill="#ffe4c3" fill-opacity="0.80"/>
<circle cx="887.5" cy="154.2" r="4.6" fill="#ffe4c3" fill-opacity="0.80"/>
<circle cx="887.5" cy="144.2" r="4.6" fill="#ffe4c3" fill-opacity="0.80"/>
<circle cx="906.0" cy="153.7" r="4.6" fill="#ffe4c3" fill-opacity="0.80"/>
<circle cx="906.0" cy="144.7" r="4.6" fill="#ffe4c3" fill-opacity="0.80"/>
<circle cx="925.4" cy="150.8" r="4.6" fill="#ffe4c3" fill-opacity="0.80"/>
<circle cx="925.4" cy="147.6" r="4.6" fill="#ffe4c3" fill-opacity="0.80"/>
<circle cx="938.0" cy="155.2" r="4.6" fill="#ffe4c3" fill-opacity="0.80"/>
<circle cx="938.0" cy="143.2" r="4.6" fill="#ffe4c3" fill-opacity="0.80"/>
<circle cx="930.0" cy="154.2" r="4.6" fill="#ffe4c3" fill-opacity="0.80"/>
<circle cx="930.0" cy="144.2" r="4.6" fill="#ffe4c3" fill-opacity="0.80"/>
<circle cx="940.5" cy="150.7" r="4.6" fill="#ffe4c3" fill-opacity="0.80"/>
<circle cx="940.5" cy="147.7" r="4.6" fill="#ffe4c3" fill-opacity="0.80"/>
<circle cx="942.0" cy="163.7" r="4.6" fill="#ffe3c0" fill-opacity="0.90"/>
<circle cx="942.0" cy="134.7" r="4.6" fill="#ffe3c0" fill-opacity="0.90"/>
<circle cx="671.4" cy="154.5" r="4.6" fill="#ffe2bb" fill-opacity="0.70"/>
<circle cx="671.4" cy="143.9" r="4.6" fill="#ffe2bb" fill-opacity="0.70"/>
<circle cx="671.4" cy="149.2" r="4.6" fill="#ffe2bb" fill-opacity="0.70"/>
<circle cx="959.4" cy="156.3" r="4.6" fill="#ffe2bb" fill-opacity="0.90"/>
<circle cx="959.4" cy="142.1" r="4.6" fill="#ffe2bb" fill-opacity="0.90"/>
<circle cx="957.8" cy="149.2" r="4.6" fill="#ffe2bb" fill-opacity="0.90"/>
<circle cx="750.3" cy="176.0" r="4.6" fill="#ffe0b9" fill-opacity="0.85"/>
<circle cx="750.3" cy="122.4" r="4.6" fill="#ffe0b9" fill-opacity="0.85"/>
<circle cx="756.2" cy="176.0" r="4.6" fill="#ffe0b9" fill-opacity="0.85"/>
<circle cx="756.2" cy="122.4" r="4.6" fill="#ffe0b9" fill-opacity="0.85"/>
<circle cx="765.8" cy="160.7" r="4.6" fill="#ffe0b9" fill-opacity="0.85"/>
<circle cx="765.8" cy="137.7" r="4.6" fill="#ffe0b9" fill-opacity="0.85"/>
<circle cx="809.3" cy="157.7" r="4.6" fill="#ffe0b9" fill-opacity="0.85"/>
<circle cx="809.3" cy="140.7" r="4.6" fill="#ffe0b9" fill-opacity="0.85"/>
<circle cx="810.4" cy="149.2" r="4.6" fill="#ffe0b9" fill-opacity="0.85"/>
<circle cx="815.5" cy="158.7" r="4.6" fill="#ffe0b9" fill-opacity="0.80"/>
<circle cx="815.5" cy="139.7" r="4.6" fill="#ffe0b9" fill-opacity="0.80"/>
<circle cx="862.3" cy="177.6" r="4.6" fill="#ffe0b9" fill-opacity="0.90"/>
<circle cx="862.3" cy="120.8" r="4.6" fill="#ffe0b9" fill-opacity="0.90"/>
<circle cx="923.4" cy="152.6" r="4.6" fill="#ffe0b9" fill-opacity="0.85"/>
<circle cx="923.4" cy="145.8" r="4.6" fill="#ffe0b9" fill-opacity="0.85"/>
<circle cx="927.5" cy="149.2" r="4.6" fill="#ffe0b9" fill-opacity="0.80"/>
<circle cx="719.6" cy="160.5" r="4.6" fill="#ffe0b8" fill-opacity="0.65"/>
<circle cx="719.6" cy="137.9" r="4.6" fill="#ffe0b8" fill-opacity="0.65"/>
<circle cx="840.6" cy="163.0" r="4.6" fill="#ffdfb6" fill-opacity="0.90"/>
<circle cx="840.6" cy="135.4" r="4.6" fill="#ffdfb6" fill-opacity="0.90"/>
<circle cx="855.5" cy="170.8" r="4.6" fill="#ffdfb6" fill-opacity="0.90"/>
<circle cx="855.5" cy="127.6" r="4.6" fill="#ffdfb6" fill-opacity="0.90"/>
<circle cx="902.2" cy="159.1" r="4.6" fill="#ffdfb6" fill-opacity="0.90"/>
<circle cx="902.2" cy="139.3" r="4.6" fill="#ffdfb6" fill-opacity="0.90"/>
<circle cx="735.5" cy="164.8" r="4.6" fill="#ffdcb0" fill-opacity="0.70"/>
<circle cx="735.5" cy="133.6" r="4.6" fill="#ffdcb0" fill-opacity="0.70"/>
<circle cx="818.9" cy="164.1" r="4.6" fill="#ffdcb0" fill-opacity="0.85"/>
<circle cx="818.9" cy="134.3" r="4.6" fill="#ffdcb0" fill-opacity="0.85"/>
<circle cx="863.3" cy="162.0" r="4.6" fill="#ffdaa9" fill-opacity="0.95"/>
<circle cx="863.3" cy="136.4" r="4.6" fill="#ffdaa9" fill-opacity="0.95"/>
<circle cx="867.2" cy="149.2" r="4.6" fill="#ffdaa9" fill-opacity="0.95"/>
<circle cx="892.6" cy="159.1" r="4.6" fill="#ffd9a8" fill-opacity="0.95"/>
<circle cx="892.6" cy="139.3" r="4.6" fill="#ffd9a8" fill-opacity="0.95"/>
<circle cx="900.0" cy="149.2" r="4.6" fill="#ffd9a8" fill-opacity="0.90"/>
<circle cx="933.3" cy="149.2" r="4.6" fill="#ffd9a4" fill-opacity="0.95"/>
<circle cx="911.3" cy="149.2" r="4.6" fill="#ffd79f" fill-opacity="0.95"/>
<circle cx="648.5" cy="149.2" r="4.6" fill="#ffd596" fill-opacity="0.90"/>
<circle cx="653.2" cy="149.2" r="4.6" fill="#ffd596" fill-opacity="0.90"/>
<circle cx="779.2" cy="172.8" r="4.6" fill="#ffd29b" fill-opacity="0.95"/>
<circle cx="779.2" cy="125.6" r="4.6" fill="#ffd29b" fill-opacity="0.95"/>
<circle cx="897.5" cy="153.7" r="4.6" fill="#ffd29b" fill-opacity="0.80"/>
<circle cx="897.5" cy="144.7" r="4.6" fill="#ffd29b" fill-opacity="0.80"/>
<circle cx="823.1" cy="173.6" r="4.6" fill="#ffcd96" fill-opacity="0.95"/>
<circle cx="823.1" cy="124.8" r="4.6" fill="#ffcd96" fill-opacity="0.95"/>
<circle cx="953.1" cy="156.8" r="4.6" fill="#ffc987" fill-opacity="1.00"/>
<circle cx="953.1" cy="141.6" r="4.6" fill="#ffc987" fill-opacity="1.00"/>
<circle cx="894.3" cy="149.2" r="4.6" fill="#ffc782" fill-opacity="1.00"/>
<circle cx="805.5" cy="175.8" r="4.6" fill="#ffb877" fill-opacity="1.00"/>
<circle cx="805.5" cy="122.6" r="4.6" fill="#ffb877" fill-opacity="1.00"/>
<circle cx="817.4" cy="174.5" r="4.6" fill="#ffb570" fill-opacity="1.00"/>
<circle cx="817.4" cy="123.9" r="4.6" fill="#ffb570" fill-opacity="1.00"/>
<circle cx="945.2" cy="152.3" r="4.6" fill="#ffab66" fill-opacity="1.00"/>
<circle cx="945.2" cy="146.0" r="4.6" fill="#ffab66" fill-opacity="1.00"/>
<circle cx="773.9" cy="149.2" r="4.6" fill="#ffa564" fill-opacity="1.00"/>
<circle cx="794.9" cy="175.4" r="4.6" fill="#ff9048" fill-opacity="1.00"/>
<circle cx="794.9" cy="123.0" r="4.6" fill="#ff9048" fill-opacity="1.00"/>
<circle cx="952.0" cy="152.3" r="4.6" fill="#800000" fill-opacity="1.00"/>
<circle cx="952.0" cy="146.0" r="4.6" fill="#800000" fill-opacity="1.00"/>
</g>
<path d="M956.1 88.2 V209" stroke="#000" stroke-width="2.4" stroke-dasharray="7.8 3.2" stroke-dashoffset="6" fill="none"/>
<path d="M643.1 88.5 V209.7 H988.5" fill="none" stroke="#000" stroke-width="4.7" stroke-linecap="round"/>
<path d="M638.1 88.5 H642" stroke="#000" stroke-width="4.7" stroke-linecap="round"/>
<path d="M638.1 149.2 H642" stroke="#000" stroke-width="4.7" stroke-linecap="round"/>
<path d="M638.1 209.7 H642" stroke="#000" stroke-width="4.7" stroke-linecap="round"/>
<path d="M643.1 211 V216" stroke="#000" stroke-width="4.7" stroke-linecap="round"/>
<path d="M955.8 211 V216" stroke="#000" stroke-width="4.7" stroke-linecap="round"/>
<text x="631" y="90.6" font-size="28.4" text-anchor="end">0.5</text>
<text x="631" y="158.8" font-size="28.4" text-anchor="end">0.0</text>
<text x="631" y="215.1" font-size="28.4" text-anchor="end">-0.5</text>
<text x="645.5" y="243" font-size="28.4" text-anchor="middle">-0.5</text>
<text x="954.5" y="243" font-size="28.4" text-anchor="middle">0.0</text>
<text x="798" y="251.2" font-size="28.4" text-anchor="middle">real</text>
<text x="576.5" y="139.5" font-size="28.4" text-anchor="middle" transform="rotate(-90 576.5 139.5)">imag.</text>
<rect x="875" y="66" width="113" height="10.4" fill="url(#cm)"/>
<path d="M875 57.6 V65 H988.3 M969.5 57.6 V65" fill="none" stroke="#000" stroke-width="2.6" stroke-linecap="butt"/>
<text x="874.3" y="48.4" font-size="28.4" text-anchor="middle">0.0</text>
<text x="969.3" y="48.4" font-size="28.4" text-anchor="middle">1.25</text>
<text x="934.5" y="19.3" font-size="28.4" text-anchor="middle">weight</text>
<text x="529.3" y="55.5" font-size="40" text-anchor="start" font-weight="bold">b</text>
</g>
<g id="panel-c">
<path d="M645 389.2 L645 300.4 L650.5 300.4 L650.5 272.8 L656 272.8 L656 300.4 L661.5 300.4 L661.5 318.4 L667.1 318.4 L667.1 331.3 L672.6 331.3 L672.6 354.8 L678.1 354.8 L678.1 360.9 L683.6 360.9 L683.6 361.5 L689.1 361.5 L689.1 370.5 L694.6 370.5 L694.6 374.1 L700.1 374.1 L700.1 377 L705.6 377 L705.6 381.5 L711.2 381.5 L711.2 380.2 L716.7 380.2 L716.7 382.1 L722.2 382.1 L722.2 382.8 L727.7 382.8 L727.7 383 L733.2 383 L733.2 383.1 L738.7 383.1 L738.7 386 L744.2 386 L744.2 386.9 L749.7 386.9 L749.7 388.1 L755.3 388.1 L755.3 388.1 L760.8 388.1 L760.8 387.9 L766.3 387.9 L766.3 387.3 L771.8 387.3 L771.8 387.3 L777.3 387.3 L777.3 387.6 L782.8 387.6 L782.8 388.9 L788.3 388.9 L788.3 387.9 L793.9 387.9 L793.9 388.2 L799.4 388.2 L799.4 387.6 L804.9 387.6 L804.9 388.6 L810.4 388.6 L810.4 387.9 L815.9 387.9 L815.9 388.4 L821.4 388.4 L821.4 388 L826.9 388 L826.9 388.6 L832.4 388.6 L832.4 388.2 L838 388.2 L838 388.7 L843.5 388.7 L843.5 388.4 L849 388.4 L849 388.9 L854.5 388.9 L854.5 389.2 L860 389.2 L860 389.2 L865.5 389.2 L865.5 389.1 L871 389.1 L871 389.2 L876.5 389.2 L876.5 389 L882.1 389 L882.1 389.2 L887.6 389.2 L887.6 389.1 L893.1 389.1 L893.1 389.2 L898.6 389.2 L898.6 389.2 L904.1 389.2 L904.1 389.1 L909.6 389.1 L909.6 389.2 L915.1 389.2 L915.1 389.2 L920.6 389.2 L920.6 389.1 L926.2 389.1 L926.2 389.2 L931.7 389.2 L931.7 389.2 L937.2 389.2 L937.2 389.2 L942.7 389.2 L942.7 389.1 L948.2 389.1 L948.2 389.2 L953.7 389.2 L953.7 389.2 L959.2 389.2 L959.2 389.2 L964.8 389.2 L964.8 389.2 L970.3 389.2 L970.3 389.2 L975.8 389.2 L975.8 389.2Z" fill="#bebebe" stroke="none"/>
<path d="M645 389.2 L645 300.4 L650.5 300.4 L650.5 272.8 L656 272.8 L656 300.4 L661.5 300.4 L661.5 318.4 L667.1 318.4 L667.1 331.3 L672.6 331.3 L672.6 354.8 L678.1 354.8 L678.1 360.9 L683.6 360.9 L683.6 361.5 L689.1 361.5 L689.1 370.5 L694.6 370.5 L694.6 374.1 L700.1 374.1 L700.1 377 L705.6 377 L705.6 381.5 L711.2 381.5 L711.2 380.2 L716.7 380.2 L716.7 382.1 L722.2 382.1 L722.2 382.8 L727.7 382.8 L727.7 383 L733.2 383 L733.2 383.1 L738.7 383.1 L738.7 386 L744.2 386 L744.2 386.9 L749.7 386.9 L749.7 388.1 L755.3 388.1 L755.3 388.1 L760.8 388.1 L760.8 387.9 L766.3 387.9 L766.3 387.3 L771.8 387.3 L771.8 387.3 L777.3 387.3 L777.3 387.6 L782.8 387.6 L782.8 388.9 L788.3 388.9 L788.3 387.9 L793.9 387.9 L793.9 388.2 L799.4 388.2 L799.4 387.6 L804.9 387.6 L804.9 388.6 L810.4 388.6 L810.4 387.9 L815.9 387.9 L815.9 388.4 L821.4 388.4 L821.4 388 L826.9 388 L826.9 388.6 L832.4 388.6 L832.4 388.2 L838 388.2 L838 388.7 L843.5 388.7 L843.5 388.4 L849 388.4 L849 388.9 L854.5 388.9 L854.5 389.2 L860 389.2 L860 389.2 L865.5 389.2 L865.5 389.1 L871 389.1 L871 389.2 L876.5 389.2 L876.5 389 L882.1 389 L882.1 389.2 L887.6 389.2 L887.6 389.1 L893.1 389.1 L893.1 389.2 L898.6 389.2 L898.6 389.2 L904.1 389.2 L904.1 389.1 L909.6 389.1 L909.6 389.2 L915.1 389.2 L915.1 389.2 L920.6 389.2 L920.6 389.1 L926.2 389.1 L926.2 389.2 L931.7 389.2 L931.7 389.2 L937.2 389.2 L937.2 389.2 L942.7 389.2 L942.7 389.1 L948.2 389.1 L948.2 389.2 L953.7 389.2 L953.7 389.2 L959.2 389.2 L959.2 389.2 L964.8 389.2 L964.8 389.2 L970.3 389.2 L970.3 389.2 L975.8 389.2 L975.8 389.2" fill="none" stroke="#000" stroke-width="3.4" stroke-linejoin="miter" stroke-linecap="round"/>
<path d="M635.2 268 V394.4" fill="none" stroke="#000" stroke-width="3.8" stroke-linecap="round"/>
<path d="M635.2 394.4 H986" fill="none" stroke="#000" stroke-width="4.3" stroke-linecap="round"/>
<path d="M630 292.2 H634" stroke="#000" stroke-width="4.3" stroke-linecap="round"/>
<path d="M630 389.4 H634" stroke="#000" stroke-width="4.3" stroke-linecap="round"/>
<path d="M645 395 V400" stroke="#000" stroke-width="4" stroke-linecap="round"/>
<path d="M755.3 395 V400" stroke="#000" stroke-width="4" stroke-linecap="round"/>
<path d="M865.5 395 V400" stroke="#000" stroke-width="4" stroke-linecap="round"/>
<path d="M975.8 395 V400" stroke="#000" stroke-width="4" stroke-linecap="round"/>
<text x="623" y="301.8" font-size="28.4" text-anchor="end">15</text>
<text x="623" y="395.1" font-size="28.4" text-anchor="end">0</text>
<text x="645.2" y="426" font-size="28.4" text-anchor="middle">0.0</text>
<text x="755.4" y="426" font-size="28.4" text-anchor="middle">0.2</text>
<text x="865.6" y="426" font-size="28.4" text-anchor="middle">0.4</text>
<text x="974.5" y="426" font-size="28.4" text-anchor="middle">0.6</text>
<text x="810.4" y="449" font-size="28.4" text-anchor="middle">weight</text>
<text x="585.5" y="342" font-size="28.4" text-anchor="middle" transform="rotate(-90 585.5 342)">density</text>
<text x="529" y="271" font-size="40" text-anchor="start" font-weight="bold">c</text>
</g>
<g id="panel-d">
<path d="M648 567.5 L648.5 566.7 L649.1 565.8 L649.6 564.9 L650.1 564.1 L650.6 563.2 L651.1 562.3 L651.6 561.4 L652.1 560.6 L652.5 559.7 L653 558.8 L653.4 557.9 L653.9 557 L654.3 556.1 L654.8 555.2 L655.2 554.3 L655.7 553.4 L656.1 552.5 L656.5 551.6 L657 550.7 L657.4 549.8 L657.8 548.9 L658.3 548 L658.7 547 L659.1 546.1 L659.6 545.2 L660 544.3 L660.4 543.4 L660.9 542.5 L661.3 541.6 L661.8 540.7 L662.3 539.8 L662.7 539 L663.2 538.1 L663.7 537.2 L664.2 536.3 L664.7 535.5 L665.2 534.6 L665.7 533.7 L666.2 532.9 L666.7 532 L667.3 531.2 L667.8 530.3 L668.4 529.5 L668.9 528.6 L669.5 527.8 L670.1 527 L670.6 526.2 L671.2 525.3 L671.8 524.5 L672.4 523.7 L673 522.9 L673.6 522.1 L674.3 521.3 L674.9 520.6 L675.5 519.8 L676.2 519 L676.8 518.2 L677.4 517.5 L678.1 516.7 L678.8 516 L679.4 515.2 L680.1 514.5 L680.8 513.7 L681.5 513 L682.2 512.3 L682.9 511.6 L683.6 510.8 L684.3 510.1 L685 509.4 L685.7 508.7 L686.5 508 L687.2 507.3 L687.9 506.6 L688.6 506 L689.4 505.3 L690.1 504.6 L690.9 503.9 L691.6 503.2 L692.3 502.6 L693.1 501.9 L693.8 501.2 L694.6 500.5 L695.3 499.8 L696 499.2 L696.8 498.5 L697.5 497.8 L698.2 497.1 L698.9 496.4 L699.6 495.7 L700.3 495 L701.1 494.3 L701.8 493.5 L702.5 492.8 L703.2 492.1 L703.9 491.4 L704.6 490.7 L705.3 490 L706 489.3 L706.7 488.6 L707.4 487.9 L708.2 487.2 L708.9 486.5 L709.6 485.8 L710.3 485.1 L711.1 484.4 L711.8 483.7 L712.5 483 L713.3 482.4 L714 481.7 L714.8 481.1 L715.6 480.4 L716.3 479.8 L717.1 479.1 L717.9 478.5 L718.7 477.9 L719.5 477.2 L720.3 476.6 L721.1 476.1 L722 475.5 L722.8 475 L723.7 474.6 L724.6 474.2 L725.6 473.8 L726.5 473.5 L727.5 473.2 L728.5 473 L729.5 472.8 L730.5 472.7 L731.5 472.6 L732.5 472.6 L733.5 472.6 L734.5 472.7 L735.5 472.9 L736.5 473.1 L737.5 473.3 L738.4 473.6 L739.4 474 L740.3 474.3 L741.2 474.8 L742.1 475.2 L743 475.7 L743.8 476.3 L744.6 476.9 L745.4 477.5 L746.1 478.2 L746.9 478.9 L747.5 479.7 L748.2 480.5 L748.8 481.2 L749.4 482.1 L750 482.9 L750.5 483.7 L751.1 484.6 L751.6 485.4 L752.1 486.3 L752.5 487.2 L753 488.1 L753.5 489 L753.9 489.9 L754.4 490.8 L754.8 491.7 L755.3 492.6 L755.7 493.5 L756.1 494.4 L756.6 495.3 L757 496.2 L757.4 497.1 L757.8 498 L758.2 498.9 L758.7 499.9 L759.1 500.8 L759.5 501.7 L759.9 502.6 L760.3 503.5 L760.7 504.4 L761.1 505.4 L761.5 506.3 L761.9 507.2 L762.2 508.1 L762.6 509.1 L763 510 L763.4 510.9 L763.8 511.8 L764.2 512.8 L764.6 513.7 L765 514.6 L765.4 515.5 L765.8 516.5 L766.2 517.4 L766.6 518.3 L767 519.2 L767.4 520.2 L767.8 521.1 L768.2 522 L768.6 522.9 L769 523.8 L769.4 524.7 L769.9 525.6 L770.3 526.5 L770.8 527.4 L771.2 528.3 L771.7 529.2 L772.1 530.1 L772.6 531 L773.1 531.9 L773.5 532.8 L774 533.6 L774.5 534.5 L775 535.4 L775.5 536.2 L776.1 537.1 L776.6 538 L777.1 538.8 L777.6 539.7 L778.1 540.5 L778.7 541.4 L779.2 542.2 L779.8 543.1 L780.3 543.9 L780.9 544.8 L781.5 545.6 L782.1 546.4 L782.7 547.2 L783.3 548 L783.9 548.7 L784.6 549.5 L785.3 550.2 L786 550.9 L786.7 551.7 L787.4 552.4 L788.1 553.1 L788.8 553.8 L789.6 554.4 L790.4 555.1 L791.2 555.7 L792 556.3 L792.8 556.8 L793.7 557.3 L794.7 557.7 L795.6 558 L796.6 558.2 L797.6 558.4 L798.6 558.4 L799.6 558.4 L800.6 558.2 L801.6 558 L802.5 557.7 L803.5 557.3 L804.4 556.9 L805.3 556.4 L806.1 555.9 L807 555.4 L807.8 554.8 L808.6 554.2 L809.4 553.6 L810.2 553 L811 552.3 L811.7 551.7 L812.5 551 L813.2 550.3 L813.9 549.6 L814.6 548.9 L815.2 548.1 L815.9 547.3 L816.5 546.5 L817.1 545.7 L817.7 544.9 L818.3 544.1 L818.9 543.3 L819.5 542.5 L820.1 541.7 L820.7 540.9 L821.3 540 L821.9 539.2 L822.4 538.4 L823 537.6 L823.6 536.8 L824.2 536 L824.8 535.2 L825.4 534.4 L826 533.6 L826.6 532.8 L827.2 532 L827.8 531.1 L828.4 530.3 L828.9 529.5 L829.5 528.7 L830.1 527.9 L830.7 527 L831.3 526.2 L831.8 525.4 L832.4 524.6 L833 523.8 L833.5 522.9 L834.1 522.1 L834.7 521.3 L835.3 520.5 L835.9 519.7 L836.5 518.8 L837.1 518 L837.7 517.2 L838.3 516.4 L838.9 515.6 L839.5 514.8 L840.1 514 L840.7 513.3 L841.4 512.5 L842 511.7 L842.6 510.9 L843.3 510.1 L843.9 509.4 L844.5 508.6 L845.2 507.8 L845.8 507 L846.4 506.3 L847.1 505.5 L847.7 504.7 L848.3 503.9 L849 503.1 L849.6 502.3 L850.2 501.6 L850.8 500.8 L851.5 500 L852.1 499.2 L852.7 498.4 L853.3 497.6 L854 496.9 L854.6 496.1 L855.3 495.3 L855.9 494.6 L856.6 493.8 L857.2 493.1 L857.9 492.3 L858.6 491.6 L859.3 490.9 L860 490.1 L860.7 489.4 L861.4 488.7 L862.2 488 L862.9 487.4 L863.6 486.7 L864.4 486 L865.2 485.4 L865.9 484.7 L866.7 484.1 L867.5 483.5 L868.3 482.8 L869.1 482.2 L869.9 481.7 L870.8 481.1 L871.6 480.5 L872.4 480 L873.3 479.5 L874.2 479 L875.1 478.5 L875.9 478 L876.8 477.6 L877.8 477.2 L878.7 476.8 L879.6 476.4 L880.6 476.1 L881.5 475.8 L882.5 475.5 L883.5 475.2 L884.4 475 L885.4 474.8 L886.4 474.6 L887.4 474.5 L888.4 474.4 L889.4 474.4 L890.4 474.4 L891.4 474.5 L892.4 474.6 L893.4 474.8 L894.4 475 L895.4 475.2 L896.4 475.5 L897.3 475.8 L898.3 476.2 L899.2 476.6 L900.1 477 L901 477.5 L901.8 478 L902.6 478.6 L903.4 479.2 L904.2 479.8 L905 480.5 L905.7 481.2 L906.5 481.9 L907.2 482.6 L907.9 483.3 L908.5 484.1 L909.2 484.8 L909.8 485.6 L910.4 486.4 L911.1 487.2 L911.6 488 L912.2 488.8 L912.8 489.7 L913.3 490.5 L913.9 491.3 L914.4 492.2 L914.9 493.1 L915.4 493.9 L916 494.8 L916.5 495.6 L917 496.5 L917.5 497.3 L918 498.2 L918.5 499.1 L919 500 L919.5 500.8 L920 501.7 L920.5 502.6 L920.9 503.5 L921.4 504.4 L921.8 505.3 L922.3 506.2 L922.7 507.1 L923.2 508 L923.6 508.9 L924 509.8 L924.5 510.7 L924.9 511.6 L925.3 512.5 L925.8 513.4 L926.2 514.3 L926.6 515.2 L927.1 516.1 L927.5 517 L927.9 517.9 L928.4 518.8 L928.8 519.7 L929.3 520.6 L929.7 521.5 L930.2 522.4 L930.7 523.3 L931.2 524.2 L931.6 525.1 L932.1 525.9 L932.7 526.8 L933.2 527.7 L933.7 528.5 L934.2 529.4 L934.8 530.2 L935.3 531.1 L935.8 531.9 L936.4 532.7 L937 533.6 L937.5 534.4 L938.1 535.2 L938.7 536.1 L939.2 536.9 L939.8 537.7 L940.4 538.5 L941 539.3 L941.7 540.1 L942.3 540.9 L942.9 541.6 L943.6 542.4 L944.3 543.1 L944.9 543.9 L945.6 544.6 L946.3 545.3 L947.1 546 L947.8 546.7 L948.5 547.4 L949.3 548.1 L950 548.7 L950.8 549.3 L951.6 550 L952.4 550.6 L953.2 551.2 L954 551.8 L954.8 552.4 L955.6 553 L956.5 553.5 L957.4 553.9 L958.4 554.2 L959.4 554.4 L960.4 554.6 L961.4 554.7 L962.4 554.7 L963.4 554.7 L964.4 554.5 L965.4 554.4 L966.3 554.1 L967.3 553.8 L968.2 553.4 L969.2 553 L970 552.5 L970.9 552" fill="none" stroke="#000000" stroke-width="3.7" stroke-linecap="round" stroke-linejoin="round"/>
<path d="M648.6 524.2 L649.1 525 L649.7 525.9 L650.4 526.6 L651 527.4 L651.7 528.1 L652.4 528.8 L653.2 529.5 L654 530.1 L654.8 530.7 L655.6 531.3 L656.5 531.8 L657.3 532.3 L658.2 532.8 L659.2 533.2 L660.1 533.5 L661.1 533.8 L662.1 533.9 L663.1 534.1 L664.1 534.1 L665.1 534.1 L666.1 534 L667.1 533.9 L668.1 533.7 L669.1 533.4 L670 533.1 L670.9 532.8 L671.9 532.4 L672.8 531.9 L673.7 531.5 L674.6 531.1 L675.5 530.6 L676.4 530.2 L677.3 529.7 L678.2 529.3 L679.1 528.8 L680 528.4 L680.9 527.9 L681.8 527.5 L682.7 527 L683.6 526.6 L684.5 526.2 L685.4 525.8 L686.3 525.4 L687.2 525 L688.2 524.6 L689.1 524.2 L690 523.8 L691 523.4 L691.9 523.1 L692.9 522.8 L693.8 522.5 L694.8 522.2 L695.7 521.9 L696.7 521.6 L697.7 521.4 L698.7 521.2 L699.6 521 L700.6 520.8 L701.6 520.6 L702.6 520.5 L703.6 520.4 L704.6 520.2 L705.6 520.1 L706.6 520 L707.6 520 L708.6 519.9 L709.6 519.8 L710.6 519.8 L711.6 519.7 L712.6 519.6 L713.6 519.6 L714.6 519.5 L715.6 519.5 L716.6 519.4 L717.6 519.3 L718.6 519.3 L719.6 519.2 L720.6 519.1 L721.6 519 L722.6 518.8 L723.6 518.7 L724.6 518.6 L725.6 518.4 L726.6 518.2 L727.6 518.1 L728.6 517.9 L729.6 517.7 L730.5 517.5 L731.5 517.3 L732.5 517 L733.5 516.8 L734.4 516.5 L735.4 516.3 L736.4 516 L737.3 515.7 L738.3 515.5 L739.3 515.2 L740.2 514.9 L741.2 514.6 L742.1 514.3 L743.1 514 L744.1 513.7 L745 513.4 L746 513.1 L747 512.9 L747.9 512.6 L748.9 512.3 L749.9 512.1 L750.8 511.8 L751.8 511.6 L752.8 511.4 L753.8 511.2 L754.8 511 L755.8 510.9 L756.8 510.7 L757.8 510.6 L758.7 510.5 L759.7 510.4 L760.7 510.3 L761.7 510.3 L762.8 510.2 L763.8 510.2 L764.8 510.2 L765.8 510.2 L766.8 510.2 L767.8 510.3 L768.8 510.3 L769.8 510.4 L770.8 510.5 L771.8 510.5 L772.8 510.6 L773.8 510.8 L774.8 510.9 L775.8 511.1 L776.7 511.2 L777.7 511.4 L778.7 511.6 L779.7 511.9 L780.7 512.2 L781.6 512.5 L782.6 512.8 L783.5 513.1 L784.5 513.5 L785.4 513.8 L786.3 514.2 L787.2 514.6 L788.2 515.1 L789 515.5 L789.9 516 L790.8 516.5 L791.7 517 L792.5 517.5 L793.4 518 L794.3 518.5 L795.1 519.1 L796 519.6 L796.8 520.1 L797.7 520.6 L798.5 521.1 L799.4 521.7 L800.3 522.1 L801.2 522.6 L802.1 523.1 L803 523.6 L803.9 524 L804.8 524.4 L805.7 524.9 L806.6 525.3 L807.5 525.6 L808.5 526 L809.4 526.4 L810.3 526.7 L811.3 527 L812.3 527.3 L813.2 527.6 L814.2 527.8 L815.2 528 L816.2 528.2 L817.2 528.4 L818.2 528.5 L819.2 528.6 L820.2 528.7 L821.2 528.7 L822.2 528.7 L823.2 528.7 L824.2 528.7 L825.2 528.6 L826.2 528.5 L827.2 528.4 L828.2 528.3 L829.2 528.2 L830.2 528 L831.1 527.8 L832.1 527.5 L833.1 527.2 L834 526.9 L834.9 526.5 L835.8 526.1 L836.8 525.7 L837.6 525.2 L838.5 524.8 L839.4 524.3 L840.3 523.8 L841.2 523.3 L842.1 522.8 L842.9 522.3 L843.8 521.8 L844.7 521.3 L845.6 520.8 L846.4 520.3 L847.3 519.8 L848.2 519.4 L849.1 518.9 L850 518.4 L850.9 518 L851.8 517.6 L852.7 517.1 L853.6 516.7 L854.5 516.3 L855.4 515.9 L856.4 515.5 L857.3 515.1 L858.2 514.7 L859.1 514.3 L860 513.9 L861 513.5 L861.9 513.1 L862.8 512.7 L863.8 512.4 L864.7 512 L865.6 511.6 L866.6 511.3 L867.5 510.9 L868.5 510.6 L869.4 510.3 L870.4 509.9 L871.3 509.6 L872.3 509.3 L873.2 509 L874.2 508.7 L875.1 508.4 L876.1 508.1 L877 507.8 L878 507.5 L879 507.2 L879.9 507 L880.9 506.7 L881.9 506.5 L882.9 506.2 L883.8 506 L884.8 505.7 L885.8 505.5 L886.8 505.3 L887.7 505 L888.7 504.8 L889.7 504.6 L890.7 504.4 L891.7 504.2 L892.6 504 L893.6 503.8 L894.6 503.6 L895.6 503.4 L896.6 503.2 L897.6 503 L898.5 502.8 L899.5 502.6 L900.5 502.4 L901.5 502.2 L902.5 502 L903.5 501.9 L904.5 501.7 L905.4 501.5 L906.4 501.4 L907.4 501.2 L908.4 501 L909.4 500.9 L910.4 500.7 L911.4 500.6 L912.4 500.5 L913.4 500.4 L914.4 500.3 L915.4 500.2 L916.4 500.2 L917.4 500.1 L918.4 500.1 L919.4 500.1 L920.4 500.1 L921.4 500.1 L922.4 500.2 L923.4 500.2 L924.4 500.3 L925.4 500.3 L926.4 500.4 L927.4 500.5 L928.4 500.6 L929.4 500.7 L930.4 500.8 L931.4 501 L932.4 501.1 L933.4 501.3 L934.4 501.5 L935.4 501.7 L936.3 501.9 L937.3 502.2 L938.3 502.5 L939.2 502.8 L940.2 503.1 L941.1 503.4 L942.1 503.8 L943 504.2 L943.9 504.6 L944.8 505 L945.7 505.4 L946.6 505.9 L947.5 506.4 L948.4 506.8 L949.3 507.3 L950.1 507.8 L951 508.3 L951.9 508.8 L952.8 509.3 L953.7 509.8 L954.6 510.2 L955.4 510.7 L956.3 511.1 L957.2 511.6 L958.1 512 L959 512.5 L959.9 512.9 L960.9 513.3 L961.8 513.8 L962.7 514.2 L963.6 514.6 L964.5 515 L965.4 515.4 L966.3 515.8 L967.2 516.2 L968.2 516.7 L969.1 517.1 L970 517.5 L970.9 517.9" fill="none" stroke="#ff0000" stroke-width="3.7" stroke-linecap="round" stroke-linejoin="round"/>
<path d="M648.6 487.8 L649.1 487 L649.7 486.1 L650.4 485.4 L651 484.6 L651.7 483.9 L652.4 483.2 L653.2 482.5 L654 481.9 L654.8 481.3 L655.6 480.7 L656.5 480.2 L657.3 479.7 L658.2 479.2 L659.2 478.8 L660.1 478.5 L661.1 478.2 L662.1 478.1 L663.1 477.9 L664.1 477.9 L665.1 477.9 L666.1 478 L667.1 478.1 L668.1 478.3 L669.1 478.6 L670 478.9 L670.9 479.2 L671.9 479.6 L672.8 480.1 L673.7 480.5 L674.6 480.9 L675.5 481.4 L676.4 481.8 L677.3 482.3 L678.2 482.7 L679.1 483.2 L680 483.6 L680.9 484.1 L681.8 484.5 L682.7 485 L683.6 485.4 L684.5 485.8 L685.4 486.2 L686.3 486.6 L687.2 487 L688.2 487.4 L689.1 487.8 L690 488.2 L691 488.6 L691.9 488.9 L692.9 489.2 L693.8 489.5 L694.8 489.8 L695.7 490.1 L696.7 490.4 L697.7 490.6 L698.7 490.8 L699.6 491 L700.6 491.2 L701.6 491.4 L702.6 491.5 L703.6 491.6 L704.6 491.8 L705.6 491.9 L706.6 492 L707.6 492 L708.6 492.1 L709.6 492.2 L710.6 492.2 L711.6 492.3 L712.6 492.4 L713.6 492.4 L714.6 492.5 L715.6 492.5 L716.6 492.6 L717.6 492.7 L718.6 492.7 L719.6 492.8 L720.6 492.9 L721.6 493 L722.6 493.2 L723.6 493.3 L724.6 493.4 L725.6 493.6 L726.6 493.8 L727.6 493.9 L728.6 494.1 L729.6 494.3 L730.5 494.5 L731.5 494.7 L732.5 495 L733.5 495.2 L734.4 495.5 L735.4 495.7 L736.4 496 L737.3 496.3 L738.3 496.5 L739.3 496.8 L740.2 497.1 L741.2 497.4 L742.1 497.7 L743.1 498 L744.1 498.3 L745 498.6 L746 498.9 L747 499.1 L747.9 499.4 L748.9 499.7 L749.9 499.9 L750.8 500.2 L751.8 500.4 L752.8 500.6 L753.8 500.8 L754.8 501 L755.8 501.1 L756.8 501.3 L757.8 501.4 L758.7 501.5 L759.7 501.6 L760.7 501.7 L761.7 501.7 L762.8 501.8 L763.8 501.8 L764.8 501.8 L765.8 501.8 L766.8 501.8 L767.8 501.7 L768.8 501.7 L769.8 501.6 L770.8 501.5 L771.8 501.5 L772.8 501.4 L773.8 501.2 L774.8 501.1 L775.8 500.9 L776.7 500.8 L777.7 500.6 L778.7 500.4 L779.7 500.1 L780.7 499.8 L781.6 499.5 L782.6 499.2 L783.5 498.9 L784.5 498.5 L785.4 498.2 L786.3 497.8 L787.2 497.4 L788.2 496.9 L789 496.5 L789.9 496 L790.8 495.5 L791.7 495 L792.5 494.5 L793.4 494 L794.3 493.5 L795.1 492.9 L796 492.4 L796.8 491.9 L797.7 491.4 L798.5 490.9 L799.4 490.3 L800.3 489.9 L801.2 489.4 L802.1 488.9 L803 488.4 L803.9 488 L804.8 487.6 L805.7 487.1 L806.6 486.7 L807.5 486.4 L808.5 486 L809.4 485.6 L810.3 485.3 L811.3 485 L812.3 484.7 L813.2 484.4 L814.2 484.2 L815.2 484 L816.2 483.8 L817.2 483.6 L818.2 483.5 L819.2 483.4 L820.2 483.3 L821.2 483.3 L822.2 483.3 L823.2 483.3 L824.2 483.3 L825.2 483.4 L826.2 483.5 L827.2 483.6 L828.2 483.7 L829.2 483.8 L830.2 484 L831.1 484.2 L832.1 484.5 L833.1 484.8 L834 485.1 L834.9 485.5 L835.8 485.9 L836.8 486.3 L837.6 486.8 L838.5 487.2 L839.4 487.7 L840.3 488.2 L841.2 488.7 L842.1 489.2 L842.9 489.7 L843.8 490.2 L844.7 490.7 L845.6 491.2 L846.4 491.7 L847.3 492.2 L848.2 492.6 L849.1 493.1 L850 493.6 L850.9 494 L851.8 494.4 L852.7 494.9 L853.6 495.3 L854.5 495.7 L855.4 496.1 L856.4 496.5 L857.3 496.9 L858.2 497.3 L859.1 497.7 L860 498.1 L861 498.5 L861.9 498.9 L862.8 499.3 L863.8 499.6 L864.7 500 L865.6 500.4 L866.6 500.7 L867.5 501.1 L868.5 501.4 L869.4 501.7 L870.4 502.1 L871.3 502.4 L872.3 502.7 L873.2 503 L874.2 503.3 L875.1 503.6 L876.1 503.9 L877 504.2 L878 504.5 L879 504.8 L879.9 505 L880.9 505.3 L881.9 505.5 L882.9 505.8 L883.8 506 L884.8 506.3 L885.8 506.5 L886.8 506.7 L887.7 507 L888.7 507.2 L889.7 507.4 L890.7 507.6 L891.7 507.8 L892.6 508 L893.6 508.2 L894.6 508.4 L895.6 508.6 L896.6 508.8 L897.6 509 L898.5 509.2 L899.5 509.4 L900.5 509.6 L901.5 509.8 L902.5 510 L903.5 510.1 L904.5 510.3 L905.4 510.5 L906.4 510.6 L907.4 510.8 L908.4 511 L909.4 511.1 L910.4 511.3 L911.4 511.4 L912.4 511.5 L913.4 511.6 L914.4 511.7 L915.4 511.8 L916.4 511.8 L917.4 511.9 L918.4 511.9 L919.4 511.9 L920.4 511.9 L921.4 511.9 L922.4 511.8 L923.4 511.8 L924.4 511.7 L925.4 511.7 L926.4 511.6 L927.4 511.5 L928.4 511.4 L929.4 511.3 L930.4 511.2 L931.4 511 L932.4 510.9 L933.4 510.7 L934.4 510.5 L935.4 510.3 L936.3 510.1 L937.3 509.8 L938.3 509.5 L939.2 509.2 L940.2 508.9 L941.1 508.6 L942.1 508.2 L943 507.8 L943.9 507.4 L944.8 507 L945.7 506.6 L946.6 506.1 L947.5 505.6 L948.4 505.2 L949.3 504.7 L950.1 504.2 L951 503.7 L951.9 503.2 L952.8 502.7 L953.7 502.2 L954.6 501.8 L955.4 501.3 L956.3 500.9 L957.2 500.4 L958.1 500 L959 499.5 L959.9 499.1 L960.9 498.7 L961.8 498.2 L962.7 497.8 L963.6 497.4 L964.5 497 L965.4 496.6 L966.3 496.2 L967.2 495.8 L968.2 495.3 L969.1 494.9 L970 494.5 L970.9 494.1" fill="none" stroke="#0a78ff" stroke-width="3.7" stroke-linecap="round" stroke-linejoin="round"/>
<path d="M639.4 469 V565.4 H980.3" fill="none" stroke="#000" stroke-width="4.8" stroke-linecap="round"/>
<path d="M634.2 477.5 H638" stroke="#000" stroke-width="4.4" stroke-linecap="round"/>
<path d="M634.2 534.8 H638" stroke="#000" stroke-width="4.4" stroke-linecap="round"/>
<path d="M648.7 566.5 V570.3" stroke="#000" stroke-width="4.4" stroke-linecap="round"/>
<path d="M809.5 566.5 V570.3" stroke="#000" stroke-width="4.4" stroke-linecap="round"/>
<path d="M970.5 566.5 V570.3" stroke="#000" stroke-width="4.4" stroke-linecap="round"/>
<text x="626.5" y="484.6" font-size="28.4" text-anchor="end">2</text>
<text x="626" y="543.8" font-size="28.4" text-anchor="end">-2</text>
<text x="648.7" y="599" font-size="28.4" text-anchor="middle">0</text>
<text x="809.5" y="599" font-size="28.4" text-anchor="middle">365</text>
<text x="967.8" y="599" font-size="28.4" text-anchor="middle">730</text>
<text x="809.6" y="626" font-size="28.4" text-anchor="middle">time [day]</text>
<text x="590.5" y="515" font-size="28.4" text-anchor="middle" transform="rotate(-90 590.5 515)">mode</text>
<text x="528.8" y="468.2" font-size="40" text-anchor="start" font-weight="bold">d</text>
</g>
</svg></body></html>
